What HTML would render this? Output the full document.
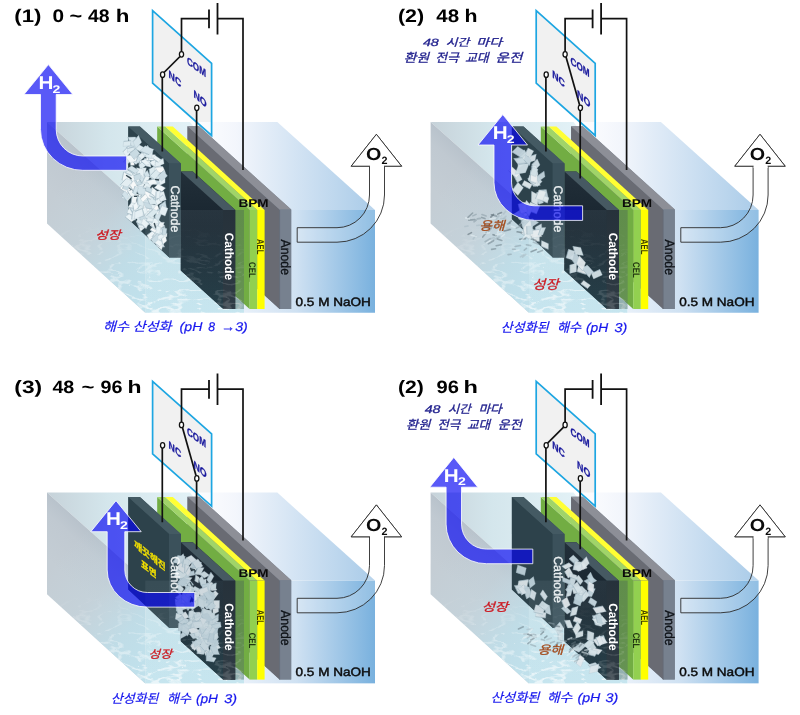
<!DOCTYPE html><html><head><meta charset="utf-8"><title>BPM electrolysis schematic</title><style>html,body{margin:0;padding:0;background:#fff}body{width:800px;height:715px;overflow:hidden;font-family:"Liberation Sans",sans-serif}svg{display:block;will-change:transform}text{font-kerning:none;white-space:pre}</style></head><body><svg width="800" height="715" viewBox="0 0 800 715" font-family="'Liberation Sans', sans-serif" text-rendering="geometricPrecision">
<defs>
<linearGradient id="gTop" gradientUnits="userSpaceOnUse" x1="190" y1="0" x2="375" y2="0">
 <stop offset="0" stop-color="#ffffff"/><stop offset="0.25" stop-color="#f3f6fc"/><stop offset="1" stop-color="#a9cbe8"/>
</linearGradient>
<linearGradient id="gTopSea" gradientUnits="userSpaceOnUse" x1="47" y1="0" x2="250" y2="0">
 <stop offset="0" stop-color="#c6d2d9"/><stop offset="0.3" stop-color="#d4e6ec"/><stop offset="0.7" stop-color="#e2f1f6"/><stop offset="1" stop-color="#ffffff" stop-opacity="0"/>
</linearGradient>
<linearGradient id="gLeft" gradientUnits="userSpaceOnUse" x1="100" y1="160" x2="62" y2="202">
 <stop offset="0" stop-color="#b0bac4"/><stop offset="0.15" stop-color="#b9c3cc"/><stop offset="0.4" stop-color="#c0c9d1"/><stop offset="1" stop-color="#c4cdd4"/>
</linearGradient>
<linearGradient id="gNaOH" gradientUnits="userSpaceOnUse" x1="244" y1="0" x2="375" y2="0">
 <stop offset="0" stop-color="#e8f0f9"/><stop offset="0.4" stop-color="#cfe1f2"/><stop offset="1" stop-color="#79b1de"/>
</linearGradient>
<linearGradient id="gFront" x1="0" y1="0" x2="0" y2="1">
 <stop offset="0" stop-color="#c9dde5" stop-opacity="0.07"/><stop offset="0.55" stop-color="#cfe6ee" stop-opacity="0.09"/><stop offset="1" stop-color="#d6edf5" stop-opacity="0.12"/>
</linearGradient>
<linearGradient id="gLeftH" gradientUnits="userSpaceOnUse" x1="47" y1="200" x2="145" y2="290">
 <stop offset="0" stop-color="#c6e0ea" stop-opacity="0"/><stop offset="0.4" stop-color="#c6e0ea" stop-opacity="0.25"/><stop offset="0.75" stop-color="#bfdfea" stop-opacity="0.85"/><stop offset="1" stop-color="#c0e1ec" stop-opacity="0.97"/>
</linearGradient>
<clipPath id="clipC1"><rect x="165" y="180" width="20" height="42.5"/></clipPath>
<linearGradient id="gInner" x1="0" y1="0" x2="0" y2="1">
 <stop offset="0" stop-color="#cfe3ea"/><stop offset="0.5" stop-color="#c6e3ec"/><stop offset="1" stop-color="#c4e4ee"/>
</linearGradient>
<linearGradient id="gLow" gradientUnits="userSpaceOnUse" x1="0" y1="225" x2="0" y2="312">
 <stop offset="0" stop-color="#000"/><stop offset="0.35" stop-color="#555"/><stop offset="1" stop-color="#fff"/>
</linearGradient>
<mask id="mLow" maskUnits="userSpaceOnUse" x="0" y="100" width="400" height="230"><rect x="0" y="100" width="400" height="230" fill="url(#gLow)"/></mask>
<linearGradient id="gCathL" x1="0" y1="0" x2="0" y2="1">
 <stop offset="0" stop-color="#222f39"/><stop offset="0.4" stop-color="#18252f"/><stop offset="1" stop-color="#0f2832"/>
</linearGradient>
<filter id="caust" x="0" y="0" width="100%" height="100%" color-interpolation-filters="sRGB">
 <feTurbulence type="turbulence" baseFrequency="0.05 0.11" numOctaves="2" seed="7" result="t"/>
 <feColorMatrix in="t" type="matrix" values="0 0 0 0 1  0 0 0 0 1  0 0 0 0 1  -9 0 0 0 1.5" result="m"/>
 <feComposite in="m" in2="SourceGraphic" operator="in"/>
</filter>
</defs>
<rect width="800" height="715" fill="#fff"/><g transform="translate(0 0)"><polygon points="152.6,10.7 211.6,63.3 211.6,135.5 152.6,83.2" fill="#f1f1f1" /><polygon points="47.0,122.0 277.3,122.0 375.0,210.0 145.3,210.0" fill="url(#gTop)" /><polygon points="47.0,122.0 190.0,122.0 258.0,210.0 145.3,210.0" fill="url(#gTopSea)" /><polygon points="47.0,122.0 145.3,210.0 145.3,312.8 47.0,223.6" fill="url(#gLeft)" /><polygon points="47.0,122.0 145.3,210.0 145.3,312.8 47.0,223.6" fill="url(#gLeftH)" /><polygon points="47.0,122.0 145.3,210.0 145.3,312.8 47.0,223.6" fill="#fff" filter="url(#caust)" mask="url(#mLow)" opacity="0.6"/><rect x="145.3" y="210" width="98.7" height="102.75" fill="url(#gInner)"/><rect x="145.3" y="210" width="98.7" height="102.75" fill="#fff" filter="url(#caust)" mask="url(#mLow)" opacity="0.6"/><rect x="244" y="210" width="131" height="102.75" fill="url(#gNaOH)"/><polygon points="187.5,126.2 199.1,126.2 291.2,209.6 291.2,308.9 279.6,308.9 187.5,225.5" fill="#77818f" /><polygon points="187.5,126.2 279.6,209.6 279.6,308.9 187.5,225.5" fill="#696b73" /><polygon points="187.5,126.2 199.1,126.2 291.2,209.6 279.6,209.6" fill="#8d8f97" /><polygon points="279.3,209.6 291.2,209.6 291.2,308.9 279.3,308.9" fill="#77818f" /><line x1="279.6" y1="210" x2="279.6" y2="309" stroke="#5c636e" stroke-width="0.6"/><polygon points="157.2,126.4 249.6,210.0 249.6,309.0 157.2,225.4" fill="#72ad43" /><polygon points="157.2,126.4 165.2,126.4 257.2,210.0 249.6,210.0" fill="#a0d468" /><polygon points="165.2,126.4 172.8,126.4 264.6,210.0 257.2,210.0" fill="#ffff33" /><rect x="249.6" y="210.0" width="7.6" height="99.0" fill="#92d050"/><rect x="257.2" y="210.0" width="7.4" height="99.0" fill="#ffff00"/><polygon points="180.8,171.6 192.8,171.6 235.3,210.1 235.3,309.1 223.3,309.1 180.8,270.6" fill="#1a252e" /><polygon points="180.8,171.6 223.3,210.1 223.3,309.1 180.8,270.6" fill="url(#gCathL)" /><polygon points="180.8,171.6 192.8,171.6 235.3,210.1 223.3,210.1" fill="#465962" /><polygon points="223.0,210.1 235.3,210.1 235.3,309.1 223.0,309.1" fill="#1a252e" /><polygon points="128.3,126.4 139.9,126.4 180.9,163.5 180.9,257.5 169.3,257.5 128.3,218.9" fill="#3b515b" /><polygon points="128.3,126.4 169.3,163.5 169.3,257.5 128.3,218.9" fill="#2d424b" /><polygon points="128.3,126.4 139.9,126.4 180.9,163.5 169.3,163.5" fill="#445a63" /><polygon points="169.0,163.5 180.9,163.5 180.9,257.5 169.0,257.5" fill="#3b515b" /><polygon points="145.7,194.2 145.5,203.4 139.5,201.0 139.7,191.8" fill="#dceaef" stroke="#a9c0ca" stroke-width="0.3" opacity="1.00"/><line x1="139.7" y1="191.8" x2="139.5" y2="201.0" stroke="#9db5c0" stroke-width="0.7" opacity="0.80"/><polygon points="141.8,200.4 147.4,203.1 145.3,206.6 139.6,203.9" fill="#f0f6f8" stroke="#a9c0ca" stroke-width="0.3" opacity="1.00"/><line x1="139.6" y1="203.9" x2="145.3" y2="206.6" stroke="#9db5c0" stroke-width="0.7" opacity="0.80"/><polygon points="145.4,181.6 142.2,189.4 135.3,190.1 138.5,182.3" fill="#e6f0f4" stroke="#a9c0ca" stroke-width="0.3" opacity="1.00"/><line x1="138.5" y1="182.3" x2="135.3" y2="190.1" stroke="#9db5c0" stroke-width="0.7" opacity="0.80"/><polygon points="133.5,159.8 134.5,165.3 130.7,165.4 129.7,159.9" fill="#f7f9f9" stroke="#a9c0ca" stroke-width="0.3" opacity="1.00"/><line x1="129.7" y1="159.9" x2="130.7" y2="165.4" stroke="#9db5c0" stroke-width="0.7" opacity="0.80"/><polygon points="147.6,211.0 140.3,211.1 141.4,206.7 148.7,206.6" fill="#e6f0f4" stroke="#a9c0ca" stroke-width="0.3" opacity="1.00"/><line x1="148.7" y1="206.6" x2="141.4" y2="206.7" stroke="#9db5c0" stroke-width="0.7" opacity="0.80"/><polygon points="140.9,160.2 136.0,164.6 133.3,162.4 138.2,157.9" fill="#d3e3ea" stroke="#a9c0ca" stroke-width="0.3" opacity="1.00"/><line x1="138.2" y1="157.9" x2="133.3" y2="162.4" stroke="#9db5c0" stroke-width="0.7" opacity="0.80"/><polygon points="166.0,229.9 160.8,231.4 159.6,228.5 164.9,227.0" fill="#c9dbe3" stroke="#a9c0ca" stroke-width="0.3" opacity="1.00"/><line x1="164.9" y1="227.0" x2="159.6" y2="228.5" stroke="#9db5c0" stroke-width="0.7" opacity="0.80"/><rect x="143.0" y="157.1" width="6.6" height="1.4" fill="#34464f" transform="rotate(56 147.1 157.8)"/><polygon points="131.6,210.8 131.8,216.3 128.2,216.7 127.9,211.2" fill="#f7f9f9" stroke="#a9c0ca" stroke-width="0.3" opacity="1.00"/><line x1="127.9" y1="211.2" x2="128.2" y2="216.7" stroke="#9db5c0" stroke-width="0.7" opacity="0.80"/><polygon points="128.9,212.9 134.5,215.1 135.4,220.1 129.8,217.9" fill="#f7f9f9" stroke="#a9c0ca" stroke-width="0.3" opacity="1.00"/><line x1="129.8" y1="217.9" x2="135.4" y2="220.1" stroke="#9db5c0" stroke-width="0.7" opacity="0.80"/><polygon points="153.5,239.5 161.4,240.0 164.6,246.9 156.8,246.4" fill="#e6f0f4" stroke="#a9c0ca" stroke-width="0.3" opacity="1.00"/><line x1="156.8" y1="246.4" x2="164.6" y2="246.9" stroke="#9db5c0" stroke-width="0.7" opacity="0.80"/><polygon points="134.6,184.4 129.8,187.2 126.1,184.8 130.9,182.0" fill="#e6f0f4" stroke="#a9c0ca" stroke-width="0.3" opacity="1.00"/><line x1="130.9" y1="182.0" x2="126.1" y2="184.8" stroke="#9db5c0" stroke-width="0.7" opacity="0.80"/><polygon points="149.8,159.4 151.0,167.3 145.8,166.0 144.6,158.2" fill="#e3eef2" stroke="#a9c0ca" stroke-width="0.3" opacity="1.00"/><line x1="144.6" y1="158.2" x2="145.8" y2="166.0" stroke="#9db5c0" stroke-width="0.7" opacity="0.80"/><polygon points="127.8,173.3 133.8,178.6 132.1,183.6 126.1,178.3" fill="#f7f9f9" stroke="#a9c0ca" stroke-width="0.3" opacity="1.00"/><line x1="126.1" y1="178.3" x2="132.1" y2="183.6" stroke="#9db5c0" stroke-width="0.7" opacity="0.80"/><polygon points="152.0,191.4 152.4,199.7 147.3,202.4 146.9,194.2" fill="#f0f6f8" stroke="#a9c0ca" stroke-width="0.3" opacity="1.00"/><line x1="146.9" y1="194.2" x2="147.3" y2="202.4" stroke="#9db5c0" stroke-width="0.7" opacity="0.80"/><polygon points="137.1,212.4 135.1,218.7 131.0,214.6 133.0,208.4" fill="#dceaef" stroke="#a9c0ca" stroke-width="0.3" opacity="1.00"/><line x1="133.0" y1="208.4" x2="131.0" y2="214.6" stroke="#9db5c0" stroke-width="0.7" opacity="0.80"/><polygon points="141.0,203.1 147.2,208.0 146.4,212.7 140.1,207.7" fill="#f0f6f8" stroke="#a9c0ca" stroke-width="0.3" opacity="1.00"/><line x1="140.1" y1="207.7" x2="146.4" y2="212.7" stroke="#9db5c0" stroke-width="0.7" opacity="0.80"/><polygon points="143.0,160.5 142.4,166.1 139.0,166.3 139.5,160.7" fill="#e6f0f4" stroke="#a9c0ca" stroke-width="0.3" opacity="1.00"/><line x1="139.5" y1="160.7" x2="139.0" y2="166.3" stroke="#9db5c0" stroke-width="0.7" opacity="0.80"/><polygon points="163.7,242.2 161.6,250.0 156.6,245.5 158.7,237.7" fill="#f0f6f8" stroke="#a9c0ca" stroke-width="0.3" opacity="1.00"/><line x1="158.7" y1="237.7" x2="156.6" y2="245.5" stroke="#9db5c0" stroke-width="0.7" opacity="0.80"/><polygon points="146.0,173.1 144.0,179.5 141.0,177.6 143.0,171.1" fill="#e6f0f4" stroke="#a9c0ca" stroke-width="0.3" opacity="1.00"/><line x1="143.0" y1="171.1" x2="141.0" y2="177.6" stroke="#9db5c0" stroke-width="0.7" opacity="0.80"/><polygon points="133.3,194.8 127.6,201.1 121.7,197.3 127.4,191.1" fill="#eaf3f6" stroke="#a9c0ca" stroke-width="0.3" opacity="1.00"/><line x1="127.4" y1="191.1" x2="121.7" y2="197.3" stroke="#9db5c0" stroke-width="0.7" opacity="0.80"/><polygon points="156.9,234.9 149.8,240.4 146.9,235.3 154.0,229.8" fill="#f0f6f8" stroke="#a9c0ca" stroke-width="0.3" opacity="1.00"/><line x1="154.0" y1="229.8" x2="146.9" y2="235.3" stroke="#9db5c0" stroke-width="0.7" opacity="0.80"/><polygon points="143.1,197.9 139.8,205.1 136.5,202.3 139.8,195.1" fill="#c9dbe3" stroke="#a9c0ca" stroke-width="0.3" opacity="1.00"/><line x1="139.8" y1="195.1" x2="136.5" y2="202.3" stroke="#9db5c0" stroke-width="0.7" opacity="0.80"/><polygon points="145.2,216.9 138.4,220.7 134.9,216.8 141.7,213.0" fill="#f0f6f8" stroke="#a9c0ca" stroke-width="0.3" opacity="1.00"/><line x1="141.7" y1="213.0" x2="134.9" y2="216.8" stroke="#9db5c0" stroke-width="0.7" opacity="0.80"/><polygon points="157.0,204.0 160.0,210.9 154.4,213.2 151.4,206.4" fill="#f7f9f9" stroke="#a9c0ca" stroke-width="0.3" opacity="1.00"/><line x1="151.4" y1="206.4" x2="154.4" y2="213.2" stroke="#9db5c0" stroke-width="0.7" opacity="0.80"/><polygon points="152.6,167.5 159.3,173.8 156.7,179.9 150.0,173.5" fill="#d3e3ea" stroke="#a9c0ca" stroke-width="0.3" opacity="1.00"/><line x1="150.0" y1="173.5" x2="156.7" y2="179.9" stroke="#9db5c0" stroke-width="0.7" opacity="0.80"/><polygon points="143.1,217.9 146.4,226.4 140.4,231.5 137.1,222.9" fill="#eaf3f6" stroke="#a9c0ca" stroke-width="0.3" opacity="1.00"/><line x1="137.1" y1="222.9" x2="140.4" y2="231.5" stroke="#9db5c0" stroke-width="0.7" opacity="0.80"/><polygon points="124.8,171.2 133.7,173.0 134.9,178.0 126.0,176.2" fill="#dceaef" stroke="#a9c0ca" stroke-width="0.3" opacity="1.00"/><line x1="126.0" y1="176.2" x2="134.9" y2="178.0" stroke="#9db5c0" stroke-width="0.7" opacity="0.80"/><polygon points="162.7,176.4 157.9,182.3 152.8,179.7 157.6,173.8" fill="#e3eef2" stroke="#a9c0ca" stroke-width="0.3" opacity="1.00"/><line x1="157.6" y1="173.8" x2="152.8" y2="179.7" stroke="#9db5c0" stroke-width="0.7" opacity="0.80"/><polygon points="157.7,162.1 162.7,168.2 157.6,171.1 152.6,165.0" fill="#f0f6f8" stroke="#a9c0ca" stroke-width="0.3" opacity="1.00"/><line x1="152.6" y1="165.0" x2="157.6" y2="171.1" stroke="#9db5c0" stroke-width="0.7" opacity="0.80"/><polygon points="145.8,156.0 139.2,161.5 135.7,157.8 142.3,152.3" fill="#e6f0f4" stroke="#a9c0ca" stroke-width="0.3" opacity="1.00"/><line x1="142.3" y1="152.3" x2="135.7" y2="157.8" stroke="#9db5c0" stroke-width="0.7" opacity="0.80"/><polygon points="155.7,205.5 150.9,212.8 143.7,210.6 148.5,203.3" fill="#e3eef2" stroke="#a9c0ca" stroke-width="0.3" opacity="1.00"/><line x1="148.5" y1="203.3" x2="143.7" y2="210.6" stroke="#9db5c0" stroke-width="0.7" opacity="0.80"/><polygon points="151.3,214.9 157.1,219.9 154.9,223.2 149.1,218.2" fill="#dceaef" stroke="#a9c0ca" stroke-width="0.3" opacity="1.00"/><line x1="149.1" y1="218.2" x2="154.9" y2="223.2" stroke="#9db5c0" stroke-width="0.7" opacity="0.80"/><polygon points="160.5,234.3 156.7,238.8 151.9,237.0 155.6,232.6" fill="#e3eef2" stroke="#a9c0ca" stroke-width="0.3" opacity="1.00"/><line x1="155.6" y1="232.6" x2="151.9" y2="237.0" stroke="#9db5c0" stroke-width="0.7" opacity="0.80"/><polygon points="146.7,201.8 150.2,208.5 146.3,213.8 142.8,207.1" fill="#f7f9f9" stroke="#a9c0ca" stroke-width="0.3" opacity="1.00"/><line x1="142.8" y1="207.1" x2="146.3" y2="213.8" stroke="#9db5c0" stroke-width="0.7" opacity="0.80"/><polygon points="158.6,219.8 165.2,226.2 159.7,227.8 153.1,221.5" fill="#e6f0f4" stroke="#a9c0ca" stroke-width="0.3" opacity="1.00"/><line x1="153.1" y1="221.5" x2="159.7" y2="227.8" stroke="#9db5c0" stroke-width="0.7" opacity="0.80"/><polygon points="151.6,223.3 145.5,226.3 140.3,222.7 146.4,219.7" fill="#e6f0f4" stroke="#a9c0ca" stroke-width="0.3" opacity="1.00"/><line x1="146.4" y1="219.7" x2="140.3" y2="222.7" stroke="#9db5c0" stroke-width="0.7" opacity="0.80"/><polygon points="138.1,178.8 143.2,183.0 138.3,185.9 133.2,181.7" fill="#c9dbe3" stroke="#a9c0ca" stroke-width="0.3" opacity="1.00"/><line x1="133.2" y1="181.7" x2="138.3" y2="185.9" stroke="#9db5c0" stroke-width="0.7" opacity="0.80"/><polygon points="129.8,169.4 137.5,173.2 133.1,176.3 125.3,172.5" fill="#e3eef2" stroke="#a9c0ca" stroke-width="0.3" opacity="1.00"/><line x1="125.3" y1="172.5" x2="133.1" y2="176.3" stroke="#9db5c0" stroke-width="0.7" opacity="0.80"/><polygon points="132.5,158.6 127.5,164.3 123.4,162.1 128.4,156.4" fill="#d3e3ea" stroke="#a9c0ca" stroke-width="0.3" opacity="1.00"/><line x1="128.4" y1="156.4" x2="123.4" y2="162.1" stroke="#9db5c0" stroke-width="0.7" opacity="0.80"/><polygon points="157.3,238.3 163.4,242.8 159.8,246.7 153.6,242.2" fill="#f0f6f8" stroke="#a9c0ca" stroke-width="0.3" opacity="1.00"/><line x1="153.6" y1="242.2" x2="159.8" y2="246.7" stroke="#9db5c0" stroke-width="0.7" opacity="0.80"/><polygon points="148.1,177.2 148.3,185.9 142.2,182.9 141.9,174.2" fill="#e6f0f4" stroke="#a9c0ca" stroke-width="0.3" opacity="1.00"/><line x1="141.9" y1="174.2" x2="142.2" y2="182.9" stroke="#9db5c0" stroke-width="0.7" opacity="0.80"/><polygon points="156.9,176.6 160.0,182.3 156.1,184.3 153.0,178.6" fill="#e3eef2" stroke="#a9c0ca" stroke-width="0.3" opacity="1.00"/><line x1="153.0" y1="178.6" x2="156.1" y2="184.3" stroke="#9db5c0" stroke-width="0.7" opacity="0.80"/><polygon points="132.2,180.4 128.9,184.9 125.5,183.9 128.8,179.4" fill="#f0f6f8" stroke="#a9c0ca" stroke-width="0.3" opacity="1.00"/><line x1="128.8" y1="179.4" x2="125.5" y2="183.9" stroke="#9db5c0" stroke-width="0.7" opacity="0.80"/><polygon points="136.5,210.0 134.0,216.3 130.7,213.1 133.2,206.8" fill="#e6f0f4" stroke="#a9c0ca" stroke-width="0.3" opacity="1.00"/><line x1="133.2" y1="206.8" x2="130.7" y2="213.1" stroke="#9db5c0" stroke-width="0.7" opacity="0.80"/><polygon points="145.7,211.3 154.0,211.9 153.2,218.6 144.9,218.0" fill="#dceaef" stroke="#a9c0ca" stroke-width="0.3" opacity="1.00"/><line x1="144.9" y1="218.0" x2="153.2" y2="218.6" stroke="#9db5c0" stroke-width="0.7" opacity="0.80"/><polygon points="161.4,191.2 160.5,197.6 156.7,198.2 157.6,191.9" fill="#dceaef" stroke="#a9c0ca" stroke-width="0.3" opacity="1.00"/><line x1="157.6" y1="191.9" x2="156.7" y2="198.2" stroke="#9db5c0" stroke-width="0.7" opacity="0.80"/><polygon points="154.5,220.6 159.5,228.2 153.8,229.7 148.8,222.1" fill="#f7f9f9" stroke="#a9c0ca" stroke-width="0.3" opacity="1.00"/><line x1="148.8" y1="222.1" x2="153.8" y2="229.7" stroke="#9db5c0" stroke-width="0.7" opacity="0.80"/><polygon points="129.6,143.3 138.3,145.8 135.0,150.0 126.3,147.5" fill="#c9dbe3" stroke="#a9c0ca" stroke-width="0.3" opacity="1.00"/><line x1="126.3" y1="147.5" x2="135.0" y2="150.0" stroke="#9db5c0" stroke-width="0.7" opacity="0.80"/><rect x="138.4" y="222.2" width="4.8" height="1.4" fill="#34464f" transform="rotate(123 141.4 222.9)"/><polygon points="129.6,205.9 138.2,209.1 135.4,216.3 126.9,213.0" fill="#eaf3f6" stroke="#a9c0ca" stroke-width="0.3" opacity="1.00"/><line x1="126.9" y1="213.0" x2="135.4" y2="216.3" stroke="#9db5c0" stroke-width="0.7" opacity="0.80"/><polygon points="148.6,154.8 154.3,155.5 155.3,158.7 149.5,158.1" fill="#e3eef2" stroke="#a9c0ca" stroke-width="0.3" opacity="1.00"/><line x1="149.5" y1="158.1" x2="155.3" y2="158.7" stroke="#9db5c0" stroke-width="0.7" opacity="0.80"/><polygon points="138.7,160.7 130.0,162.7 125.1,156.2 133.7,154.1" fill="#f0f6f8" stroke="#a9c0ca" stroke-width="0.3" opacity="1.00"/><line x1="133.7" y1="154.1" x2="125.1" y2="156.2" stroke="#9db5c0" stroke-width="0.7" opacity="0.80"/><polygon points="127.6,175.6 133.3,180.0 129.1,182.4 123.4,178.0" fill="#f0f6f8" stroke="#a9c0ca" stroke-width="0.3" opacity="1.00"/><line x1="123.4" y1="178.0" x2="129.1" y2="182.4" stroke="#9db5c0" stroke-width="0.7" opacity="0.80"/><polygon points="129.4,181.0 136.3,185.8 134.1,190.9 127.2,186.1" fill="#f0f6f8" stroke="#a9c0ca" stroke-width="0.3" opacity="1.00"/><line x1="127.2" y1="186.1" x2="134.1" y2="190.9" stroke="#9db5c0" stroke-width="0.7" opacity="0.80"/><polygon points="158.5,231.3 166.2,236.6 160.5,240.6 152.9,235.4" fill="#eaf3f6" stroke="#a9c0ca" stroke-width="0.3" opacity="1.00"/><line x1="152.9" y1="235.4" x2="160.5" y2="240.6" stroke="#9db5c0" stroke-width="0.7" opacity="0.80"/><polygon points="158.5,223.1 150.2,225.9 150.1,220.0 158.4,217.2" fill="#eaf3f6" stroke="#a9c0ca" stroke-width="0.3" opacity="1.00"/><line x1="158.4" y1="217.2" x2="150.1" y2="220.0" stroke="#9db5c0" stroke-width="0.7" opacity="0.80"/><polygon points="155.5,176.8 159.5,184.2 154.7,184.5 150.7,177.1" fill="#f0f6f8" stroke="#a9c0ca" stroke-width="0.3" opacity="1.00"/><line x1="150.7" y1="177.1" x2="154.7" y2="184.5" stroke="#9db5c0" stroke-width="0.7" opacity="0.80"/><polygon points="166.8,236.7 161.2,237.4 161.4,233.9 167.1,233.2" fill="#f7f9f9" stroke="#a9c0ca" stroke-width="0.3" opacity="1.00"/><line x1="167.1" y1="233.2" x2="161.4" y2="233.9" stroke="#9db5c0" stroke-width="0.7" opacity="0.80"/><polygon points="150.8,194.3 147.7,200.7 143.8,195.0 146.9,188.6" fill="#c9dbe3" stroke="#a9c0ca" stroke-width="0.3" opacity="1.00"/><line x1="146.9" y1="188.6" x2="143.8" y2="195.0" stroke="#9db5c0" stroke-width="0.7" opacity="0.80"/><polygon points="151.8,160.4 157.6,164.5 156.3,168.1 150.5,164.0" fill="#e6f0f4" stroke="#a9c0ca" stroke-width="0.3" opacity="1.00"/><line x1="150.5" y1="164.0" x2="156.3" y2="168.1" stroke="#9db5c0" stroke-width="0.7" opacity="0.80"/><polygon points="138.2,170.2 137.7,177.9 132.8,176.7 133.3,169.1" fill="#e6f0f4" stroke="#a9c0ca" stroke-width="0.3" opacity="1.00"/><line x1="133.3" y1="169.1" x2="132.8" y2="176.7" stroke="#9db5c0" stroke-width="0.7" opacity="0.80"/><polygon points="147.9,216.6 152.9,219.3 148.9,222.5 143.9,219.7" fill="#dceaef" stroke="#a9c0ca" stroke-width="0.3" opacity="1.00"/><line x1="143.9" y1="219.7" x2="148.9" y2="222.5" stroke="#9db5c0" stroke-width="0.7" opacity="0.80"/><polygon points="145.6,197.0 150.1,202.6 146.8,206.3 142.3,200.6" fill="#d3e3ea" stroke="#a9c0ca" stroke-width="0.3" opacity="1.00"/><line x1="142.3" y1="200.6" x2="146.8" y2="206.3" stroke="#9db5c0" stroke-width="0.7" opacity="0.80"/><polygon points="139.7,207.1 134.8,213.1 132.2,209.0 137.0,203.0" fill="#f0f6f8" stroke="#a9c0ca" stroke-width="0.3" opacity="1.00"/><line x1="137.0" y1="203.0" x2="132.2" y2="209.0" stroke="#9db5c0" stroke-width="0.7" opacity="0.80"/><polygon points="143.4,202.2 150.5,203.4 152.4,209.1 145.4,207.9" fill="#c9dbe3" stroke="#a9c0ca" stroke-width="0.3" opacity="1.00"/><line x1="145.4" y1="207.9" x2="152.4" y2="209.1" stroke="#9db5c0" stroke-width="0.7" opacity="0.80"/><polygon points="165.4,235.3 166.7,240.9 162.7,244.5 161.4,238.8" fill="#f7f9f9" stroke="#a9c0ca" stroke-width="0.3" opacity="1.00"/><line x1="161.4" y1="238.8" x2="162.7" y2="244.5" stroke="#9db5c0" stroke-width="0.7" opacity="0.80"/><polygon points="139.0,144.7 146.9,148.9 143.3,153.3 135.4,149.1" fill="#dceaef" stroke="#a9c0ca" stroke-width="0.3" opacity="1.00"/><line x1="135.4" y1="149.1" x2="143.3" y2="153.3" stroke="#9db5c0" stroke-width="0.7" opacity="0.80"/><polygon points="146.3,165.1 140.3,170.2 139.1,164.5 145.1,159.5" fill="#dceaef" stroke="#a9c0ca" stroke-width="0.3" opacity="1.00"/><line x1="145.1" y1="159.5" x2="139.1" y2="164.5" stroke="#9db5c0" stroke-width="0.7" opacity="0.80"/><polygon points="158.2,161.8 153.6,165.6 149.5,162.6 154.2,158.9" fill="#eaf3f6" stroke="#a9c0ca" stroke-width="0.3" opacity="1.00"/><line x1="154.2" y1="158.9" x2="149.5" y2="162.6" stroke="#9db5c0" stroke-width="0.7" opacity="0.80"/><polygon points="148.0,211.1 153.4,217.4 149.7,220.4 144.4,214.1" fill="#f7f9f9" stroke="#a9c0ca" stroke-width="0.3" opacity="1.00"/><line x1="144.4" y1="214.1" x2="149.7" y2="220.4" stroke="#9db5c0" stroke-width="0.7" opacity="0.80"/><polygon points="147.0,154.5 155.3,154.7 154.2,160.6 146.0,160.4" fill="#f0f6f8" stroke="#a9c0ca" stroke-width="0.3" opacity="1.00"/><line x1="146.0" y1="160.4" x2="154.2" y2="160.6" stroke="#9db5c0" stroke-width="0.7" opacity="0.80"/><polygon points="131.4,193.9 128.4,198.8 125.8,197.3 128.8,192.3" fill="#eaf3f6" stroke="#a9c0ca" stroke-width="0.3" opacity="1.00"/><line x1="128.8" y1="192.3" x2="125.8" y2="197.3" stroke="#9db5c0" stroke-width="0.7" opacity="0.80"/><polygon points="142.2,173.9 135.4,176.9 135.1,172.5 142.0,169.5" fill="#e3eef2" stroke="#a9c0ca" stroke-width="0.3" opacity="1.00"/><line x1="142.0" y1="169.5" x2="135.1" y2="172.5" stroke="#9db5c0" stroke-width="0.7" opacity="0.80"/><polygon points="148.2,216.2 152.5,220.8 150.7,224.9 146.4,220.3" fill="#eaf3f6" stroke="#a9c0ca" stroke-width="0.3" opacity="1.00"/><line x1="146.4" y1="220.3" x2="150.7" y2="224.9" stroke="#9db5c0" stroke-width="0.7" opacity="0.80"/><polygon points="161.9,202.2 156.2,205.7 154.0,201.1 159.7,197.6" fill="#eaf3f6" stroke="#a9c0ca" stroke-width="0.3" opacity="1.00"/><line x1="159.7" y1="197.6" x2="154.0" y2="201.1" stroke="#9db5c0" stroke-width="0.7" opacity="0.80"/><polygon points="146.4,167.8 144.7,175.3 139.6,175.5 141.2,168.0" fill="#e3eef2" stroke="#a9c0ca" stroke-width="0.3" opacity="1.00"/><line x1="141.2" y1="168.0" x2="139.6" y2="175.5" stroke="#9db5c0" stroke-width="0.7" opacity="0.80"/><polygon points="135.7,208.4 132.0,212.8 130.3,209.3 134.1,204.9" fill="#d3e3ea" stroke="#a9c0ca" stroke-width="0.3" opacity="1.00"/><line x1="134.1" y1="204.9" x2="130.3" y2="209.3" stroke="#9db5c0" stroke-width="0.7" opacity="0.80"/><polygon points="133.7,203.8 137.3,209.5 132.8,212.8 129.2,207.1" fill="#d3e3ea" stroke="#a9c0ca" stroke-width="0.3" opacity="1.00"/><line x1="129.2" y1="207.1" x2="132.8" y2="212.8" stroke="#9db5c0" stroke-width="0.7" opacity="0.80"/><polygon points="161.4,170.7 154.8,172.1 151.8,168.3 158.4,166.9" fill="#f7f9f9" stroke="#a9c0ca" stroke-width="0.3" opacity="1.00"/><line x1="158.4" y1="166.9" x2="151.8" y2="168.3" stroke="#9db5c0" stroke-width="0.7" opacity="0.80"/><polygon points="153.4,196.2 156.9,204.2 149.8,204.4 146.3,196.5" fill="#dceaef" stroke="#a9c0ca" stroke-width="0.3" opacity="1.00"/><line x1="146.3" y1="196.5" x2="149.8" y2="204.4" stroke="#9db5c0" stroke-width="0.7" opacity="0.80"/><rect x="142.7" y="154.7" width="6.8" height="1.4" fill="#34464f" transform="rotate(51 147.0 155.4)"/><polygon points="149.7,194.2 146.1,201.1 140.6,197.5 144.2,190.6" fill="#e6f0f4" stroke="#a9c0ca" stroke-width="0.3" opacity="1.00"/><line x1="144.2" y1="190.6" x2="140.6" y2="197.5" stroke="#9db5c0" stroke-width="0.7" opacity="0.80"/><polygon points="134.5,193.1 140.9,195.3 139.0,198.9 132.5,196.7" fill="#f0f6f8" stroke="#a9c0ca" stroke-width="0.3" opacity="1.00"/><line x1="132.5" y1="196.7" x2="139.0" y2="198.9" stroke="#9db5c0" stroke-width="0.7" opacity="0.80"/><polygon points="129.2,214.1 135.5,219.3 131.3,222.0 125.0,216.8" fill="#eaf3f6" stroke="#a9c0ca" stroke-width="0.3" opacity="1.00"/><line x1="125.0" y1="216.8" x2="131.3" y2="222.0" stroke="#9db5c0" stroke-width="0.7" opacity="0.80"/><polygon points="143.6,169.3 143.8,178.6 136.9,177.1 136.7,167.7" fill="#e6f0f4" stroke="#a9c0ca" stroke-width="0.3" opacity="1.00"/><line x1="136.7" y1="167.7" x2="136.9" y2="177.1" stroke="#9db5c0" stroke-width="0.7" opacity="0.80"/><polygon points="165.1,182.8 157.2,186.7 157.1,179.6 165.0,175.6" fill="#e6f0f4" stroke="#a9c0ca" stroke-width="0.3" opacity="1.00"/><line x1="165.0" y1="175.6" x2="157.1" y2="179.6" stroke="#9db5c0" stroke-width="0.7" opacity="0.80"/><polygon points="166.4,207.4 160.2,211.8 159.2,205.5 165.4,201.1" fill="#c9dbe3" stroke="#a9c0ca" stroke-width="0.3" opacity="1.00"/><line x1="165.4" y1="201.1" x2="159.2" y2="205.5" stroke="#9db5c0" stroke-width="0.7" opacity="0.80"/><polygon points="134.3,148.2 138.6,155.0 134.4,159.5 130.1,152.7" fill="#d3e3ea" stroke="#a9c0ca" stroke-width="0.3" opacity="1.00"/><line x1="130.1" y1="152.7" x2="134.4" y2="159.5" stroke="#9db5c0" stroke-width="0.7" opacity="0.80"/><polygon points="158.1,184.0 165.5,187.9 161.8,191.7 154.3,187.8" fill="#f0f6f8" stroke="#a9c0ca" stroke-width="0.3" opacity="1.00"/><line x1="154.3" y1="187.8" x2="161.8" y2="191.7" stroke="#9db5c0" stroke-width="0.7" opacity="0.80"/><polygon points="123.4,184.4 130.5,189.5 126.9,193.4 119.8,188.4" fill="#f7f9f9" stroke="#a9c0ca" stroke-width="0.3" opacity="1.00"/><line x1="119.8" y1="188.4" x2="126.9" y2="193.4" stroke="#9db5c0" stroke-width="0.7" opacity="0.80"/><polygon points="145.2,188.0 147.4,194.9 141.5,195.9 139.3,188.9" fill="#d3e3ea" stroke="#a9c0ca" stroke-width="0.3" opacity="1.00"/><line x1="139.3" y1="188.9" x2="141.5" y2="195.9" stroke="#9db5c0" stroke-width="0.7" opacity="0.80"/><polygon points="163.7,191.3 166.3,199.8 160.7,201.8 158.0,193.3" fill="#e6f0f4" stroke="#a9c0ca" stroke-width="0.3" opacity="1.00"/><line x1="158.0" y1="193.3" x2="160.7" y2="201.8" stroke="#9db5c0" stroke-width="0.7" opacity="0.80"/><polygon points="135.5,137.0 138.8,145.7 131.1,145.9 127.9,137.2" fill="#d3e3ea" stroke="#a9c0ca" stroke-width="0.3" opacity="1.00"/><line x1="127.9" y1="137.2" x2="131.1" y2="145.9" stroke="#9db5c0" stroke-width="0.7" opacity="0.80"/><polygon points="158.8,226.6 165.3,233.0 161.6,237.7 155.0,231.3" fill="#dceaef" stroke="#a9c0ca" stroke-width="0.3" opacity="1.00"/><line x1="155.0" y1="231.3" x2="161.6" y2="237.7" stroke="#9db5c0" stroke-width="0.7" opacity="0.80"/><polygon points="164.4,222.2 162.2,227.8 157.2,228.0 159.4,222.4" fill="#f0f6f8" stroke="#a9c0ca" stroke-width="0.3" opacity="1.00"/><line x1="159.4" y1="222.4" x2="157.2" y2="228.0" stroke="#9db5c0" stroke-width="0.7" opacity="0.80"/><polygon points="156.9,225.1 162.7,231.7 157.8,233.1 152.0,226.5" fill="#e6f0f4" stroke="#a9c0ca" stroke-width="0.3" opacity="1.00"/><line x1="152.0" y1="226.5" x2="157.8" y2="233.1" stroke="#9db5c0" stroke-width="0.7" opacity="0.80"/><polygon points="152.9,192.5 159.2,196.6 156.0,199.1 149.7,194.9" fill="#e6f0f4" stroke="#a9c0ca" stroke-width="0.3" opacity="1.00"/><line x1="149.7" y1="194.9" x2="156.0" y2="199.1" stroke="#9db5c0" stroke-width="0.7" opacity="0.80"/><polygon points="143.0,186.3 148.1,194.1 139.0,194.4 134.0,186.7" fill="#d3e3ea" stroke="#a9c0ca" stroke-width="0.3" opacity="1.00"/><line x1="134.0" y1="186.7" x2="139.0" y2="194.4" stroke="#9db5c0" stroke-width="0.7" opacity="0.80"/><polygon points="132.1,151.0 126.4,156.9 122.9,151.9 128.6,146.0" fill="#e6f0f4" stroke="#a9c0ca" stroke-width="0.3" opacity="1.00"/><line x1="128.6" y1="146.0" x2="122.9" y2="151.9" stroke="#9db5c0" stroke-width="0.7" opacity="0.80"/><polygon points="128.0,174.9 126.3,183.1 122.0,180.1 123.7,171.9" fill="#f0f6f8" stroke="#a9c0ca" stroke-width="0.3" opacity="1.00"/><line x1="123.7" y1="171.9" x2="122.0" y2="180.1" stroke="#9db5c0" stroke-width="0.7" opacity="0.80"/><polygon points="161.8,213.2 158.3,221.6 154.7,217.1 158.3,208.7" fill="#d3e3ea" stroke="#a9c0ca" stroke-width="0.3" opacity="1.00"/><line x1="158.3" y1="208.7" x2="154.7" y2="217.1" stroke="#9db5c0" stroke-width="0.7" opacity="0.80"/><polygon points="155.5,194.6 157.7,200.0 153.9,199.6 151.7,194.2" fill="#d3e3ea" stroke="#a9c0ca" stroke-width="0.3" opacity="1.00"/><line x1="151.7" y1="194.2" x2="153.9" y2="199.6" stroke="#9db5c0" stroke-width="0.7" opacity="0.80"/><polygon points="143.4,211.7 149.9,213.7 150.7,219.5 144.1,217.6" fill="#e6f0f4" stroke="#a9c0ca" stroke-width="0.3" opacity="1.00"/><line x1="144.1" y1="217.6" x2="150.7" y2="219.5" stroke="#9db5c0" stroke-width="0.7" opacity="0.80"/><polygon points="150.9,151.9 151.6,158.1 148.5,159.5 147.8,153.3" fill="#e6f0f4" stroke="#a9c0ca" stroke-width="0.3" opacity="1.00"/><line x1="147.8" y1="153.3" x2="148.5" y2="159.5" stroke="#9db5c0" stroke-width="0.7" opacity="0.80"/><polygon points="134.4,150.7 127.5,152.4 127.2,148.6 134.1,146.9" fill="#dceaef" stroke="#a9c0ca" stroke-width="0.3" opacity="1.00"/><line x1="134.1" y1="146.9" x2="127.2" y2="148.6" stroke="#9db5c0" stroke-width="0.7" opacity="0.80"/><rect x="151.7" y="225.6" width="5.6" height="1.4" fill="#34464f" transform="rotate(74 155.2 226.3)"/><polygon points="146.5,209.7 142.0,218.0 134.5,216.3 139.1,208.0" fill="#f0f6f8" stroke="#a9c0ca" stroke-width="0.3" opacity="1.00"/><line x1="139.1" y1="208.0" x2="134.5" y2="216.3" stroke="#9db5c0" stroke-width="0.7" opacity="0.80"/><polygon points="131.4,166.1 137.3,170.5 132.7,173.4 126.8,169.0" fill="#d3e3ea" stroke="#a9c0ca" stroke-width="0.3" opacity="1.00"/><line x1="126.8" y1="169.0" x2="132.7" y2="173.4" stroke="#9db5c0" stroke-width="0.7" opacity="0.80"/><polygon points="153.0,150.0 151.7,158.5 144.9,156.8 146.2,148.3" fill="#dceaef" stroke="#a9c0ca" stroke-width="0.3" opacity="1.00"/><line x1="146.2" y1="148.3" x2="144.9" y2="156.8" stroke="#9db5c0" stroke-width="0.7" opacity="0.80"/><polygon points="165.3,198.3 161.0,201.9 158.6,198.5 162.9,194.9" fill="#e3eef2" stroke="#a9c0ca" stroke-width="0.3" opacity="1.00"/><line x1="162.9" y1="194.9" x2="158.6" y2="198.5" stroke="#9db5c0" stroke-width="0.7" opacity="0.80"/><polygon points="154.6,166.4 155.7,175.6 150.2,178.0 149.1,168.9" fill="#dceaef" stroke="#a9c0ca" stroke-width="0.3" opacity="1.00"/><line x1="149.1" y1="168.9" x2="150.2" y2="178.0" stroke="#9db5c0" stroke-width="0.7" opacity="0.80"/><polygon points="146.2,192.7 151.2,195.6 148.3,199.4 143.3,196.5" fill="#eaf3f6" stroke="#a9c0ca" stroke-width="0.3" opacity="1.00"/><line x1="143.3" y1="196.5" x2="148.3" y2="199.4" stroke="#9db5c0" stroke-width="0.7" opacity="0.80"/><polygon points="137.3,194.8 136.0,203.5 131.0,203.4 132.3,194.6" fill="#f0f6f8" stroke="#a9c0ca" stroke-width="0.3" opacity="1.00"/><line x1="132.3" y1="194.6" x2="131.0" y2="203.4" stroke="#9db5c0" stroke-width="0.7" opacity="0.80"/><polygon points="160.8,237.1 153.9,243.7 150.8,239.5 157.7,232.9" fill="#c9dbe3" stroke="#a9c0ca" stroke-width="0.3" opacity="1.00"/><line x1="157.7" y1="232.9" x2="150.8" y2="239.5" stroke="#9db5c0" stroke-width="0.7" opacity="0.80"/><polygon points="147.4,217.7 153.5,218.3 152.8,222.2 146.7,221.6" fill="#e6f0f4" stroke="#a9c0ca" stroke-width="0.3" opacity="1.00"/><line x1="146.7" y1="221.6" x2="152.8" y2="222.2" stroke="#9db5c0" stroke-width="0.7" opacity="0.80"/><polygon points="132.1,189.7 135.4,195.4 130.8,196.6 127.5,191.0" fill="#f0f6f8" stroke="#a9c0ca" stroke-width="0.3" opacity="1.00"/><line x1="127.5" y1="191.0" x2="130.8" y2="196.6" stroke="#9db5c0" stroke-width="0.7" opacity="0.80"/><polygon points="156.3,176.6 159.8,183.3 155.7,184.1 152.2,177.4" fill="#c9dbe3" stroke="#a9c0ca" stroke-width="0.3" opacity="1.00"/><line x1="152.2" y1="177.4" x2="155.7" y2="184.1" stroke="#9db5c0" stroke-width="0.7" opacity="0.80"/><polygon points="161.0,227.1 159.6,234.1 155.0,233.0 156.5,226.0" fill="#eaf3f6" stroke="#a9c0ca" stroke-width="0.3" opacity="1.00"/><line x1="156.5" y1="226.0" x2="155.0" y2="233.0" stroke="#9db5c0" stroke-width="0.7" opacity="0.80"/><polygon points="141.6,142.3 136.0,148.6 133.0,141.7 138.6,135.4" fill="#d3e3ea" stroke="#a9c0ca" stroke-width="0.3" opacity="1.00"/><line x1="138.6" y1="135.4" x2="133.0" y2="141.7" stroke="#9db5c0" stroke-width="0.7" opacity="0.80"/><polygon points="164.1,163.8 155.9,167.2 155.0,162.0 163.2,158.5" fill="#e3eef2" stroke="#a9c0ca" stroke-width="0.3" opacity="1.00"/><line x1="163.2" y1="158.5" x2="155.0" y2="162.0" stroke="#9db5c0" stroke-width="0.7" opacity="0.80"/><polygon points="145.2,159.1 150.2,163.6 145.9,165.5 140.9,161.0" fill="#eaf3f6" stroke="#a9c0ca" stroke-width="0.3" opacity="1.00"/><line x1="140.9" y1="161.0" x2="145.9" y2="165.5" stroke="#9db5c0" stroke-width="0.7" opacity="0.80"/><polygon points="144.4,222.0 143.1,228.3 138.3,227.1 139.7,220.9" fill="#e6f0f4" stroke="#a9c0ca" stroke-width="0.3" opacity="1.00"/><line x1="139.7" y1="220.9" x2="138.3" y2="227.1" stroke="#9db5c0" stroke-width="0.7" opacity="0.80"/><polygon points="145.6,183.2 152.3,183.7 149.5,188.5 142.8,188.0" fill="#e3eef2" stroke="#a9c0ca" stroke-width="0.3" opacity="1.00"/><line x1="142.8" y1="188.0" x2="149.5" y2="188.5" stroke="#9db5c0" stroke-width="0.7" opacity="0.80"/><rect x="153.7" y="179.0" width="5.5" height="1.4" fill="#34464f" transform="rotate(8 157.1 179.7)"/><polygon points="165.5,172.6 158.0,173.1 155.4,167.1 162.9,166.6" fill="#f7f9f9" stroke="#a9c0ca" stroke-width="0.3" opacity="1.00"/><line x1="162.9" y1="166.6" x2="155.4" y2="167.1" stroke="#9db5c0" stroke-width="0.7" opacity="0.80"/><polygon points="162.8,212.2 157.6,214.7 154.9,212.1 160.1,209.7" fill="#f0f6f8" stroke="#a9c0ca" stroke-width="0.3" opacity="1.00"/><line x1="160.1" y1="209.7" x2="154.9" y2="212.1" stroke="#9db5c0" stroke-width="0.7" opacity="0.80"/><polygon points="131.3,202.8 137.5,203.8 133.9,208.3 127.7,207.4" fill="#eaf3f6" stroke="#a9c0ca" stroke-width="0.3" opacity="1.00"/><line x1="127.7" y1="207.4" x2="133.9" y2="208.3" stroke="#9db5c0" stroke-width="0.7" opacity="0.80"/><polygon points="141.7,184.2 132.8,185.4 129.2,180.3 138.2,179.1" fill="#c9dbe3" stroke="#a9c0ca" stroke-width="0.3" opacity="1.00"/><line x1="138.2" y1="179.1" x2="129.2" y2="180.3" stroke="#9db5c0" stroke-width="0.7" opacity="0.80"/><polygon points="131.9,166.0 138.9,170.5 135.0,173.6 127.9,169.1" fill="#d3e3ea" stroke="#a9c0ca" stroke-width="0.3" opacity="1.00"/><line x1="127.9" y1="169.1" x2="135.0" y2="173.6" stroke="#9db5c0" stroke-width="0.7" opacity="0.80"/><polygon points="138.6,203.9 145.4,209.8 140.2,213.8 133.4,207.8" fill="#dceaef" stroke="#a9c0ca" stroke-width="0.3" opacity="1.00"/><line x1="133.4" y1="207.8" x2="140.2" y2="213.8" stroke="#9db5c0" stroke-width="0.7" opacity="0.80"/><polygon points="137.2,201.6 138.3,207.4 134.0,211.2 132.9,205.4" fill="#f0f6f8" stroke="#a9c0ca" stroke-width="0.3" opacity="1.00"/><line x1="132.9" y1="205.4" x2="134.0" y2="211.2" stroke="#9db5c0" stroke-width="0.7" opacity="0.80"/><polygon points="145.4,190.8 151.7,194.3 150.5,199.4 144.3,195.9" fill="#f7f9f9" stroke="#a9c0ca" stroke-width="0.3" opacity="1.00"/><line x1="144.3" y1="195.9" x2="150.5" y2="199.4" stroke="#9db5c0" stroke-width="0.7" opacity="0.80"/><rect x="132.5" y="195.6" width="5.0" height="1.4" fill="#34464f" transform="rotate(178 135.7 196.3)"/><polygon points="145.9,214.4 145.9,221.5 140.1,222.7 140.1,215.7" fill="#eaf3f6" stroke="#a9c0ca" stroke-width="0.3" opacity="1.00"/><line x1="140.1" y1="215.7" x2="140.1" y2="222.7" stroke="#9db5c0" stroke-width="0.7" opacity="0.80"/><polygon points="151.8,190.3 159.2,193.1 156.8,198.6 149.4,195.9" fill="#e3eef2" stroke="#a9c0ca" stroke-width="0.3" opacity="1.00"/><line x1="149.4" y1="195.9" x2="156.8" y2="198.6" stroke="#9db5c0" stroke-width="0.7" opacity="0.80"/><polygon points="137.9,210.3 136.7,218.6 131.6,219.3 132.8,211.0" fill="#e3eef2" stroke="#a9c0ca" stroke-width="0.3" opacity="1.00"/><line x1="132.8" y1="211.0" x2="131.6" y2="219.3" stroke="#9db5c0" stroke-width="0.7" opacity="0.80"/><polygon points="130.7,182.0 127.7,190.5 122.5,188.6 125.5,180.1" fill="#c9dbe3" stroke="#a9c0ca" stroke-width="0.3" opacity="1.00"/><line x1="125.5" y1="180.1" x2="122.5" y2="188.6" stroke="#9db5c0" stroke-width="0.7" opacity="0.80"/><polygon points="152.0,227.6 156.8,230.6 154.8,232.9 150.0,229.9" fill="#f7f9f9" stroke="#a9c0ca" stroke-width="0.3" opacity="1.00"/><line x1="150.0" y1="229.9" x2="154.8" y2="232.9" stroke="#9db5c0" stroke-width="0.7" opacity="0.80"/><polygon points="133.0,180.8 127.3,186.9 120.4,184.8 126.0,178.7" fill="#e3eef2" stroke="#a9c0ca" stroke-width="0.3" opacity="1.00"/><line x1="126.0" y1="178.7" x2="120.4" y2="184.8" stroke="#9db5c0" stroke-width="0.7" opacity="0.80"/><polygon points="140.1,153.5 133.6,158.6 129.3,153.7 135.8,148.5" fill="#c9dbe3" stroke="#a9c0ca" stroke-width="0.3" opacity="1.00"/><line x1="135.8" y1="148.5" x2="129.3" y2="153.7" stroke="#9db5c0" stroke-width="0.7" opacity="0.80"/><polygon points="158.3,211.2 151.6,217.7 146.5,215.6 153.3,209.1" fill="#dceaef" stroke="#a9c0ca" stroke-width="0.3" opacity="1.00"/><line x1="153.3" y1="209.1" x2="146.5" y2="215.6" stroke="#9db5c0" stroke-width="0.7" opacity="0.80"/><polygon points="145.8,218.6 140.5,220.5 139.6,217.3 144.9,215.4" fill="#c9dbe3" stroke="#a9c0ca" stroke-width="0.3" opacity="1.00"/><line x1="144.9" y1="215.4" x2="139.6" y2="217.3" stroke="#9db5c0" stroke-width="0.7" opacity="0.80"/><polygon points="168.0,208.3 165.1,216.1 158.7,213.3 161.6,205.4" fill="#e6f0f4" stroke="#a9c0ca" stroke-width="0.3" opacity="1.00"/><line x1="161.6" y1="205.4" x2="158.7" y2="213.3" stroke="#9db5c0" stroke-width="0.7" opacity="0.80"/><polygon points="133.6,179.9 138.2,188.0 134.7,193.6 130.2,185.6" fill="#f7f9f9" stroke="#a9c0ca" stroke-width="0.3" opacity="1.00"/><line x1="130.2" y1="185.6" x2="134.7" y2="193.6" stroke="#9db5c0" stroke-width="0.7" opacity="0.80"/><polygon points="143.8,206.1 140.5,210.8 137.5,208.9 140.8,204.2" fill="#dceaef" stroke="#a9c0ca" stroke-width="0.3" opacity="1.00"/><line x1="140.8" y1="204.2" x2="137.5" y2="208.9" stroke="#9db5c0" stroke-width="0.7" opacity="0.80"/><polygon points="138.1,218.5 143.5,222.0 141.4,225.4 136.0,221.9" fill="#dceaef" stroke="#a9c0ca" stroke-width="0.3" opacity="1.00"/><line x1="136.0" y1="221.9" x2="141.4" y2="225.4" stroke="#9db5c0" stroke-width="0.7" opacity="0.80"/><polygon points="143.3,198.2 143.5,206.7 137.8,204.4 137.5,195.9" fill="#dceaef" stroke="#a9c0ca" stroke-width="0.3" opacity="1.00"/><line x1="137.5" y1="195.9" x2="137.8" y2="204.4" stroke="#9db5c0" stroke-width="0.7" opacity="0.80"/><polygon points="133.4,174.6 135.9,179.9 131.9,181.6 129.5,176.3" fill="#f0f6f8" stroke="#a9c0ca" stroke-width="0.3" opacity="1.00"/><line x1="129.5" y1="176.3" x2="131.9" y2="181.6" stroke="#9db5c0" stroke-width="0.7" opacity="0.80"/><polygon points="152.0,186.9 158.1,191.9 156.3,197.7 150.3,192.8" fill="#f0f6f8" stroke="#a9c0ca" stroke-width="0.3" opacity="1.00"/><line x1="150.3" y1="192.8" x2="156.3" y2="197.7" stroke="#9db5c0" stroke-width="0.7" opacity="0.80"/><rect x="157.7" y="174.9" width="6.9" height="1.4" fill="#34464f" transform="rotate(163 162.0 175.6)"/><polygon points="137.6,174.1 140.6,179.1 137.2,182.5 134.1,177.5" fill="#f0f6f8" stroke="#a9c0ca" stroke-width="0.3" opacity="1.00"/><line x1="134.1" y1="177.5" x2="137.2" y2="182.5" stroke="#9db5c0" stroke-width="0.7" opacity="0.80"/><polygon points="146.6,186.5 152.3,188.9 151.0,193.0 145.3,190.5" fill="#c9dbe3" stroke="#a9c0ca" stroke-width="0.3" opacity="1.00"/><line x1="145.3" y1="190.5" x2="151.0" y2="193.0" stroke="#9db5c0" stroke-width="0.7" opacity="0.80"/><polygon points="150.1,150.3 144.7,156.6 142.4,151.7 147.8,145.3" fill="#dceaef" stroke="#a9c0ca" stroke-width="0.3" opacity="1.00"/><line x1="147.8" y1="145.3" x2="142.4" y2="151.7" stroke="#9db5c0" stroke-width="0.7" opacity="0.80"/><polygon points="160.1,190.8 159.7,198.1 155.7,198.9 156.1,191.6" fill="#e6f0f4" stroke="#a9c0ca" stroke-width="0.3" opacity="1.00"/><line x1="156.1" y1="191.6" x2="155.7" y2="198.9" stroke="#9db5c0" stroke-width="0.7" opacity="0.80"/><polygon points="140.6,158.0 138.4,163.2 136.0,161.5 138.2,156.3" fill="#d3e3ea" stroke="#a9c0ca" stroke-width="0.3" opacity="1.00"/><line x1="138.2" y1="156.3" x2="136.0" y2="161.5" stroke="#9db5c0" stroke-width="0.7" opacity="0.80"/><polygon points="147.4,170.2 149.7,175.7 146.3,179.6 144.0,174.0" fill="#d3e3ea" stroke="#a9c0ca" stroke-width="0.3" opacity="1.00"/><line x1="144.0" y1="174.0" x2="146.3" y2="179.6" stroke="#9db5c0" stroke-width="0.7" opacity="0.80"/><polygon points="141.4,175.2 144.3,180.2 141.8,183.1 138.9,178.2" fill="#d3e3ea" stroke="#a9c0ca" stroke-width="0.3" opacity="1.00"/><line x1="138.9" y1="178.2" x2="141.8" y2="183.1" stroke="#9db5c0" stroke-width="0.7" opacity="0.80"/><polygon points="160.2,173.5 154.5,179.5 150.2,175.7 156.0,169.6" fill="#dceaef" stroke="#a9c0ca" stroke-width="0.3" opacity="1.00"/><line x1="156.0" y1="169.6" x2="150.2" y2="175.7" stroke="#9db5c0" stroke-width="0.7" opacity="0.80"/><polygon points="163.9,237.1 158.1,240.2 157.9,235.6 163.7,232.5" fill="#eaf3f6" stroke="#a9c0ca" stroke-width="0.3" opacity="1.00"/><line x1="163.7" y1="232.5" x2="157.9" y2="235.6" stroke="#9db5c0" stroke-width="0.7" opacity="0.80"/><polygon points="141.1,178.5 134.9,180.8 133.7,175.6 140.0,173.3" fill="#c9dbe3" stroke="#a9c0ca" stroke-width="0.3" opacity="1.00"/><line x1="140.0" y1="173.3" x2="133.7" y2="175.6" stroke="#9db5c0" stroke-width="0.7" opacity="0.80"/><polygon points="167.4,176.0 161.5,181.2 157.9,175.7 163.8,170.6" fill="#c9dbe3" stroke="#a9c0ca" stroke-width="0.3" opacity="1.00"/><line x1="163.8" y1="170.6" x2="157.9" y2="175.7" stroke="#9db5c0" stroke-width="0.7" opacity="0.80"/><polygon points="130.4,145.6 123.1,146.4 123.7,141.4 131.0,140.7" fill="#dceaef" stroke="#a9c0ca" stroke-width="0.3" opacity="1.00"/><line x1="131.0" y1="140.7" x2="123.7" y2="141.4" stroke="#9db5c0" stroke-width="0.7" opacity="0.80"/><polygon points="138.3,188.0 135.9,194.9 132.6,193.0 135.0,186.0" fill="#d3e3ea" stroke="#a9c0ca" stroke-width="0.3" opacity="1.00"/><line x1="135.0" y1="186.0" x2="132.6" y2="193.0" stroke="#9db5c0" stroke-width="0.7" opacity="0.80"/><polygon points="149.9,176.9 147.0,182.6 142.6,181.8 145.5,176.0" fill="#eaf3f6" stroke="#a9c0ca" stroke-width="0.3" opacity="1.00"/><line x1="145.5" y1="176.0" x2="142.6" y2="181.8" stroke="#9db5c0" stroke-width="0.7" opacity="0.80"/><polygon points="155.2,155.4 161.0,159.4 158.3,162.3 152.5,158.3" fill="#eaf3f6" stroke="#a9c0ca" stroke-width="0.3" opacity="1.00"/><line x1="152.5" y1="158.3" x2="158.3" y2="162.3" stroke="#9db5c0" stroke-width="0.7" opacity="0.80"/><polygon points="147.8,197.3 142.9,202.2 140.4,198.8 145.4,193.8" fill="#f7f9f9" stroke="#a9c0ca" stroke-width="0.3" opacity="1.00"/><line x1="145.4" y1="193.8" x2="140.4" y2="198.8" stroke="#9db5c0" stroke-width="0.7" opacity="0.80"/><polygon points="143.1,215.8 134.6,219.2 134.9,211.6 143.4,208.1" fill="#e6f0f4" stroke="#a9c0ca" stroke-width="0.3" opacity="1.00"/><line x1="143.4" y1="208.1" x2="134.9" y2="211.6" stroke="#9db5c0" stroke-width="0.7" opacity="0.80"/><polygon points="146.0,206.9 147.6,212.3 144.0,214.6 142.4,209.1" fill="#eaf3f6" stroke="#a9c0ca" stroke-width="0.3" opacity="1.00"/><line x1="142.4" y1="209.1" x2="144.0" y2="214.6" stroke="#9db5c0" stroke-width="0.7" opacity="0.80"/><polygon points="143.5,218.5 148.5,223.5 146.1,228.7 141.1,223.7" fill="#eaf3f6" stroke="#a9c0ca" stroke-width="0.3" opacity="1.00"/><line x1="141.1" y1="223.7" x2="146.1" y2="228.7" stroke="#9db5c0" stroke-width="0.7" opacity="0.80"/><polygon points="145.1,145.7 153.9,149.4 149.0,154.7 140.2,151.1" fill="#d3e3ea" stroke="#a9c0ca" stroke-width="0.3" opacity="1.00"/><line x1="140.2" y1="151.1" x2="149.0" y2="154.7" stroke="#9db5c0" stroke-width="0.7" opacity="0.80"/><rect x="125.4" y="176.8" width="6.5" height="1.4" fill="#34464f" transform="rotate(33 129.5 177.5)"/><polygon points="157.5,183.6 149.6,185.2 146.5,180.7 154.4,179.0" fill="#f0f6f8" stroke="#a9c0ca" stroke-width="0.3" opacity="1.00"/><line x1="154.4" y1="179.0" x2="146.5" y2="180.7" stroke="#9db5c0" stroke-width="0.7" opacity="0.80"/><polygon points="166.8,228.5 166.0,234.7 162.0,235.1 162.8,228.8" fill="#c9dbe3" stroke="#a9c0ca" stroke-width="0.3" opacity="1.00"/><line x1="162.8" y1="228.8" x2="162.0" y2="235.1" stroke="#9db5c0" stroke-width="0.7" opacity="0.80"/><polygon points="125.0,190.6 129.2,196.8 126.2,200.7 122.0,194.6" fill="#d3e3ea" stroke="#a9c0ca" stroke-width="0.3" opacity="1.00"/><line x1="122.0" y1="194.6" x2="126.2" y2="200.7" stroke="#9db5c0" stroke-width="0.7" opacity="0.80"/><rect x="235.3" y="210" width="8.7" height="99" fill="#2f4a3a" opacity="0.38"/><rect x="145.3" y="210" width="98.7" height="102.75" fill="url(#gFront)"/><rect x="145.3" y="210" width="98.7" height="102.75" fill="#fff" filter="url(#caust)" mask="url(#mLow)" opacity="0.16"/><text transform="matrix(0 0.9978 -0.9993 0 170.82 185.57)" font-size="12.4" font-weight="normal" fill="#f2f6f7" fill-opacity="0.93" stroke="#f2f6f7" stroke-width="0.4" stroke-opacity="0.8">Cathode</text><text transform="matrix(0 0.9612 -0.9964 0 225.02 232.72)" font-size="12.3" font-weight="bold" fill="#ffffff" >Cathode</text><text transform="matrix(0 0.9060 -0.9986 0 281.13 239.58)" font-size="13.5" font-weight="normal" fill="#0f1318" stroke="#0f1318" stroke-width="0.3">Anode</text><text transform="matrix(1.1992 0 0 1.0033 238.39 206.70)" font-size="11.3" font-weight="bold" fill="#0a0a0a" >BPM</text><text transform="matrix(0 0.7689 -0.9984 0 257.20 239.11)" font-size="9.9" font-weight="bold" fill="#3d3d00" >AEL</text><text transform="matrix(0 0.8211 -1.0005 0 249.29 262.08)" font-size="9.6" font-weight="bold" fill="#223811" >CEL</text><text transform="matrix(1.1204 0 0 1.0039 295.57 305.78)" font-size="12.1" font-weight="normal" fill="#0b0b0b" stroke="#0b0b0b" stroke-width="0.45">0.5 M NaOH</text><path d="M376.4 134.3 L401.6 166.2 L384.5 166.2 L384.5 195 A47.5 47.2 0 0 1 337 242.2 L297.2 242.2 L297.2 227.7 L337 227.7 A32.5 32.7 0 0 0 369.5 195 L369.5 166.2 L351.2 166.2 Z" fill="#ffffff" fill-opacity="0.18" stroke="#2a2a2a" stroke-width="0.9" stroke-linejoin="miter"/><path d="M376.4 134.3 L401.6 166.2 L351.2 166.2 Z" fill="#fff" stroke="#2a2a2a" stroke-width="0.9"/><rect x="370" y="165" width="14" height="3" fill="#fff"/><text transform="matrix(1.1267 0 0 1.0008 366.09 159.93)" font-size="17.5" font-weight="bold" fill="#0c0c0c" >O</text><text transform="matrix(1.0189 0 0 0.9998 381.53 164.10)" font-size="10.6" font-weight="bold" fill="#0c0c0c" >2</text><path d="M48.4 64.6 L72.8 94.5 L56.2 94.5 L56.2 129.5 A26.5 26.5 0 0 0 82.8 156.0 L126.7 156.0 L126.7 170.3 L82.8 170.3 A42.2 40.9 0 0 1 40.5 129.5 L40.5 94.5 L24.0 94.5 Z" fill="#0808f3" fill-opacity="0.67" stroke="#ffffff" stroke-opacity="0.8" stroke-width="1"/><text transform="matrix(1.1111 0 0 1.0003 38.47 89.00)" font-size="18.6" font-weight="bold" fill="#fff" >H</text><text transform="matrix(1.2611 0 0 0.9974 52.51 92.60)" font-size="11.2" font-weight="bold" fill="#fff" >2</text><polygon points="152.6,10.7 211.6,63.3 211.6,135.5 152.6,83.2" fill="none" stroke="#1da6e2" stroke-width="1.7" stroke-linejoin="miter"/><path d="M181.5 52 L181.5 18.6 L209 18.6 M217.5 18.6 L243 18.6 L243 170" stroke="#111" stroke-width="1.7" fill="none"/><path d="M209 9.4 L209 28.2 M217.5 3 L217.5 34.4" stroke="#111" stroke-width="1.8"/><path d="M162.3 77 L162.3 151.6 M196.6 110 L196.6 178.6" stroke="#111" stroke-width="1.7" fill="none"/><path d="M180 56.5 L164 72.5" stroke="#111" stroke-width="1.7" fill="none"/><ellipse cx="181.5" cy="54.3" rx="2.1" ry="2.75" fill="#fff" stroke="#111" stroke-width="1.3"/><ellipse cx="162.6" cy="74.7" rx="2.1" ry="2.75" fill="#fff" stroke="#111" stroke-width="1.3"/><ellipse cx="196.8" cy="107.8" rx="2.1" ry="2.75" fill="#fff" stroke="#111" stroke-width="1.3"/><text transform="matrix(0.7674 0.5512 0 1.0014 186.97 63.76)" font-size="10.6" font-weight="bold" fill="#1b1b9e" stroke="#1b1b9e" stroke-width="0.3">COM</text><text transform="matrix(0.8245 0.6988 0 1.0014 168.62 77.10)" font-size="10.6" font-weight="bold" fill="#1b1b9e" stroke="#1b1b9e" stroke-width="0.3">NC</text><text transform="matrix(0.8341 0.7121 0 1.0014 193.41 96.80)" font-size="10.6" font-weight="bold" fill="#1b1b9e" stroke="#1b1b9e" stroke-width="0.3">NO</text></g><g transform="translate(383.6 0)"><polygon points="152.6,10.7 211.6,63.3 211.6,135.5 152.6,83.2" fill="#f1f1f1" /><polygon points="47.0,122.0 277.3,122.0 375.0,210.0 145.3,210.0" fill="url(#gTop)" /><polygon points="47.0,122.0 190.0,122.0 258.0,210.0 145.3,210.0" fill="url(#gTopSea)" /><polygon points="47.0,122.0 145.3,210.0 145.3,312.8 47.0,223.6" fill="url(#gLeft)" /><polygon points="47.0,122.0 145.3,210.0 145.3,312.8 47.0,223.6" fill="url(#gLeftH)" /><polygon points="47.0,122.0 145.3,210.0 145.3,312.8 47.0,223.6" fill="#fff" filter="url(#caust)" mask="url(#mLow)" opacity="0.6"/><rect x="145.3" y="210" width="98.7" height="102.75" fill="url(#gInner)"/><rect x="145.3" y="210" width="98.7" height="102.75" fill="#fff" filter="url(#caust)" mask="url(#mLow)" opacity="0.6"/><rect x="244" y="210" width="131" height="102.75" fill="url(#gNaOH)"/><polygon points="187.5,126.2 199.1,126.2 291.2,209.6 291.2,308.9 279.6,308.9 187.5,225.5" fill="#77818f" /><polygon points="187.5,126.2 279.6,209.6 279.6,308.9 187.5,225.5" fill="#696b73" /><polygon points="187.5,126.2 199.1,126.2 291.2,209.6 279.6,209.6" fill="#8d8f97" /><polygon points="279.3,209.6 291.2,209.6 291.2,308.9 279.3,308.9" fill="#77818f" /><line x1="279.6" y1="210" x2="279.6" y2="309" stroke="#5c636e" stroke-width="0.6"/><polygon points="157.2,126.4 249.6,210.0 249.6,309.0 157.2,225.4" fill="#72ad43" /><polygon points="157.2,126.4 165.2,126.4 257.2,210.0 249.6,210.0" fill="#a0d468" /><polygon points="165.2,126.4 172.8,126.4 264.6,210.0 257.2,210.0" fill="#ffff33" /><rect x="249.6" y="210.0" width="7.6" height="99.0" fill="#92d050"/><rect x="257.2" y="210.0" width="7.4" height="99.0" fill="#ffff00"/><polygon points="180.8,171.6 192.8,171.6 235.3,210.1 235.3,309.1 223.3,309.1 180.8,270.6" fill="#1a252e" /><polygon points="180.8,171.6 223.3,210.1 223.3,309.1 180.8,270.6" fill="url(#gCathL)" /><polygon points="180.8,171.6 192.8,171.6 235.3,210.1 223.3,210.1" fill="#465962" /><polygon points="223.0,210.1 235.3,210.1 235.3,309.1 223.0,309.1" fill="#1a252e" /><polygon points="128.3,126.4 139.9,126.4 180.9,163.5 180.9,257.5 169.3,257.5 128.3,218.9" fill="#3b515b" /><polygon points="128.3,126.4 169.3,163.5 169.3,257.5 128.3,218.9" fill="#2d424b" /><polygon points="128.3,126.4 139.9,126.4 180.9,163.5 169.3,163.5" fill="#445a63" /><polygon points="169.0,163.5 180.9,163.5 180.9,257.5 169.0,257.5" fill="#3b515b" /><polygon points="137.3,209.5 145.6,214.9 138.3,219.6 130.1,214.1" fill="#d2e1e7" stroke="#a9c0ca" stroke-width="0.3" opacity="0.95"/><line x1="130.1" y1="214.1" x2="138.3" y2="219.6" stroke="#9db5c0" stroke-width="0.7" opacity="0.76"/><polygon points="156.4,165.0 151.0,170.6 148.3,164.5 153.7,158.9" fill="#d2e1e7" stroke="#a9c0ca" stroke-width="0.3" opacity="0.95"/><line x1="153.7" y1="158.9" x2="148.3" y2="164.5" stroke="#9db5c0" stroke-width="0.7" opacity="0.76"/><polygon points="143.3,162.3 134.7,168.4 133.6,159.0 142.3,153.0" fill="#c2d4dd" stroke="#a9c0ca" stroke-width="0.3" opacity="0.95"/><line x1="142.3" y1="153.0" x2="133.6" y2="159.0" stroke="#9db5c0" stroke-width="0.7" opacity="0.76"/><polygon points="162.8,189.5 165.0,199.4 157.8,199.8 155.6,189.9" fill="#c2d4dd" stroke="#a9c0ca" stroke-width="0.3" opacity="0.95"/><line x1="155.6" y1="189.9" x2="157.8" y2="199.8" stroke="#9db5c0" stroke-width="0.7" opacity="0.76"/><polygon points="152.0,174.5 158.5,181.6 153.8,186.6 147.3,179.6" fill="#d2e1e7" stroke="#a9c0ca" stroke-width="0.3" opacity="0.95"/><line x1="147.3" y1="179.6" x2="153.8" y2="186.6" stroke="#9db5c0" stroke-width="0.7" opacity="0.76"/><polygon points="156.1,195.0 159.9,202.7 155.3,204.2 151.5,196.5" fill="#cadbe2" stroke="#a9c0ca" stroke-width="0.3" opacity="0.95"/><line x1="151.5" y1="196.5" x2="155.3" y2="204.2" stroke="#9db5c0" stroke-width="0.7" opacity="0.76"/><polygon points="140.6,153.2 147.4,159.4 145.5,165.0 138.7,158.8" fill="#dee9ed" stroke="#a9c0ca" stroke-width="0.3" opacity="0.95"/><line x1="138.7" y1="158.8" x2="145.5" y2="165.0" stroke="#9db5c0" stroke-width="0.7" opacity="0.76"/><polygon points="145.3,203.0 147.4,211.8 143.4,214.8 141.3,206.0" fill="#eaeef0" stroke="#a9c0ca" stroke-width="0.3" opacity="0.95"/><line x1="141.3" y1="206.0" x2="143.4" y2="214.8" stroke="#9db5c0" stroke-width="0.7" opacity="0.76"/><polygon points="142.0,226.4 150.5,232.7 145.4,239.2 136.9,232.9" fill="#dee9ed" stroke="#a9c0ca" stroke-width="0.3" opacity="0.95"/><line x1="136.9" y1="232.9" x2="145.4" y2="239.2" stroke="#9db5c0" stroke-width="0.7" opacity="0.76"/><polygon points="155.8,231.4 155.9,241.4 150.1,240.9 150.0,230.9" fill="#e3ebee" stroke="#a9c0ca" stroke-width="0.3" opacity="0.95"/><line x1="150.0" y1="230.9" x2="150.1" y2="240.9" stroke="#9db5c0" stroke-width="0.7" opacity="0.76"/><polygon points="150.8,177.2 156.9,185.3 150.1,186.6 144.1,178.6" fill="#dbe6eb" stroke="#a9c0ca" stroke-width="0.3" opacity="0.95"/><line x1="144.1" y1="178.6" x2="150.1" y2="186.6" stroke="#9db5c0" stroke-width="0.7" opacity="0.76"/><polygon points="139.8,187.7 134.3,195.5 128.9,190.1 134.4,182.3" fill="#dee9ed" stroke="#a9c0ca" stroke-width="0.3" opacity="0.95"/><line x1="134.4" y1="182.3" x2="128.9" y2="190.1" stroke="#9db5c0" stroke-width="0.7" opacity="0.76"/><polygon points="151.5,160.5 143.3,163.0 144.5,156.8 152.7,154.3" fill="#dbe6eb" stroke="#a9c0ca" stroke-width="0.3" opacity="0.95"/><line x1="152.7" y1="154.3" x2="144.5" y2="156.8" stroke="#9db5c0" stroke-width="0.7" opacity="0.76"/><polygon points="144.9,227.0 151.6,230.5 150.8,235.4 144.1,231.8" fill="#d8e5ea" stroke="#a9c0ca" stroke-width="0.3" opacity="0.95"/><line x1="144.1" y1="231.8" x2="150.8" y2="235.4" stroke="#9db5c0" stroke-width="0.7" opacity="0.76"/><polygon points="143.4,212.4 145.2,220.2 141.2,222.5 139.4,214.6" fill="#eaeef0" stroke="#a9c0ca" stroke-width="0.3" opacity="0.95"/><line x1="139.4" y1="214.6" x2="141.2" y2="222.5" stroke="#9db5c0" stroke-width="0.7" opacity="0.76"/><polygon points="148.1,176.7 154.8,181.7 152.6,186.4 145.9,181.4" fill="#e3ebee" stroke="#a9c0ca" stroke-width="0.3" opacity="0.95"/><line x1="145.9" y1="181.4" x2="152.6" y2="186.4" stroke="#9db5c0" stroke-width="0.7" opacity="0.76"/><polygon points="150.1,150.9 146.6,157.6 140.9,154.9 144.5,148.1" fill="#d8e5ea" stroke="#a9c0ca" stroke-width="0.3" opacity="0.95"/><line x1="144.5" y1="148.1" x2="140.9" y2="154.9" stroke="#9db5c0" stroke-width="0.7" opacity="0.76"/><polygon points="146.0,174.8 153.7,178.4 152.2,183.8 144.4,180.2" fill="#dbe6eb" stroke="#a9c0ca" stroke-width="0.3" opacity="0.95"/><line x1="144.4" y1="180.2" x2="152.2" y2="183.8" stroke="#9db5c0" stroke-width="0.7" opacity="0.76"/><polygon points="134.2,171.0 138.6,179.5 133.7,182.6 129.2,174.0" fill="#d8e5ea" stroke="#a9c0ca" stroke-width="0.3" opacity="0.95"/><line x1="129.2" y1="174.0" x2="133.7" y2="182.6" stroke="#9db5c0" stroke-width="0.7" opacity="0.76"/><polygon points="157.9,240.6 164.9,243.7 164.7,249.3 157.7,246.3" fill="#dee9ed" stroke="#a9c0ca" stroke-width="0.3" opacity="0.95"/><line x1="157.7" y1="246.3" x2="164.7" y2="249.3" stroke="#9db5c0" stroke-width="0.7" opacity="0.76"/><polygon points="128.7,167.0 136.3,174.0 132.6,177.9 125.0,170.8" fill="#eaeef0" stroke="#a9c0ca" stroke-width="0.3" opacity="0.95"/><line x1="125.0" y1="170.8" x2="132.6" y2="177.9" stroke="#9db5c0" stroke-width="0.7" opacity="0.76"/><polygon points="146.6,202.3 156.3,206.0 153.0,213.8 143.2,210.1" fill="#dee9ed" stroke="#a9c0ca" stroke-width="0.3" opacity="0.95"/><line x1="143.2" y1="210.1" x2="153.0" y2="213.8" stroke="#9db5c0" stroke-width="0.7" opacity="0.76"/><polygon points="142.8,153.7 137.7,159.5 135.9,155.7 140.9,149.8" fill="#cadbe2" stroke="#a9c0ca" stroke-width="0.3" opacity="0.95"/><line x1="140.9" y1="149.8" x2="135.9" y2="155.7" stroke="#9db5c0" stroke-width="0.7" opacity="0.76"/><polygon points="142.9,200.2 149.2,208.4 145.4,216.2 139.0,208.0" fill="#dbe6eb" stroke="#a9c0ca" stroke-width="0.3" opacity="0.95"/><line x1="139.0" y1="208.0" x2="145.4" y2="216.2" stroke="#9db5c0" stroke-width="0.7" opacity="0.76"/><polygon points="140.7,180.6 148.6,184.6 146.2,188.9 138.3,184.9" fill="#e3ebee" stroke="#a9c0ca" stroke-width="0.3" opacity="0.95"/><line x1="138.3" y1="184.9" x2="146.2" y2="188.9" stroke="#9db5c0" stroke-width="0.7" opacity="0.76"/><polygon points="141.9,172.7 131.1,174.4 135.1,164.5 145.9,162.9" fill="#d2e1e7" stroke="#a9c0ca" stroke-width="0.3" opacity="0.95"/><line x1="145.9" y1="162.9" x2="135.1" y2="164.5" stroke="#9db5c0" stroke-width="0.7" opacity="0.76"/><polygon points="161.0,196.1 152.9,198.6 152.9,192.8 161.0,190.2" fill="#eaeef0" stroke="#a9c0ca" stroke-width="0.3" opacity="0.95"/><line x1="161.0" y1="190.2" x2="152.9" y2="192.8" stroke="#9db5c0" stroke-width="0.7" opacity="0.76"/><polygon points="157.9,223.7 158.4,231.3 152.3,234.6 151.9,227.0" fill="#d2e1e7" stroke="#a9c0ca" stroke-width="0.3" opacity="0.95"/><line x1="151.9" y1="227.0" x2="152.3" y2="234.6" stroke="#9db5c0" stroke-width="0.7" opacity="0.76"/><polygon points="154.2,172.6 153.5,183.1 146.5,180.9 147.2,170.3" fill="#eaeef0" stroke="#a9c0ca" stroke-width="0.3" opacity="0.95"/><line x1="147.2" y1="170.3" x2="146.5" y2="180.9" stroke="#9db5c0" stroke-width="0.7" opacity="0.76"/><polygon points="141.8,202.3 144.0,211.8 136.8,213.6 134.6,204.1" fill="#eaeef0" stroke="#a9c0ca" stroke-width="0.3" opacity="0.95"/><line x1="134.6" y1="204.1" x2="136.8" y2="213.6" stroke="#9db5c0" stroke-width="0.7" opacity="0.76"/><polygon points="152.8,165.8 154.2,175.0 149.5,174.9 148.0,165.7" fill="#dee9ed" stroke="#a9c0ca" stroke-width="0.3" opacity="0.95"/><line x1="148.0" y1="165.7" x2="149.5" y2="174.9" stroke="#9db5c0" stroke-width="0.7" opacity="0.76"/><polygon points="154.4,194.7 154.1,205.6 147.8,202.3 148.1,191.3" fill="#dee9ed" stroke="#a9c0ca" stroke-width="0.3" opacity="0.95"/><line x1="148.1" y1="191.3" x2="147.8" y2="202.3" stroke="#9db5c0" stroke-width="0.7" opacity="0.76"/><polygon points="154.4,169.2 152.0,176.8 146.5,174.2 148.9,166.6" fill="#d2e1e7" stroke="#a9c0ca" stroke-width="0.3" opacity="0.95"/><line x1="148.9" y1="166.6" x2="146.5" y2="174.2" stroke="#9db5c0" stroke-width="0.7" opacity="0.76"/><polygon points="155.1,222.4 146.3,228.2 139.7,224.6 148.6,218.8" fill="#c2d4dd" stroke="#a9c0ca" stroke-width="0.3" opacity="0.95"/><line x1="148.6" y1="218.8" x2="139.7" y2="224.6" stroke="#9db5c0" stroke-width="0.7" opacity="0.76"/><polygon points="157.4,194.5 165.2,197.7 163.9,203.0 156.1,199.7" fill="#dee9ed" stroke="#a9c0ca" stroke-width="0.3" opacity="0.95"/><line x1="156.1" y1="199.7" x2="163.9" y2="203.0" stroke="#9db5c0" stroke-width="0.7" opacity="0.76"/><polygon points="146.8,219.5 148.5,229.6 140.7,235.3 139.0,225.2" fill="#e3ebee" stroke="#a9c0ca" stroke-width="0.3" opacity="0.95"/><line x1="139.0" y1="225.2" x2="140.7" y2="235.3" stroke="#9db5c0" stroke-width="0.7" opacity="0.76"/><polygon points="142.3,162.6 133.7,163.5 130.1,158.6 138.7,157.7" fill="#cadbe2" stroke="#a9c0ca" stroke-width="0.3" opacity="0.95"/><line x1="138.7" y1="157.7" x2="130.1" y2="158.6" stroke="#9db5c0" stroke-width="0.7" opacity="0.76"/><polygon points="158.2,236.5 148.2,237.9 145.6,230.8 155.6,229.4" fill="#eaeef0" stroke="#a9c0ca" stroke-width="0.3" opacity="0.95"/><line x1="155.6" y1="229.4" x2="145.6" y2="230.8" stroke="#9db5c0" stroke-width="0.7" opacity="0.76"/><polygon points="134.0,146.4 141.7,151.2 136.1,156.7 128.4,151.9" fill="#c2d4dd" stroke="#a9c0ca" stroke-width="0.3" opacity="0.95"/><line x1="128.4" y1="151.9" x2="136.1" y2="156.7" stroke="#9db5c0" stroke-width="0.7" opacity="0.76"/><polygon points="162.1,227.4 159.1,234.9 154.5,235.2 157.5,227.7" fill="#d2e1e7" stroke="#a9c0ca" stroke-width="0.3" opacity="0.95"/><line x1="157.5" y1="227.7" x2="154.5" y2="235.2" stroke="#9db5c0" stroke-width="0.7" opacity="0.76"/><polygon points="161.4,176.8 154.4,181.7 153.5,176.2 160.5,171.3" fill="#c2d4dd" stroke="#a9c0ca" stroke-width="0.3" opacity="0.95"/><line x1="160.5" y1="171.3" x2="153.5" y2="176.2" stroke="#9db5c0" stroke-width="0.7" opacity="0.76"/><polygon points="135.5,212.6 142.4,216.4 141.7,222.5 134.9,218.7" fill="#cadbe2" stroke="#a9c0ca" stroke-width="0.3" opacity="0.95"/><line x1="134.9" y1="218.7" x2="141.7" y2="222.5" stroke="#9db5c0" stroke-width="0.7" opacity="0.76"/><polygon points="149.0,225.9 149.3,233.8 143.3,234.4 143.1,226.4" fill="#cadbe2" stroke="#a9c0ca" stroke-width="0.3" opacity="0.95"/><line x1="143.1" y1="226.4" x2="143.3" y2="234.4" stroke="#9db5c0" stroke-width="0.7" opacity="0.76"/><polygon points="142.0,154.5 147.4,159.7 146.0,165.4 140.6,160.2" fill="#c2d4dd" stroke="#a9c0ca" stroke-width="0.3" opacity="0.95"/><line x1="140.6" y1="160.2" x2="146.0" y2="165.4" stroke="#9db5c0" stroke-width="0.7" opacity="0.76"/><polygon points="146.2,220.4 139.3,227.7 137.3,221.9 144.3,214.6" fill="#c2d4dd" stroke="#a9c0ca" stroke-width="0.3" opacity="0.95"/><line x1="144.3" y1="214.6" x2="137.3" y2="221.9" stroke="#9db5c0" stroke-width="0.7" opacity="0.76"/><polygon points="162.6,191.7 159.1,200.5 151.9,198.6 155.4,189.9" fill="#e3ebee" stroke="#a9c0ca" stroke-width="0.3" opacity="0.95"/><line x1="155.4" y1="189.9" x2="151.9" y2="198.6" stroke="#9db5c0" stroke-width="0.7" opacity="0.76"/><polygon points="192.0,252.6 197.7,260.6 192.4,265.5 186.7,257.5" fill="#bfd1da" stroke="#a9c0ca" stroke-width="0.3" opacity="0.95"/><line x1="186.7" y1="257.5" x2="192.4" y2="265.5" stroke="#9db5c0" stroke-width="0.7" opacity="0.76"/><polygon points="203.2,265.0 208.7,271.4 205.8,277.5 200.3,271.1" fill="#d7e3e8" stroke="#a9c0ca" stroke-width="0.3" opacity="0.95"/><line x1="200.3" y1="271.1" x2="205.8" y2="277.5" stroke="#9db5c0" stroke-width="0.7" opacity="0.76"/><polygon points="197.1,247.4 199.7,255.5 191.8,254.4 189.3,246.3" fill="#d4e1e6" stroke="#a9c0ca" stroke-width="0.3" opacity="0.95"/><line x1="189.3" y1="246.3" x2="191.8" y2="254.4" stroke="#9db5c0" stroke-width="0.7" opacity="0.76"/><polygon points="218.7,275.0 210.0,278.9 207.6,273.4 216.3,269.5" fill="#d4e1e6" stroke="#a9c0ca" stroke-width="0.3" opacity="0.95"/><line x1="216.3" y1="269.5" x2="207.6" y2="273.4" stroke="#9db5c0" stroke-width="0.7" opacity="0.76"/><polygon points="192.9,263.1 192.9,271.7 186.3,273.4 186.3,264.9" fill="#d7e3e8" stroke="#a9c0ca" stroke-width="0.3" opacity="0.95"/><line x1="186.3" y1="264.9" x2="186.3" y2="273.4" stroke="#9db5c0" stroke-width="0.7" opacity="0.76"/><polygon points="191.4,251.3 189.0,260.0 182.6,257.9 185.0,249.2" fill="#cfdde4" stroke="#a9c0ca" stroke-width="0.3" opacity="0.95"/><line x1="185.0" y1="249.2" x2="182.6" y2="257.9" stroke="#9db5c0" stroke-width="0.7" opacity="0.76"/><polygon points="194.9,265.3 203.6,268.0 202.1,274.3 193.4,271.6" fill="#e4e9ec" stroke="#a9c0ca" stroke-width="0.3" opacity="0.95"/><line x1="193.4" y1="271.6" x2="202.1" y2="274.3" stroke="#9db5c0" stroke-width="0.7" opacity="0.76"/><polygon points="204.2,265.6 210.6,272.6 203.6,274.4 197.3,267.3" fill="#bfd1da" stroke="#a9c0ca" stroke-width="0.3" opacity="0.95"/><line x1="197.3" y1="267.3" x2="203.6" y2="274.4" stroke="#9db5c0" stroke-width="0.7" opacity="0.76"/><polygon points="195.6,255.6 202.0,262.6 199.1,271.0 192.8,264.1" fill="#e4e9ec" stroke="#a9c0ca" stroke-width="0.3" opacity="0.95"/><line x1="192.8" y1="264.1" x2="199.1" y2="271.0" stroke="#9db5c0" stroke-width="0.7" opacity="0.76"/><polygon points="200.1,280.5 206.9,285.2 204.0,288.5 197.2,283.8" fill="#dee7eb" stroke="#a9c0ca" stroke-width="0.3" opacity="0.95"/><line x1="197.2" y1="283.8" x2="204.0" y2="288.5" stroke="#9db5c0" stroke-width="0.7" opacity="0.76"/><rect x="148.8" y="242.5" width="7.4" height="1.6" rx="0.8" fill="#8b9da6" opacity="0.55" transform="rotate(20 152.5 243.3)"/><rect x="83.5" y="232.7" width="5.4" height="1.6" rx="0.8" fill="#55666f" opacity="0.55" transform="rotate(-29 86.2 233.5)"/><rect x="149.6" y="247.9" width="4.9" height="1.6" rx="0.8" fill="#e8f3f6" opacity="0.55" transform="rotate(14 152.1 248.7)"/><rect x="108.9" y="237.7" width="7.4" height="1.6" rx="0.8" fill="#a8bac2" opacity="0.55" transform="rotate(-21 112.6 238.5)"/><rect x="122.0" y="227.8" width="6.3" height="1.6" rx="0.8" fill="#a8bac2" opacity="0.55" transform="rotate(14 125.1 228.6)"/><rect x="84.3" y="219.1" width="7.8" height="1.6" rx="0.8" fill="#6d7f88" opacity="0.55" transform="rotate(-5 88.2 219.9)"/><rect x="97.2" y="234.0" width="7.5" height="1.6" rx="0.8" fill="#6d7f88" opacity="0.55" transform="rotate(-52 100.9 234.8)"/><rect x="106.9" y="214.6" width="6.9" height="1.6" rx="0.8" fill="#55666f" opacity="0.55" transform="rotate(14 110.4 215.4)"/><rect x="108.6" y="234.3" width="4.7" height="1.6" rx="0.8" fill="#55666f" opacity="0.55" transform="rotate(16 110.9 235.1)"/><rect x="80.5" y="225.5" width="4.7" height="1.6" rx="0.8" fill="#a8bac2" opacity="0.55" transform="rotate(-10 82.8 226.3)"/><rect x="110.6" y="214.6" width="7.6" height="1.6" rx="0.8" fill="#a8bac2" opacity="0.55" transform="rotate(4 114.4 215.4)"/><rect x="112.7" y="213.9" width="5.0" height="1.6" rx="0.8" fill="#e8f3f6" opacity="0.55" transform="rotate(6 115.2 214.7)"/><rect x="146.5" y="237.4" width="5.8" height="1.6" rx="0.8" fill="#e8f3f6" opacity="0.55" transform="rotate(2 149.4 238.2)"/><rect x="111.7" y="244.4" width="6.7" height="1.6" rx="0.8" fill="#6d7f88" opacity="0.55" transform="rotate(-11 115.1 245.2)"/><rect x="102.2" y="241.0" width="5.5" height="1.6" rx="0.8" fill="#e8f3f6" opacity="0.55" transform="rotate(-32 105.0 241.8)"/><rect x="112.7" y="236.4" width="4.1" height="1.6" rx="0.8" fill="#a8bac2" opacity="0.55" transform="rotate(-26 114.8 237.2)"/><rect x="103.2" y="229.1" width="6.1" height="1.6" rx="0.8" fill="#8b9da6" opacity="0.55" transform="rotate(-48 106.3 229.9)"/><rect x="116.8" y="234.8" width="5.3" height="1.6" rx="0.8" fill="#e8f3f6" opacity="0.55" transform="rotate(-40 119.4 235.6)"/><rect x="100.2" y="225.9" width="6.4" height="1.6" rx="0.8" fill="#55666f" opacity="0.55" transform="rotate(-4 103.4 226.7)"/><rect x="153.2" y="250.5" width="6.6" height="1.6" rx="0.8" fill="#6d7f88" opacity="0.55" transform="rotate(-20 156.5 251.3)"/><rect x="100.2" y="232.3" width="6.5" height="1.6" rx="0.8" fill="#e8f3f6" opacity="0.55" transform="rotate(-11 103.4 233.1)"/><rect x="129.7" y="249.8" width="6.6" height="1.6" rx="0.8" fill="#e8f3f6" opacity="0.55" transform="rotate(-14 133.0 250.6)"/><rect x="126.9" y="226.0" width="5.6" height="1.6" rx="0.8" fill="#e8f3f6" opacity="0.55" transform="rotate(18 129.7 226.8)"/><rect x="135.3" y="238.2" width="7.3" height="1.6" rx="0.8" fill="#55666f" opacity="0.55" transform="rotate(-5 138.9 239.0)"/><rect x="112.8" y="239.0" width="6.3" height="1.6" rx="0.8" fill="#6d7f88" opacity="0.55" transform="rotate(17 116.0 239.8)"/><rect x="97.2" y="217.2" width="5.1" height="1.6" rx="0.8" fill="#6d7f88" opacity="0.55" transform="rotate(20 99.7 218.0)"/><rect x="124.6" y="221.0" width="4.3" height="1.6" rx="0.8" fill="#6d7f88" opacity="0.55" transform="rotate(-40 126.8 221.8)"/><rect x="142.0" y="244.4" width="6.1" height="1.6" rx="0.8" fill="#8b9da6" opacity="0.55" transform="rotate(11 145.1 245.2)"/><rect x="100.3" y="239.4" width="7.5" height="1.6" rx="0.8" fill="#8b9da6" opacity="0.55" transform="rotate(-31 104.0 240.2)"/><rect x="105.4" y="237.4" width="6.0" height="1.6" rx="0.8" fill="#a8bac2" opacity="0.55" transform="rotate(-22 108.4 238.2)"/><rect x="88.3" y="214.3" width="5.1" height="1.6" rx="0.8" fill="#8b9da6" opacity="0.55" transform="rotate(-25 90.9 215.1)"/><rect x="112.0" y="229.8" width="6.6" height="1.6" rx="0.8" fill="#e8f3f6" opacity="0.55" transform="rotate(-57 115.3 230.6)"/><rect x="113.1" y="212.6" width="5.8" height="1.6" rx="0.8" fill="#55666f" opacity="0.55" transform="rotate(-23 116.0 213.4)"/><rect x="107.2" y="248.3" width="5.6" height="1.6" rx="0.8" fill="#6d7f88" opacity="0.55" transform="rotate(-9 110.0 249.1)"/><rect x="111.2" y="233.3" width="7.9" height="1.6" rx="0.8" fill="#e8f3f6" opacity="0.55" transform="rotate(-14 115.2 234.1)"/><rect x="88.0" y="236.6" width="5.6" height="1.6" rx="0.8" fill="#a8bac2" opacity="0.55" transform="rotate(-51 90.8 237.4)"/><rect x="131.6" y="226.1" width="7.5" height="1.6" rx="0.8" fill="#8b9da6" opacity="0.55" transform="rotate(-24 135.4 226.9)"/><rect x="108.6" y="225.2" width="6.8" height="1.6" rx="0.8" fill="#8b9da6" opacity="0.55" transform="rotate(-42 112.0 226.0)"/><rect x="123.7" y="253.6" width="4.6" height="1.6" rx="0.8" fill="#8b9da6" opacity="0.55" transform="rotate(-7 126.0 254.4)"/><rect x="118.6" y="216.7" width="5.0" height="1.6" rx="0.8" fill="#a8bac2" opacity="0.55" transform="rotate(-43 121.1 217.5)"/><rect x="92.4" y="224.4" width="5.6" height="1.6" rx="0.8" fill="#a8bac2" opacity="0.55" transform="rotate(-8 95.2 225.2)"/><rect x="137.7" y="254.9" width="5.9" height="1.6" rx="0.8" fill="#a8bac2" opacity="0.55" transform="rotate(-42 140.6 255.7)"/><rect x="104.0" y="227.0" width="5.3" height="1.6" rx="0.8" fill="#8b9da6" opacity="0.55" transform="rotate(-33 106.7 227.8)"/><rect x="136.3" y="237.4" width="7.3" height="1.6" rx="0.8" fill="#e8f3f6" opacity="0.55" transform="rotate(-46 140.0 238.2)"/><rect x="134.6" y="223.0" width="5.0" height="1.6" rx="0.8" fill="#a8bac2" opacity="0.55" transform="rotate(-40 137.1 223.8)"/><rect x="146.5" y="249.8" width="7.4" height="1.6" rx="0.8" fill="#55666f" opacity="0.55" transform="rotate(-21 150.2 250.6)"/><rect x="86.7" y="235.1" width="6.6" height="1.6" rx="0.8" fill="#e8f3f6" opacity="0.55" transform="rotate(16 90.0 235.9)"/><rect x="146.8" y="239.0" width="6.5" height="1.6" rx="0.8" fill="#55666f" opacity="0.55" transform="rotate(18 150.0 239.8)"/><rect x="128.1" y="248.5" width="4.2" height="1.6" rx="0.8" fill="#8b9da6" opacity="0.55" transform="rotate(1 130.2 249.3)"/><rect x="101.4" y="224.8" width="6.6" height="1.6" rx="0.8" fill="#55666f" opacity="0.55" transform="rotate(13 104.7 225.6)"/><rect x="103.5" y="241.4" width="7.7" height="1.6" rx="0.8" fill="#6d7f88" opacity="0.55" transform="rotate(-30 107.4 242.2)"/><rect x="138.2" y="237.4" width="4.9" height="1.6" rx="0.8" fill="#8b9da6" opacity="0.55" transform="rotate(-4 140.7 238.2)"/><rect x="110.7" y="216.8" width="6.5" height="1.6" rx="0.8" fill="#a8bac2" opacity="0.55" transform="rotate(-56 114.0 217.6)"/><rect x="138.0" y="235.8" width="5.7" height="1.6" rx="0.8" fill="#e8f3f6" opacity="0.55" transform="rotate(-48 140.9 236.6)"/><rect x="81.2" y="217.6" width="5.4" height="1.6" rx="0.8" fill="#e8f3f6" opacity="0.55" transform="rotate(16 83.9 218.4)"/><rect x="116.4" y="217.9" width="6.3" height="1.6" rx="0.8" fill="#a8bac2" opacity="0.55" transform="rotate(3 119.6 218.7)"/><rect x="92.9" y="217.8" width="4.7" height="1.6" rx="0.8" fill="#8b9da6" opacity="0.55" transform="rotate(-10 95.3 218.6)"/><rect x="135.7" y="255.0" width="5.7" height="1.6" rx="0.8" fill="#a8bac2" opacity="0.55" transform="rotate(-33 138.5 255.8)"/><rect x="119.7" y="229.5" width="7.7" height="1.6" rx="0.8" fill="#55666f" opacity="0.55" transform="rotate(-14 123.5 230.3)"/><rect x="139.6" y="248.5" width="4.4" height="1.6" rx="0.8" fill="#8b9da6" opacity="0.55" transform="rotate(-38 141.8 249.3)"/><rect x="118.5" y="211.8" width="5.0" height="1.6" rx="0.8" fill="#a8bac2" opacity="0.55" transform="rotate(-49 121.0 212.6)"/><rect x="97.4" y="214.5" width="6.1" height="1.6" rx="0.8" fill="#8b9da6" opacity="0.55" transform="rotate(19 100.5 215.3)"/><rect x="130.7" y="245.2" width="6.9" height="1.6" rx="0.8" fill="#8b9da6" opacity="0.55" transform="rotate(-10 134.2 246.0)"/><rect x="89.3" y="220.2" width="4.5" height="1.6" rx="0.8" fill="#8b9da6" opacity="0.55" transform="rotate(-36 91.5 221.0)"/><rect x="123.2" y="222.7" width="4.1" height="1.6" rx="0.8" fill="#6d7f88" opacity="0.55" transform="rotate(-19 125.3 223.5)"/><rect x="105.9" y="215.0" width="5.3" height="1.6" rx="0.8" fill="#55666f" opacity="0.55" transform="rotate(-46 108.5 215.8)"/><rect x="115.0" y="226.6" width="6.4" height="1.6" rx="0.8" fill="#a8bac2" opacity="0.55" transform="rotate(2 118.2 227.4)"/><rect x="132.7" y="231.4" width="6.3" height="1.6" rx="0.8" fill="#55666f" opacity="0.55" transform="rotate(10 135.9 232.2)"/><rect x="105.6" y="217.8" width="6.7" height="1.6" rx="0.8" fill="#e8f3f6" opacity="0.55" transform="rotate(-10 108.9 218.6)"/><rect x="82.7" y="214.4" width="8.0" height="1.6" rx="0.8" fill="#6d7f88" opacity="0.55" transform="rotate(-43 86.7 215.2)"/><rect x="235.3" y="210" width="8.7" height="99" fill="#2f4a3a" opacity="0.38"/><rect x="145.3" y="210" width="98.7" height="102.75" fill="url(#gFront)"/><rect x="145.3" y="210" width="98.7" height="102.75" fill="#fff" filter="url(#caust)" mask="url(#mLow)" opacity="0.16"/><text transform="matrix(0 0.9978 -0.9993 0 170.82 185.57)" font-size="12.4" font-weight="normal" fill="#f2f6f7" fill-opacity="0.93" stroke="#f2f6f7" stroke-width="0.4" stroke-opacity="0.8">Cathode</text><text transform="matrix(0 0.9612 -0.9964 0 225.02 232.72)" font-size="12.3" font-weight="bold" fill="#ffffff" >Cathode</text><text transform="matrix(0 0.9060 -0.9986 0 281.13 239.58)" font-size="13.5" font-weight="normal" fill="#0f1318" stroke="#0f1318" stroke-width="0.3">Anode</text><text transform="matrix(1.1992 0 0 1.0033 238.39 206.70)" font-size="11.3" font-weight="bold" fill="#0a0a0a" >BPM</text><text transform="matrix(0 0.7689 -0.9984 0 257.20 239.11)" font-size="9.9" font-weight="bold" fill="#3d3d00" >AEL</text><text transform="matrix(0 0.8211 -1.0005 0 249.29 262.08)" font-size="9.6" font-weight="bold" fill="#223811" >CEL</text><text transform="matrix(1.1204 0 0 1.0039 295.57 305.78)" font-size="12.1" font-weight="normal" fill="#0b0b0b" stroke="#0b0b0b" stroke-width="0.45">0.5 M NaOH</text><path d="M376.4 134.3 L401.6 166.2 L384.5 166.2 L384.5 195 A47.5 47.2 0 0 1 337 242.2 L297.2 242.2 L297.2 227.7 L337 227.7 A32.5 32.7 0 0 0 369.5 195 L369.5 166.2 L351.2 166.2 Z" fill="#ffffff" fill-opacity="0.18" stroke="#2a2a2a" stroke-width="0.9" stroke-linejoin="miter"/><path d="M376.4 134.3 L401.6 166.2 L351.2 166.2 Z" fill="#fff" stroke="#2a2a2a" stroke-width="0.9"/><rect x="370" y="165" width="14" height="3" fill="#fff"/><text transform="matrix(1.1267 0 0 1.0008 366.09 159.93)" font-size="17.5" font-weight="bold" fill="#0c0c0c" >O</text><text transform="matrix(1.0189 0 0 0.9998 381.53 164.10)" font-size="10.6" font-weight="bold" fill="#0c0c0c" >2</text><path d="M119.2 114.6 L143.9 145.0 L128.0 145.0 L128.0 182.8 A23.0 23.0 0 0 0 150.9 205.8 L199.0 205.8 L199.0 220.4 L150.9 220.4 A40.6 37.6 0 0 1 110.4 182.8 L110.4 145.0 L94.4 145.0 Z" fill="#0808f3" fill-opacity="0.67" stroke="#ffffff" stroke-opacity="0.8" stroke-width="1"/><text transform="matrix(1.1111 0 0 1.0003 109.22 139.00)" font-size="18.6" font-weight="bold" fill="#fff" >H</text><text transform="matrix(1.2611 0 0 0.9974 123.26 142.60)" font-size="11.2" font-weight="bold" fill="#fff" >2</text><polygon points="152.6,10.7 211.6,63.3 211.6,135.5 152.6,83.2" fill="none" stroke="#1da6e2" stroke-width="1.7" stroke-linejoin="miter"/><path d="M181.5 52 L181.5 18.6 L209 18.6 M217.5 18.6 L243 18.6 L243 170" stroke="#111" stroke-width="1.7" fill="none"/><path d="M209 9.4 L209 28.2 M217.5 3 L217.5 34.4" stroke="#111" stroke-width="1.8"/><path d="M162.3 77 L162.3 151.6 M196.6 110 L196.6 178.6" stroke="#111" stroke-width="1.7" fill="none"/><path d="M182.3 56.5 L196 105" stroke="#111" stroke-width="1.7" fill="none"/><ellipse cx="181.5" cy="54.3" rx="2.1" ry="2.75" fill="#fff" stroke="#111" stroke-width="1.3"/><ellipse cx="162.6" cy="74.7" rx="2.1" ry="2.75" fill="#fff" stroke="#111" stroke-width="1.3"/><ellipse cx="196.8" cy="107.8" rx="2.1" ry="2.75" fill="#fff" stroke="#111" stroke-width="1.3"/><text transform="matrix(0.7674 0.5512 0 1.0014 186.97 63.76)" font-size="10.6" font-weight="bold" fill="#1b1b9e" stroke="#1b1b9e" stroke-width="0.3">COM</text><text transform="matrix(0.8245 0.6988 0 1.0014 168.62 77.10)" font-size="10.6" font-weight="bold" fill="#1b1b9e" stroke="#1b1b9e" stroke-width="0.3">NC</text><text transform="matrix(0.8341 0.7121 0 1.0014 193.41 96.80)" font-size="10.6" font-weight="bold" fill="#1b1b9e" stroke="#1b1b9e" stroke-width="0.3">NO</text></g><g transform="translate(0 370.6)"><polygon points="152.6,10.7 211.6,63.3 211.6,135.5 152.6,83.2" fill="#f1f1f1" /><polygon points="47.0,122.0 277.3,122.0 375.0,210.0 145.3,210.0" fill="url(#gTop)" /><polygon points="47.0,122.0 190.0,122.0 258.0,210.0 145.3,210.0" fill="url(#gTopSea)" /><polygon points="47.0,122.0 145.3,210.0 145.3,312.8 47.0,223.6" fill="url(#gLeft)" /><polygon points="47.0,122.0 145.3,210.0 145.3,312.8 47.0,223.6" fill="url(#gLeftH)" /><polygon points="47.0,122.0 145.3,210.0 145.3,312.8 47.0,223.6" fill="#fff" filter="url(#caust)" mask="url(#mLow)" opacity="0.6"/><rect x="145.3" y="210" width="98.7" height="102.75" fill="url(#gInner)"/><rect x="145.3" y="210" width="98.7" height="102.75" fill="#fff" filter="url(#caust)" mask="url(#mLow)" opacity="0.6"/><rect x="244" y="210" width="131" height="102.75" fill="url(#gNaOH)"/><polygon points="187.5,126.2 199.1,126.2 291.2,209.6 291.2,308.9 279.6,308.9 187.5,225.5" fill="#77818f" /><polygon points="187.5,126.2 279.6,209.6 279.6,308.9 187.5,225.5" fill="#696b73" /><polygon points="187.5,126.2 199.1,126.2 291.2,209.6 279.6,209.6" fill="#8d8f97" /><polygon points="279.3,209.6 291.2,209.6 291.2,308.9 279.3,308.9" fill="#77818f" /><line x1="279.6" y1="210" x2="279.6" y2="309" stroke="#5c636e" stroke-width="0.6"/><polygon points="157.2,126.4 249.6,210.0 249.6,309.0 157.2,225.4" fill="#72ad43" /><polygon points="157.2,126.4 165.2,126.4 257.2,210.0 249.6,210.0" fill="#a0d468" /><polygon points="165.2,126.4 172.8,126.4 264.6,210.0 257.2,210.0" fill="#ffff33" /><rect x="249.6" y="210.0" width="7.6" height="99.0" fill="#92d050"/><rect x="257.2" y="210.0" width="7.4" height="99.0" fill="#ffff00"/><polygon points="180.8,171.6 192.8,171.6 235.3,210.1 235.3,309.1 223.3,309.1 180.8,270.6" fill="#1a252e" /><polygon points="180.8,171.6 223.3,210.1 223.3,309.1 180.8,270.6" fill="url(#gCathL)" /><polygon points="180.8,171.6 192.8,171.6 235.3,210.1 223.3,210.1" fill="#465962" /><polygon points="223.0,210.1 235.3,210.1 235.3,309.1 223.0,309.1" fill="#1a252e" /><polygon points="128.3,126.4 139.9,126.4 180.9,163.5 180.9,257.5 169.3,257.5 128.3,218.9" fill="#3b515b" /><polygon points="128.3,126.4 169.3,163.5 169.3,257.5 128.3,218.9" fill="#2d424b" /><polygon points="128.3,126.4 139.9,126.4 180.9,163.5 169.3,163.5" fill="#445a63" /><polygon points="169.0,163.5 180.9,163.5 180.9,257.5 169.0,257.5" fill="#3b515b" /><polygon points="192.4,251.2 200.5,251.4 199.6,255.9 191.4,255.6" fill="#baccd5" stroke="#a9c0ca" stroke-width="0.3" opacity="1.00"/><line x1="191.4" y1="255.6" x2="199.6" y2="255.9" stroke="#9db5c0" stroke-width="0.7" opacity="0.80"/><polygon points="190.8,215.2 196.0,218.9 192.6,221.9 187.4,218.2" fill="#c8d6dc" stroke="#a9c0ca" stroke-width="0.3" opacity="1.00"/><line x1="187.4" y1="218.2" x2="192.6" y2="221.9" stroke="#9db5c0" stroke-width="0.7" opacity="0.80"/><polygon points="219.0,273.5 210.9,273.8 208.5,269.2 216.7,268.9" fill="#c4d3da" stroke="#a9c0ca" stroke-width="0.3" opacity="1.00"/><line x1="216.7" y1="268.9" x2="208.5" y2="269.2" stroke="#9db5c0" stroke-width="0.7" opacity="0.80"/><polygon points="192.3,192.4 198.2,195.7 195.5,199.7 189.7,196.4" fill="#ccd7dd" stroke="#a9c0ca" stroke-width="0.3" opacity="1.00"/><line x1="189.7" y1="196.4" x2="195.5" y2="199.7" stroke="#9db5c0" stroke-width="0.7" opacity="0.80"/><polygon points="204.2,252.8 203.2,260.2 198.4,256.6 199.4,249.2" fill="#c6d4db" stroke="#a9c0ca" stroke-width="0.3" opacity="1.00"/><line x1="199.4" y1="249.2" x2="198.4" y2="256.6" stroke="#9db5c0" stroke-width="0.7" opacity="0.80"/><polygon points="220.2,252.0 216.3,257.7 211.9,256.4 215.8,250.6" fill="#c6d4db" stroke="#a9c0ca" stroke-width="0.3" opacity="1.00"/><line x1="215.8" y1="250.6" x2="211.9" y2="256.4" stroke="#9db5c0" stroke-width="0.7" opacity="0.80"/><polygon points="187.3,216.5 193.9,220.7 193.5,227.5 186.9,223.4" fill="#b4c7d1" stroke="#a9c0ca" stroke-width="0.3" opacity="1.00"/><line x1="186.9" y1="223.4" x2="193.5" y2="227.5" stroke="#9db5c0" stroke-width="0.7" opacity="0.80"/><polygon points="176.3,197.7 182.4,202.8 181.1,209.6 175.0,204.6" fill="#baccd5" stroke="#a9c0ca" stroke-width="0.3" opacity="1.00"/><line x1="175.0" y1="204.6" x2="181.1" y2="209.6" stroke="#9db5c0" stroke-width="0.7" opacity="0.80"/><polygon points="189.6,214.7 190.6,222.7 186.5,223.4 185.5,215.4" fill="#baccd5" stroke="#a9c0ca" stroke-width="0.3" opacity="1.00"/><line x1="185.5" y1="215.4" x2="186.5" y2="223.4" stroke="#9db5c0" stroke-width="0.7" opacity="0.80"/><polygon points="207.1,270.8 207.8,277.2 202.6,279.8 201.9,273.4" fill="#c0d0d8" stroke="#a9c0ca" stroke-width="0.3" opacity="1.00"/><line x1="201.9" y1="273.4" x2="202.6" y2="279.8" stroke="#9db5c0" stroke-width="0.7" opacity="0.80"/><polygon points="209.7,281.3 205.5,285.0 204.2,281.7 208.4,278.1" fill="#d0d9de" stroke="#a9c0ca" stroke-width="0.3" opacity="1.00"/><line x1="208.4" y1="278.1" x2="204.2" y2="281.7" stroke="#9db5c0" stroke-width="0.7" opacity="0.80"/><polygon points="199.2,206.6 198.3,212.5 194.9,210.3 195.8,204.4" fill="#c8d6dc" stroke="#a9c0ca" stroke-width="0.3" opacity="1.00"/><line x1="195.8" y1="204.4" x2="194.9" y2="210.3" stroke="#9db5c0" stroke-width="0.7" opacity="0.80"/><polygon points="206.1,208.3 206.0,214.3 201.4,215.6 201.4,209.6" fill="#c8d6dc" stroke="#a9c0ca" stroke-width="0.3" opacity="1.00"/><line x1="201.4" y1="209.6" x2="201.4" y2="215.6" stroke="#9db5c0" stroke-width="0.7" opacity="0.80"/><polygon points="218.0,280.3 212.3,282.6 211.7,278.9 217.4,276.5" fill="#c4d3da" stroke="#a9c0ca" stroke-width="0.3" opacity="1.00"/><line x1="217.4" y1="276.5" x2="211.7" y2="278.9" stroke="#9db5c0" stroke-width="0.7" opacity="0.80"/><polygon points="189.5,211.1 185.8,216.4 181.6,214.0 185.3,208.7" fill="#baccd5" stroke="#a9c0ca" stroke-width="0.3" opacity="1.00"/><line x1="185.3" y1="208.7" x2="181.6" y2="214.0" stroke="#9db5c0" stroke-width="0.7" opacity="0.80"/><polygon points="191.1,226.9 187.5,235.6 182.2,231.2 185.8,222.5" fill="#baccd5" stroke="#a9c0ca" stroke-width="0.3" opacity="1.00"/><line x1="185.8" y1="222.5" x2="182.2" y2="231.2" stroke="#9db5c0" stroke-width="0.7" opacity="0.80"/><polygon points="198.1,243.0 195.8,251.8 189.3,248.9 191.6,240.1" fill="#c8d6dc" stroke="#a9c0ca" stroke-width="0.3" opacity="1.00"/><line x1="191.6" y1="240.1" x2="189.3" y2="248.9" stroke="#9db5c0" stroke-width="0.7" opacity="0.80"/><rect x="188.3" y="198.2" width="6.6" height="1.4" fill="#34464f" transform="rotate(6 192.4 198.9)"/><polygon points="184.5,226.7 179.5,230.5 175.4,227.1 180.4,223.3" fill="#d0d9de" stroke="#a9c0ca" stroke-width="0.3" opacity="1.00"/><line x1="180.4" y1="223.3" x2="175.4" y2="227.1" stroke="#9db5c0" stroke-width="0.7" opacity="0.80"/><polygon points="212.1,253.1 219.2,256.0 216.6,260.9 209.5,258.0" fill="#b4c7d1" stroke="#a9c0ca" stroke-width="0.3" opacity="1.00"/><line x1="209.5" y1="258.0" x2="216.6" y2="260.9" stroke="#9db5c0" stroke-width="0.7" opacity="0.80"/><polygon points="182.7,219.3 179.5,224.1 177.0,221.4 180.2,216.6" fill="#baccd5" stroke="#a9c0ca" stroke-width="0.3" opacity="1.00"/><line x1="180.2" y1="216.6" x2="177.0" y2="221.4" stroke="#9db5c0" stroke-width="0.7" opacity="0.80"/><polygon points="203.0,250.4 212.2,251.3 211.8,257.1 202.6,256.2" fill="#c4d3da" stroke="#a9c0ca" stroke-width="0.3" opacity="1.00"/><line x1="202.6" y1="256.2" x2="211.8" y2="257.1" stroke="#9db5c0" stroke-width="0.7" opacity="0.80"/><polygon points="176.2,242.5 183.2,244.7 182.3,250.6 175.3,248.4" fill="#c8d6dc" stroke="#a9c0ca" stroke-width="0.3" opacity="1.00"/><line x1="175.3" y1="248.4" x2="182.3" y2="250.6" stroke="#9db5c0" stroke-width="0.7" opacity="0.80"/><polygon points="208.1,253.0 214.1,256.0 213.8,260.9 207.8,257.9" fill="#c8d6dc" stroke="#a9c0ca" stroke-width="0.3" opacity="1.00"/><line x1="207.8" y1="257.9" x2="213.8" y2="260.9" stroke="#9db5c0" stroke-width="0.7" opacity="0.80"/><polygon points="197.6,242.9 198.7,251.7 193.6,252.9 192.5,244.1" fill="#d0d9de" stroke="#a9c0ca" stroke-width="0.3" opacity="1.00"/><line x1="192.5" y1="244.1" x2="193.6" y2="252.9" stroke="#9db5c0" stroke-width="0.7" opacity="0.80"/><polygon points="201.2,265.2 208.7,266.4 208.7,271.4 201.2,270.2" fill="#baccd5" stroke="#a9c0ca" stroke-width="0.3" opacity="1.00"/><line x1="201.2" y1="270.2" x2="208.7" y2="271.4" stroke="#9db5c0" stroke-width="0.7" opacity="0.80"/><polygon points="206.6,212.9 210.8,219.1 206.0,220.4 201.7,214.2" fill="#d0d9de" stroke="#a9c0ca" stroke-width="0.3" opacity="1.00"/><line x1="201.7" y1="214.2" x2="206.0" y2="220.4" stroke="#9db5c0" stroke-width="0.7" opacity="0.80"/><polygon points="183.4,231.2 185.5,238.1 181.3,240.0 179.3,233.1" fill="#baccd5" stroke="#a9c0ca" stroke-width="0.3" opacity="1.00"/><line x1="179.3" y1="233.1" x2="181.3" y2="240.0" stroke="#9db5c0" stroke-width="0.7" opacity="0.80"/><polygon points="215.1,277.4 212.2,283.6 208.7,282.3 211.6,276.2" fill="#b4c7d1" stroke="#a9c0ca" stroke-width="0.3" opacity="1.00"/><line x1="211.6" y1="276.2" x2="208.7" y2="282.3" stroke="#9db5c0" stroke-width="0.7" opacity="0.80"/><polygon points="202.2,205.2 204.8,211.8 201.2,215.1 198.7,208.5" fill="#c0d0d8" stroke="#a9c0ca" stroke-width="0.3" opacity="1.00"/><line x1="198.7" y1="208.5" x2="201.2" y2="215.1" stroke="#9db5c0" stroke-width="0.7" opacity="0.80"/><polygon points="182.9,205.6 192.2,207.1 187.5,212.8 178.2,211.3" fill="#c8d6dc" stroke="#a9c0ca" stroke-width="0.3" opacity="1.00"/><line x1="178.2" y1="211.3" x2="187.5" y2="212.8" stroke="#9db5c0" stroke-width="0.7" opacity="0.80"/><polygon points="218.6,266.8 210.4,270.3 208.6,265.2 216.8,261.7" fill="#ccd7dd" stroke="#a9c0ca" stroke-width="0.3" opacity="1.00"/><line x1="216.8" y1="261.7" x2="208.6" y2="265.2" stroke="#9db5c0" stroke-width="0.7" opacity="0.80"/><polygon points="188.9,206.2 180.2,206.7 180.7,199.5 189.4,199.0" fill="#ccd7dd" stroke="#a9c0ca" stroke-width="0.3" opacity="1.00"/><line x1="189.4" y1="199.0" x2="180.7" y2="199.5" stroke="#9db5c0" stroke-width="0.7" opacity="0.80"/><polygon points="183.9,253.0 183.3,260.6 178.3,260.1 178.9,252.5" fill="#b4c7d1" stroke="#a9c0ca" stroke-width="0.3" opacity="1.00"/><line x1="178.9" y1="252.5" x2="178.3" y2="260.1" stroke="#9db5c0" stroke-width="0.7" opacity="0.80"/><polygon points="203.4,226.6 205.6,234.4 201.4,238.6 199.3,230.8" fill="#baccd5" stroke="#a9c0ca" stroke-width="0.3" opacity="1.00"/><line x1="199.3" y1="230.8" x2="201.4" y2="238.6" stroke="#9db5c0" stroke-width="0.7" opacity="0.80"/><polygon points="186.2,265.0 180.1,268.3 180.2,264.0 186.3,260.7" fill="#b4c7d1" stroke="#a9c0ca" stroke-width="0.3" opacity="1.00"/><line x1="186.3" y1="260.7" x2="180.2" y2="264.0" stroke="#9db5c0" stroke-width="0.7" opacity="0.80"/><polygon points="191.3,184.7 198.2,190.8 192.7,193.5 185.8,187.4" fill="#ccd7dd" stroke="#a9c0ca" stroke-width="0.3" opacity="1.00"/><line x1="185.8" y1="187.4" x2="192.7" y2="193.5" stroke="#9db5c0" stroke-width="0.7" opacity="0.80"/><polygon points="209.5,241.2 205.3,249.3 199.5,245.5 203.6,237.3" fill="#ccd7dd" stroke="#a9c0ca" stroke-width="0.3" opacity="1.00"/><line x1="203.6" y1="237.3" x2="199.5" y2="245.5" stroke="#9db5c0" stroke-width="0.7" opacity="0.80"/><polygon points="201.3,265.6 205.2,272.6 199.7,273.5 195.7,266.5" fill="#c8d6dc" stroke="#a9c0ca" stroke-width="0.3" opacity="1.00"/><line x1="195.7" y1="266.5" x2="199.7" y2="273.5" stroke="#9db5c0" stroke-width="0.7" opacity="0.80"/><polygon points="197.1,252.3 191.6,256.4 188.2,254.4 193.7,250.3" fill="#c8d6dc" stroke="#a9c0ca" stroke-width="0.3" opacity="1.00"/><line x1="193.7" y1="250.3" x2="188.2" y2="254.4" stroke="#9db5c0" stroke-width="0.7" opacity="0.80"/><polygon points="180.9,231.7 185.8,235.2 182.9,237.5 178.0,234.0" fill="#b4c7d1" stroke="#a9c0ca" stroke-width="0.3" opacity="1.00"/><line x1="178.0" y1="234.0" x2="182.9" y2="237.5" stroke="#9db5c0" stroke-width="0.7" opacity="0.80"/><polygon points="214.4,264.9 208.2,267.7 205.6,264.1 211.9,261.3" fill="#c4d3da" stroke="#a9c0ca" stroke-width="0.3" opacity="1.00"/><line x1="211.9" y1="261.3" x2="205.6" y2="264.1" stroke="#9db5c0" stroke-width="0.7" opacity="0.80"/><polygon points="212.9,247.4 216.7,254.4 212.2,254.9 208.4,247.9" fill="#c0d0d8" stroke="#a9c0ca" stroke-width="0.3" opacity="1.00"/><line x1="208.4" y1="247.9" x2="212.2" y2="254.9" stroke="#9db5c0" stroke-width="0.7" opacity="0.80"/><polygon points="207.8,231.6 201.2,231.8 199.5,227.7 206.1,227.5" fill="#c4d3da" stroke="#a9c0ca" stroke-width="0.3" opacity="1.00"/><line x1="206.1" y1="227.5" x2="199.5" y2="227.7" stroke="#9db5c0" stroke-width="0.7" opacity="0.80"/><polygon points="199.5,243.2 203.9,249.7 198.3,250.3 193.9,243.8" fill="#c8d6dc" stroke="#a9c0ca" stroke-width="0.3" opacity="1.00"/><line x1="193.9" y1="243.8" x2="198.3" y2="250.3" stroke="#9db5c0" stroke-width="0.7" opacity="0.80"/><polygon points="207.0,275.1 203.7,283.8 196.9,282.9 200.2,274.3" fill="#c0d0d8" stroke="#a9c0ca" stroke-width="0.3" opacity="1.00"/><line x1="200.2" y1="274.3" x2="196.9" y2="282.9" stroke="#9db5c0" stroke-width="0.7" opacity="0.80"/><polygon points="193.6,252.4 190.4,258.7 187.0,254.7 190.2,248.3" fill="#c6d4db" stroke="#a9c0ca" stroke-width="0.3" opacity="1.00"/><line x1="190.2" y1="248.3" x2="187.0" y2="254.7" stroke="#9db5c0" stroke-width="0.7" opacity="0.80"/><polygon points="186.4,234.7 181.7,238.2 180.7,234.5 185.4,231.0" fill="#c6d4db" stroke="#a9c0ca" stroke-width="0.3" opacity="1.00"/><line x1="185.4" y1="231.0" x2="180.7" y2="234.5" stroke="#9db5c0" stroke-width="0.7" opacity="0.80"/><polygon points="190.3,199.6 188.0,207.3 182.4,206.0 184.6,198.2" fill="#baccd5" stroke="#a9c0ca" stroke-width="0.3" opacity="1.00"/><line x1="184.6" y1="198.2" x2="182.4" y2="206.0" stroke="#9db5c0" stroke-width="0.7" opacity="0.80"/><polygon points="218.4,223.1 213.8,228.8 210.5,225.5 215.1,219.8" fill="#d0d9de" stroke="#a9c0ca" stroke-width="0.3" opacity="1.00"/><line x1="215.1" y1="219.8" x2="210.5" y2="225.5" stroke="#9db5c0" stroke-width="0.7" opacity="0.80"/><polygon points="214.0,235.1 206.8,238.8 202.7,234.0 210.0,230.3" fill="#b4c7d1" stroke="#a9c0ca" stroke-width="0.3" opacity="1.00"/><line x1="210.0" y1="230.3" x2="202.7" y2="234.0" stroke="#9db5c0" stroke-width="0.7" opacity="0.80"/><polygon points="206.5,218.7 214.8,223.0 210.7,229.5 202.4,225.2" fill="#b4c7d1" stroke="#a9c0ca" stroke-width="0.3" opacity="1.00"/><line x1="202.4" y1="225.2" x2="210.7" y2="229.5" stroke="#9db5c0" stroke-width="0.7" opacity="0.80"/><polygon points="185.8,222.0 187.1,230.7 182.6,233.4 181.3,224.7" fill="#d0d9de" stroke="#a9c0ca" stroke-width="0.3" opacity="1.00"/><line x1="181.3" y1="224.7" x2="182.6" y2="233.4" stroke="#9db5c0" stroke-width="0.7" opacity="0.80"/><polygon points="191.6,231.2 198.7,234.7 192.8,239.1 185.7,235.6" fill="#baccd5" stroke="#a9c0ca" stroke-width="0.3" opacity="1.00"/><line x1="185.7" y1="235.6" x2="192.8" y2="239.1" stroke="#9db5c0" stroke-width="0.7" opacity="0.80"/><polygon points="202.7,220.9 198.1,225.1 193.6,222.3 198.2,218.1" fill="#d0d9de" stroke="#a9c0ca" stroke-width="0.3" opacity="1.00"/><line x1="198.2" y1="218.1" x2="193.6" y2="222.3" stroke="#9db5c0" stroke-width="0.7" opacity="0.80"/><polygon points="185.8,249.5 180.3,252.5 176.9,248.7 182.4,245.7" fill="#b4c7d1" stroke="#a9c0ca" stroke-width="0.3" opacity="1.00"/><line x1="182.4" y1="245.7" x2="176.9" y2="248.7" stroke="#9db5c0" stroke-width="0.7" opacity="0.80"/><rect x="190.5" y="267.2" width="7.5" height="1.4" fill="#34464f" transform="rotate(72 195.2 267.9)"/><polygon points="195.7,224.6 201.6,226.0 198.6,229.1 192.7,227.7" fill="#baccd5" stroke="#a9c0ca" stroke-width="0.3" opacity="1.00"/><line x1="192.7" y1="227.7" x2="198.6" y2="229.1" stroke="#9db5c0" stroke-width="0.7" opacity="0.80"/><polygon points="189.3,223.4 188.7,232.1 182.3,228.6 182.9,220.0" fill="#ccd7dd" stroke="#a9c0ca" stroke-width="0.3" opacity="1.00"/><line x1="182.9" y1="220.0" x2="182.3" y2="228.6" stroke="#9db5c0" stroke-width="0.7" opacity="0.80"/><rect x="199.7" y="220.5" width="5.3" height="1.4" fill="#34464f" transform="rotate(22 203.0 221.2)"/><polygon points="218.6,241.1 213.0,243.8 212.7,238.5 218.3,235.8" fill="#d0d9de" stroke="#a9c0ca" stroke-width="0.3" opacity="1.00"/><line x1="218.3" y1="235.8" x2="212.7" y2="238.5" stroke="#9db5c0" stroke-width="0.7" opacity="0.80"/><rect x="191.9" y="230.6" width="5.4" height="1.4" fill="#34464f" transform="rotate(45 195.3 231.3)"/><polygon points="199.2,266.8 193.0,268.2 189.4,263.6 195.6,262.2" fill="#baccd5" stroke="#a9c0ca" stroke-width="0.3" opacity="1.00"/><line x1="195.6" y1="262.2" x2="189.4" y2="263.6" stroke="#9db5c0" stroke-width="0.7" opacity="0.80"/><polygon points="199.4,223.2 198.6,229.9 193.8,230.5 194.6,223.7" fill="#ccd7dd" stroke="#a9c0ca" stroke-width="0.3" opacity="1.00"/><line x1="194.6" y1="223.7" x2="193.8" y2="230.5" stroke="#9db5c0" stroke-width="0.7" opacity="0.80"/><polygon points="212.0,211.6 217.0,219.4 211.8,220.1 206.8,212.3" fill="#d0d9de" stroke="#a9c0ca" stroke-width="0.3" opacity="1.00"/><line x1="206.8" y1="212.3" x2="211.8" y2="220.1" stroke="#9db5c0" stroke-width="0.7" opacity="0.80"/><polygon points="202.5,256.6 207.0,264.9 200.3,269.3 195.7,261.0" fill="#ccd7dd" stroke="#a9c0ca" stroke-width="0.3" opacity="1.00"/><line x1="195.7" y1="261.0" x2="200.3" y2="269.3" stroke="#9db5c0" stroke-width="0.7" opacity="0.80"/><polygon points="215.9,217.6 210.6,219.7 211.0,214.4 216.3,212.4" fill="#c4d3da" stroke="#a9c0ca" stroke-width="0.3" opacity="1.00"/><line x1="216.3" y1="212.4" x2="211.0" y2="214.4" stroke="#9db5c0" stroke-width="0.7" opacity="0.80"/><polygon points="214.6,245.1 214.7,253.9 208.3,253.9 208.1,245.1" fill="#c0d0d8" stroke="#a9c0ca" stroke-width="0.3" opacity="1.00"/><line x1="208.1" y1="245.1" x2="208.3" y2="253.9" stroke="#9db5c0" stroke-width="0.7" opacity="0.80"/><polygon points="208.0,235.7 199.4,236.1 199.8,229.6 208.4,229.2" fill="#c0d0d8" stroke="#a9c0ca" stroke-width="0.3" opacity="1.00"/><line x1="208.4" y1="229.2" x2="199.8" y2="229.6" stroke="#9db5c0" stroke-width="0.7" opacity="0.80"/><polygon points="181.5,228.9 187.4,233.3 186.0,237.2 180.1,232.9" fill="#c0d0d8" stroke="#a9c0ca" stroke-width="0.3" opacity="1.00"/><line x1="180.1" y1="232.9" x2="186.0" y2="237.2" stroke="#9db5c0" stroke-width="0.7" opacity="0.80"/><polygon points="175.1,228.3 183.9,230.9 184.5,237.4 175.7,234.8" fill="#d0d9de" stroke="#a9c0ca" stroke-width="0.3" opacity="1.00"/><line x1="175.7" y1="234.8" x2="184.5" y2="237.4" stroke="#9db5c0" stroke-width="0.7" opacity="0.80"/><polygon points="208.7,241.2 214.7,242.8 212.9,246.8 206.9,245.2" fill="#c8d6dc" stroke="#a9c0ca" stroke-width="0.3" opacity="1.00"/><line x1="206.9" y1="245.2" x2="212.9" y2="246.8" stroke="#9db5c0" stroke-width="0.7" opacity="0.80"/><polygon points="200.3,276.1 192.1,278.4 191.5,273.7 199.6,271.4" fill="#c4d3da" stroke="#a9c0ca" stroke-width="0.3" opacity="1.00"/><line x1="199.6" y1="271.4" x2="191.5" y2="273.7" stroke="#9db5c0" stroke-width="0.7" opacity="0.80"/><polygon points="207.3,240.5 207.4,246.6 202.2,244.3 202.1,238.2" fill="#c0d0d8" stroke="#a9c0ca" stroke-width="0.3" opacity="1.00"/><line x1="202.1" y1="238.2" x2="202.2" y2="244.3" stroke="#9db5c0" stroke-width="0.7" opacity="0.80"/><polygon points="197.9,242.9 203.3,248.3 197.4,250.3 192.1,244.9" fill="#baccd5" stroke="#a9c0ca" stroke-width="0.3" opacity="1.00"/><line x1="192.1" y1="244.9" x2="197.4" y2="250.3" stroke="#9db5c0" stroke-width="0.7" opacity="0.80"/><polygon points="200.4,241.6 201.3,247.1 197.2,247.1 196.3,241.6" fill="#d0d9de" stroke="#a9c0ca" stroke-width="0.3" opacity="1.00"/><line x1="196.3" y1="241.6" x2="197.2" y2="247.1" stroke="#9db5c0" stroke-width="0.7" opacity="0.80"/><polygon points="203.5,239.2 211.6,239.7 212.0,245.7 203.8,245.2" fill="#c0d0d8" stroke="#a9c0ca" stroke-width="0.3" opacity="1.00"/><line x1="203.8" y1="245.2" x2="212.0" y2="245.7" stroke="#9db5c0" stroke-width="0.7" opacity="0.80"/><polygon points="206.6,256.1 206.3,265.0 199.5,262.3 199.8,253.4" fill="#c6d4db" stroke="#a9c0ca" stroke-width="0.3" opacity="1.00"/><line x1="199.8" y1="253.4" x2="199.5" y2="262.3" stroke="#9db5c0" stroke-width="0.7" opacity="0.80"/><polygon points="183.7,186.7 188.1,191.6 182.4,193.2 178.0,188.4" fill="#c6d4db" stroke="#a9c0ca" stroke-width="0.3" opacity="1.00"/><line x1="178.0" y1="188.4" x2="182.4" y2="193.2" stroke="#9db5c0" stroke-width="0.7" opacity="0.80"/><polygon points="205.0,227.0 199.9,234.0 195.7,231.9 200.9,224.9" fill="#b4c7d1" stroke="#a9c0ca" stroke-width="0.3" opacity="1.00"/><line x1="200.9" y1="224.9" x2="195.7" y2="231.9" stroke="#9db5c0" stroke-width="0.7" opacity="0.80"/><polygon points="187.6,218.1 192.1,222.0 188.8,223.9 184.3,220.0" fill="#baccd5" stroke="#a9c0ca" stroke-width="0.3" opacity="1.00"/><line x1="184.3" y1="220.0" x2="188.8" y2="223.9" stroke="#9db5c0" stroke-width="0.7" opacity="0.80"/><polygon points="194.8,215.7 200.1,218.6 197.5,221.6 192.3,218.7" fill="#c4d3da" stroke="#a9c0ca" stroke-width="0.3" opacity="1.00"/><line x1="192.3" y1="218.7" x2="197.5" y2="221.6" stroke="#9db5c0" stroke-width="0.7" opacity="0.80"/><polygon points="214.9,281.2 211.6,287.4 208.1,282.8 211.4,276.5" fill="#c6d4db" stroke="#a9c0ca" stroke-width="0.3" opacity="1.00"/><line x1="211.4" y1="276.5" x2="208.1" y2="282.8" stroke="#9db5c0" stroke-width="0.7" opacity="0.80"/><polygon points="218.3,249.6 212.9,252.5 213.0,246.5 218.5,243.6" fill="#baccd5" stroke="#a9c0ca" stroke-width="0.3" opacity="1.00"/><line x1="218.5" y1="243.6" x2="213.0" y2="246.5" stroke="#9db5c0" stroke-width="0.7" opacity="0.80"/><polygon points="189.2,238.2 181.5,238.7 180.5,232.8 188.2,232.3" fill="#c6d4db" stroke="#a9c0ca" stroke-width="0.3" opacity="1.00"/><line x1="188.2" y1="232.3" x2="180.5" y2="232.8" stroke="#9db5c0" stroke-width="0.7" opacity="0.80"/><polygon points="179.3,213.0 183.8,218.4 181.1,221.8 176.5,216.4" fill="#c8d6dc" stroke="#a9c0ca" stroke-width="0.3" opacity="1.00"/><line x1="176.5" y1="216.4" x2="181.1" y2="221.8" stroke="#9db5c0" stroke-width="0.7" opacity="0.80"/><polygon points="179.5,225.1 185.5,227.8 183.2,230.5 177.2,227.8" fill="#ccd7dd" stroke="#a9c0ca" stroke-width="0.3" opacity="1.00"/><line x1="177.2" y1="227.8" x2="183.2" y2="230.5" stroke="#9db5c0" stroke-width="0.7" opacity="0.80"/><polygon points="191.7,191.9 185.6,199.1 180.5,194.4 186.5,187.2" fill="#c8d6dc" stroke="#a9c0ca" stroke-width="0.3" opacity="1.00"/><line x1="186.5" y1="187.2" x2="180.5" y2="194.4" stroke="#9db5c0" stroke-width="0.7" opacity="0.80"/><polygon points="178.3,200.2 187.3,202.8 182.7,208.5 173.8,205.9" fill="#c8d6dc" stroke="#a9c0ca" stroke-width="0.3" opacity="1.00"/><line x1="173.8" y1="205.9" x2="182.7" y2="208.5" stroke="#9db5c0" stroke-width="0.7" opacity="0.80"/><polygon points="181.1,246.4 189.0,249.0 187.7,254.0 179.8,251.4" fill="#baccd5" stroke="#a9c0ca" stroke-width="0.3" opacity="1.00"/><line x1="179.8" y1="251.4" x2="187.7" y2="254.0" stroke="#9db5c0" stroke-width="0.7" opacity="0.80"/><polygon points="184.7,187.3 179.8,192.8 178.3,188.7 183.3,183.2" fill="#ccd7dd" stroke="#a9c0ca" stroke-width="0.3" opacity="1.00"/><line x1="183.3" y1="183.2" x2="178.3" y2="188.7" stroke="#9db5c0" stroke-width="0.7" opacity="0.80"/><rect x="180.0" y="226.9" width="5.7" height="1.4" fill="#34464f" transform="rotate(155 183.6 227.6)"/><polygon points="221.2,256.4 212.3,259.5 211.5,254.6 220.4,251.5" fill="#baccd5" stroke="#a9c0ca" stroke-width="0.3" opacity="1.00"/><line x1="220.4" y1="251.5" x2="211.5" y2="254.6" stroke="#9db5c0" stroke-width="0.7" opacity="0.80"/><polygon points="198.1,271.9 200.4,279.4 194.4,278.2 192.1,270.7" fill="#ccd7dd" stroke="#a9c0ca" stroke-width="0.3" opacity="1.00"/><line x1="192.1" y1="270.7" x2="194.4" y2="278.2" stroke="#9db5c0" stroke-width="0.7" opacity="0.80"/><polygon points="210.1,212.3 210.5,220.7 205.8,222.7 205.3,214.3" fill="#c6d4db" stroke="#a9c0ca" stroke-width="0.3" opacity="1.00"/><line x1="205.3" y1="214.3" x2="205.8" y2="222.7" stroke="#9db5c0" stroke-width="0.7" opacity="0.80"/><polygon points="212.5,272.9 207.8,276.0 207.5,271.7 212.2,268.6" fill="#d0d9de" stroke="#a9c0ca" stroke-width="0.3" opacity="1.00"/><line x1="212.2" y1="268.6" x2="207.5" y2="271.7" stroke="#9db5c0" stroke-width="0.7" opacity="0.80"/><polygon points="209.1,255.3 203.3,257.3 200.6,253.0 206.4,250.9" fill="#c4d3da" stroke="#a9c0ca" stroke-width="0.3" opacity="1.00"/><line x1="206.4" y1="250.9" x2="200.6" y2="253.0" stroke="#9db5c0" stroke-width="0.7" opacity="0.80"/><polygon points="186.7,227.5 185.9,233.6 181.0,231.2 181.8,225.1" fill="#d0d9de" stroke="#a9c0ca" stroke-width="0.3" opacity="1.00"/><line x1="181.8" y1="225.1" x2="181.0" y2="231.2" stroke="#9db5c0" stroke-width="0.7" opacity="0.80"/><polygon points="190.9,257.9 187.9,265.0 183.6,261.9 186.6,254.8" fill="#c6d4db" stroke="#a9c0ca" stroke-width="0.3" opacity="1.00"/><line x1="186.6" y1="254.8" x2="183.6" y2="261.9" stroke="#9db5c0" stroke-width="0.7" opacity="0.80"/><polygon points="201.6,271.8 208.4,275.2 208.8,281.2 202.0,277.9" fill="#ccd7dd" stroke="#a9c0ca" stroke-width="0.3" opacity="1.00"/><line x1="202.0" y1="277.9" x2="208.8" y2="281.2" stroke="#9db5c0" stroke-width="0.7" opacity="0.80"/><polygon points="215.4,224.9 212.9,231.7 206.1,232.7 208.6,225.9" fill="#b4c7d1" stroke="#a9c0ca" stroke-width="0.3" opacity="1.00"/><line x1="208.6" y1="225.9" x2="206.1" y2="232.7" stroke="#9db5c0" stroke-width="0.7" opacity="0.80"/><polygon points="194.8,204.4 187.9,206.0 187.2,201.9 194.1,200.2" fill="#b4c7d1" stroke="#a9c0ca" stroke-width="0.3" opacity="1.00"/><line x1="194.1" y1="200.2" x2="187.2" y2="201.9" stroke="#9db5c0" stroke-width="0.7" opacity="0.80"/><polygon points="204.4,200.7 209.6,204.7 204.4,207.4 199.3,203.5" fill="#c4d3da" stroke="#a9c0ca" stroke-width="0.3" opacity="1.00"/><line x1="199.3" y1="203.5" x2="204.4" y2="207.4" stroke="#9db5c0" stroke-width="0.7" opacity="0.80"/><polygon points="181.5,190.4 186.6,192.9 185.3,197.2 180.1,194.6" fill="#b4c7d1" stroke="#a9c0ca" stroke-width="0.3" opacity="1.00"/><line x1="180.1" y1="194.6" x2="185.3" y2="197.2" stroke="#9db5c0" stroke-width="0.7" opacity="0.80"/><polygon points="198.9,242.0 200.5,249.6 195.5,252.2 193.9,244.7" fill="#c0d0d8" stroke="#a9c0ca" stroke-width="0.3" opacity="1.00"/><line x1="193.9" y1="244.7" x2="195.5" y2="252.2" stroke="#9db5c0" stroke-width="0.7" opacity="0.80"/><polygon points="192.1,191.4 201.4,191.4 200.6,197.2 191.3,197.1" fill="#b4c7d1" stroke="#a9c0ca" stroke-width="0.3" opacity="1.00"/><line x1="191.3" y1="197.1" x2="200.6" y2="197.2" stroke="#9db5c0" stroke-width="0.7" opacity="0.80"/><polygon points="216.1,271.0 220.5,277.2 215.5,279.7 211.2,273.5" fill="#ccd7dd" stroke="#a9c0ca" stroke-width="0.3" opacity="1.00"/><line x1="211.2" y1="273.5" x2="215.5" y2="279.7" stroke="#9db5c0" stroke-width="0.7" opacity="0.80"/><polygon points="205.4,255.8 213.8,256.9 215.3,263.3 206.9,262.1" fill="#ccd7dd" stroke="#a9c0ca" stroke-width="0.3" opacity="1.00"/><line x1="206.9" y1="262.1" x2="215.3" y2="263.3" stroke="#9db5c0" stroke-width="0.7" opacity="0.80"/><polygon points="200.2,245.6 207.7,250.4 201.1,253.7 193.6,249.0" fill="#c8d6dc" stroke="#a9c0ca" stroke-width="0.3" opacity="1.00"/><line x1="193.6" y1="249.0" x2="201.1" y2="253.7" stroke="#9db5c0" stroke-width="0.7" opacity="0.80"/><polygon points="217.6,275.0 210.9,276.8 211.7,271.1 218.4,269.3" fill="#b4c7d1" stroke="#a9c0ca" stroke-width="0.3" opacity="1.00"/><line x1="218.4" y1="269.3" x2="211.7" y2="271.1" stroke="#9db5c0" stroke-width="0.7" opacity="0.80"/><polygon points="208.6,217.2 202.4,218.6 202.0,214.3 208.3,212.9" fill="#baccd5" stroke="#a9c0ca" stroke-width="0.3" opacity="1.00"/><line x1="208.3" y1="212.9" x2="202.0" y2="214.3" stroke="#9db5c0" stroke-width="0.7" opacity="0.80"/><polygon points="210.6,286.1 216.2,287.3 213.9,291.3 208.3,290.1" fill="#c0d0d8" stroke="#a9c0ca" stroke-width="0.3" opacity="1.00"/><line x1="208.3" y1="290.1" x2="213.9" y2="291.3" stroke="#9db5c0" stroke-width="0.7" opacity="0.80"/><polygon points="187.5,228.0 191.8,235.0 188.0,240.1 183.7,233.1" fill="#b4c7d1" stroke="#a9c0ca" stroke-width="0.3" opacity="1.00"/><line x1="183.7" y1="233.1" x2="188.0" y2="240.1" stroke="#9db5c0" stroke-width="0.7" opacity="0.80"/><polygon points="203.3,269.1 208.6,275.0 205.1,280.7 199.8,274.9" fill="#c4d3da" stroke="#a9c0ca" stroke-width="0.3" opacity="1.00"/><line x1="199.8" y1="274.9" x2="205.1" y2="280.7" stroke="#9db5c0" stroke-width="0.7" opacity="0.80"/><polygon points="180.8,192.2 188.2,197.5 183.3,202.8 176.0,197.5" fill="#d0d9de" stroke="#a9c0ca" stroke-width="0.3" opacity="1.00"/><line x1="176.0" y1="197.5" x2="183.3" y2="202.8" stroke="#9db5c0" stroke-width="0.7" opacity="0.80"/><polygon points="214.5,242.4 215.6,251.0 209.3,252.8 208.2,244.2" fill="#c0d0d8" stroke="#a9c0ca" stroke-width="0.3" opacity="1.00"/><line x1="208.2" y1="244.2" x2="209.3" y2="252.8" stroke="#9db5c0" stroke-width="0.7" opacity="0.80"/><polygon points="207.5,242.3 212.5,249.5 206.0,251.8 201.0,244.7" fill="#b4c7d1" stroke="#a9c0ca" stroke-width="0.3" opacity="1.00"/><line x1="201.0" y1="244.7" x2="206.0" y2="251.8" stroke="#9db5c0" stroke-width="0.7" opacity="0.80"/><polygon points="196.9,233.6 192.6,239.2 189.5,236.0 193.8,230.5" fill="#c8d6dc" stroke="#a9c0ca" stroke-width="0.3" opacity="1.00"/><line x1="193.8" y1="230.5" x2="189.5" y2="236.0" stroke="#9db5c0" stroke-width="0.7" opacity="0.80"/><polygon points="199.6,228.6 200.6,234.7 196.3,235.9 195.2,229.8" fill="#c0d0d8" stroke="#a9c0ca" stroke-width="0.3" opacity="1.00"/><line x1="195.2" y1="229.8" x2="196.3" y2="235.9" stroke="#9db5c0" stroke-width="0.7" opacity="0.80"/><polygon points="206.1,258.3 208.0,266.7 201.9,266.5 200.1,258.0" fill="#baccd5" stroke="#a9c0ca" stroke-width="0.3" opacity="1.00"/><line x1="200.1" y1="258.0" x2="201.9" y2="266.5" stroke="#9db5c0" stroke-width="0.7" opacity="0.80"/><polygon points="190.2,223.8 189.1,229.5 185.9,228.2 187.0,222.4" fill="#b4c7d1" stroke="#a9c0ca" stroke-width="0.3" opacity="1.00"/><line x1="187.0" y1="222.4" x2="185.9" y2="228.2" stroke="#9db5c0" stroke-width="0.7" opacity="0.80"/><polygon points="199.1,259.4 199.5,265.8 194.8,265.4 194.3,259.1" fill="#c8d6dc" stroke="#a9c0ca" stroke-width="0.3" opacity="1.00"/><line x1="194.3" y1="259.1" x2="194.8" y2="265.4" stroke="#9db5c0" stroke-width="0.7" opacity="0.80"/><polygon points="189.4,189.3 187.9,197.1 182.2,196.5 183.7,188.7" fill="#c6d4db" stroke="#a9c0ca" stroke-width="0.3" opacity="1.00"/><line x1="183.7" y1="188.7" x2="182.2" y2="196.5" stroke="#9db5c0" stroke-width="0.7" opacity="0.80"/><polygon points="200.1,276.0 201.6,281.9 197.2,281.2 195.8,275.3" fill="#d0d9de" stroke="#a9c0ca" stroke-width="0.3" opacity="1.00"/><line x1="195.8" y1="275.3" x2="197.2" y2="281.2" stroke="#9db5c0" stroke-width="0.7" opacity="0.80"/><polygon points="217.5,263.5 210.3,265.0 210.6,259.3 217.8,257.7" fill="#b4c7d1" stroke="#a9c0ca" stroke-width="0.3" opacity="1.00"/><line x1="217.8" y1="257.7" x2="210.6" y2="259.3" stroke="#9db5c0" stroke-width="0.7" opacity="0.80"/><polygon points="192.2,257.4 184.4,258.5 183.0,253.3 190.7,252.2" fill="#b4c7d1" stroke="#a9c0ca" stroke-width="0.3" opacity="1.00"/><line x1="190.7" y1="252.2" x2="183.0" y2="253.3" stroke="#9db5c0" stroke-width="0.7" opacity="0.80"/><polygon points="190.1,196.3 189.8,205.4 184.6,202.4 184.9,193.3" fill="#ccd7dd" stroke="#a9c0ca" stroke-width="0.3" opacity="1.00"/><line x1="184.9" y1="193.3" x2="184.6" y2="202.4" stroke="#9db5c0" stroke-width="0.7" opacity="0.80"/><polygon points="217.9,267.3 212.9,274.9 205.8,272.7 210.8,265.0" fill="#ccd7dd" stroke="#a9c0ca" stroke-width="0.3" opacity="1.00"/><line x1="210.8" y1="265.0" x2="205.8" y2="272.7" stroke="#9db5c0" stroke-width="0.7" opacity="0.80"/><polygon points="204.0,269.3 211.0,269.6 213.0,273.6 206.0,273.3" fill="#c8d6dc" stroke="#a9c0ca" stroke-width="0.3" opacity="1.00"/><line x1="206.0" y1="273.3" x2="213.0" y2="273.6" stroke="#9db5c0" stroke-width="0.7" opacity="0.80"/><polygon points="211.8,281.9 212.0,290.5 206.4,290.5 206.2,281.8" fill="#b4c7d1" stroke="#a9c0ca" stroke-width="0.3" opacity="1.00"/><line x1="206.2" y1="281.8" x2="206.4" y2="290.5" stroke="#9db5c0" stroke-width="0.7" opacity="0.80"/><polygon points="211.9,223.4 204.1,228.6 200.5,223.3 208.3,218.0" fill="#b4c7d1" stroke="#a9c0ca" stroke-width="0.3" opacity="1.00"/><line x1="208.3" y1="218.0" x2="200.5" y2="223.3" stroke="#9db5c0" stroke-width="0.7" opacity="0.80"/><polygon points="196.1,253.7 195.2,259.7 190.6,258.7 191.5,252.7" fill="#c0d0d8" stroke="#a9c0ca" stroke-width="0.3" opacity="1.00"/><line x1="191.5" y1="252.7" x2="190.6" y2="258.7" stroke="#9db5c0" stroke-width="0.7" opacity="0.80"/><polygon points="176.7,235.1 182.3,238.1 181.9,243.1 176.3,240.1" fill="#c6d4db" stroke="#a9c0ca" stroke-width="0.3" opacity="1.00"/><line x1="176.3" y1="240.1" x2="181.9" y2="243.1" stroke="#9db5c0" stroke-width="0.7" opacity="0.80"/><polygon points="198.9,261.0 191.4,263.4 188.1,258.4 195.6,256.1" fill="#d0d9de" stroke="#a9c0ca" stroke-width="0.3" opacity="1.00"/><line x1="195.6" y1="256.1" x2="188.1" y2="258.4" stroke="#9db5c0" stroke-width="0.7" opacity="0.80"/><polygon points="204.1,230.0 204.1,238.0 197.8,234.6 197.9,226.6" fill="#c0d0d8" stroke="#a9c0ca" stroke-width="0.3" opacity="1.00"/><line x1="197.9" y1="226.6" x2="197.8" y2="234.6" stroke="#9db5c0" stroke-width="0.7" opacity="0.80"/><polygon points="204.4,261.3 213.4,262.4 211.7,268.9 202.7,267.8" fill="#baccd5" stroke="#a9c0ca" stroke-width="0.3" opacity="1.00"/><line x1="202.7" y1="267.8" x2="211.7" y2="268.9" stroke="#9db5c0" stroke-width="0.7" opacity="0.80"/><polygon points="208.8,222.3 200.6,225.4 198.7,219.0 206.9,215.9" fill="#d0d9de" stroke="#a9c0ca" stroke-width="0.3" opacity="1.00"/><line x1="206.9" y1="215.9" x2="198.7" y2="219.0" stroke="#9db5c0" stroke-width="0.7" opacity="0.80"/><polygon points="189.7,209.3 193.5,213.8 191.5,218.6 187.7,214.1" fill="#baccd5" stroke="#a9c0ca" stroke-width="0.3" opacity="1.00"/><line x1="187.7" y1="214.1" x2="191.5" y2="218.6" stroke="#9db5c0" stroke-width="0.7" opacity="0.80"/><rect x="192.9" y="254.1" width="4.5" height="1.4" fill="#34464f" transform="rotate(137 195.7 254.8)"/><polygon points="201.6,253.2 195.9,255.8 196.5,250.8 202.2,248.1" fill="#c4d3da" stroke="#a9c0ca" stroke-width="0.3" opacity="1.00"/><line x1="202.2" y1="248.1" x2="196.5" y2="250.8" stroke="#9db5c0" stroke-width="0.7" opacity="0.80"/><polygon points="199.6,274.6 194.5,279.9 190.5,275.4 195.7,270.1" fill="#ccd7dd" stroke="#a9c0ca" stroke-width="0.3" opacity="1.00"/><line x1="195.7" y1="270.1" x2="190.5" y2="275.4" stroke="#9db5c0" stroke-width="0.7" opacity="0.80"/><polygon points="215.5,258.9 211.8,264.2 208.9,261.4 212.5,256.1" fill="#c4d3da" stroke="#a9c0ca" stroke-width="0.3" opacity="1.00"/><line x1="212.5" y1="256.1" x2="208.9" y2="261.4" stroke="#9db5c0" stroke-width="0.7" opacity="0.80"/><polygon points="185.1,218.1 192.1,219.2 189.8,224.5 182.8,223.5" fill="#c6d4db" stroke="#a9c0ca" stroke-width="0.3" opacity="1.00"/><line x1="182.8" y1="223.5" x2="189.8" y2="224.5" stroke="#9db5c0" stroke-width="0.7" opacity="0.80"/><polygon points="185.5,241.2 189.1,246.6 184.5,248.5 180.9,243.1" fill="#d0d9de" stroke="#a9c0ca" stroke-width="0.3" opacity="1.00"/><line x1="180.9" y1="243.1" x2="184.5" y2="248.5" stroke="#9db5c0" stroke-width="0.7" opacity="0.80"/><polygon points="193.7,239.3 193.1,246.2 188.5,247.6 189.1,240.7" fill="#c6d4db" stroke="#a9c0ca" stroke-width="0.3" opacity="1.00"/><line x1="189.1" y1="240.7" x2="188.5" y2="247.6" stroke="#9db5c0" stroke-width="0.7" opacity="0.80"/><polygon points="219.5,229.9 219.4,237.7 213.1,237.5 213.1,229.8" fill="#d0d9de" stroke="#a9c0ca" stroke-width="0.3" opacity="1.00"/><line x1="213.1" y1="229.8" x2="213.1" y2="237.5" stroke="#9db5c0" stroke-width="0.7" opacity="0.80"/><polygon points="213.9,205.6 209.7,213.2 206.7,209.2 210.9,201.7" fill="#c0d0d8" stroke="#a9c0ca" stroke-width="0.3" opacity="1.00"/><line x1="210.9" y1="201.7" x2="206.7" y2="209.2" stroke="#9db5c0" stroke-width="0.7" opacity="0.80"/><polygon points="192.2,216.5 190.4,221.7 187.5,220.9 189.3,215.7" fill="#d0d9de" stroke="#a9c0ca" stroke-width="0.3" opacity="1.00"/><line x1="189.3" y1="215.7" x2="187.5" y2="220.9" stroke="#9db5c0" stroke-width="0.7" opacity="0.80"/><polygon points="191.0,223.5 187.5,228.5 184.7,225.4 188.2,220.4" fill="#c0d0d8" stroke="#a9c0ca" stroke-width="0.3" opacity="1.00"/><line x1="188.2" y1="220.4" x2="184.7" y2="225.4" stroke="#9db5c0" stroke-width="0.7" opacity="0.80"/><polygon points="193.0,251.9 188.1,255.2 186.5,252.4 191.4,249.1" fill="#c4d3da" stroke="#a9c0ca" stroke-width="0.3" opacity="1.00"/><line x1="191.4" y1="249.1" x2="186.5" y2="252.4" stroke="#9db5c0" stroke-width="0.7" opacity="0.80"/><polygon points="201.7,272.4 194.6,277.0 193.5,271.5 200.6,266.9" fill="#baccd5" stroke="#a9c0ca" stroke-width="0.3" opacity="1.00"/><line x1="200.6" y1="266.9" x2="193.5" y2="271.5" stroke="#9db5c0" stroke-width="0.7" opacity="0.80"/><polygon points="218.3,249.8 212.8,253.0 212.0,249.4 217.4,246.2" fill="#c0d0d8" stroke="#a9c0ca" stroke-width="0.3" opacity="1.00"/><line x1="217.4" y1="246.2" x2="212.0" y2="249.4" stroke="#9db5c0" stroke-width="0.7" opacity="0.80"/><polygon points="217.4,264.1 215.2,273.1 207.6,271.6 209.8,262.6" fill="#b4c7d1" stroke="#a9c0ca" stroke-width="0.3" opacity="1.00"/><line x1="209.8" y1="262.6" x2="207.6" y2="271.6" stroke="#9db5c0" stroke-width="0.7" opacity="0.80"/><rect x="208.4" y="233.2" width="4.4" height="1.4" fill="#34464f" transform="rotate(167 211.2 233.9)"/><polygon points="207.8,220.9 212.8,227.9 208.3,229.9 203.3,222.9" fill="#baccd5" stroke="#a9c0ca" stroke-width="0.3" opacity="1.00"/><line x1="203.3" y1="222.9" x2="208.3" y2="229.9" stroke="#9db5c0" stroke-width="0.7" opacity="0.80"/><polygon points="198.0,188.3 202.8,195.5 197.1,199.3 192.3,192.1" fill="#c6d4db" stroke="#a9c0ca" stroke-width="0.3" opacity="1.00"/><line x1="192.3" y1="192.1" x2="197.1" y2="199.3" stroke="#9db5c0" stroke-width="0.7" opacity="0.80"/><polygon points="190.9,200.4 187.8,205.8 185.6,202.1 188.6,196.7" fill="#d0d9de" stroke="#a9c0ca" stroke-width="0.3" opacity="1.00"/><line x1="188.6" y1="196.7" x2="185.6" y2="202.1" stroke="#9db5c0" stroke-width="0.7" opacity="0.80"/><polygon points="215.7,235.3 210.7,240.2 207.3,235.6 212.3,230.8" fill="#baccd5" stroke="#a9c0ca" stroke-width="0.3" opacity="1.00"/><line x1="212.3" y1="230.8" x2="207.3" y2="235.6" stroke="#9db5c0" stroke-width="0.7" opacity="0.80"/><polygon points="217.7,262.3 217.0,268.4 213.5,269.5 214.2,263.4" fill="#c4d3da" stroke="#a9c0ca" stroke-width="0.3" opacity="1.00"/><line x1="214.2" y1="263.4" x2="213.5" y2="269.5" stroke="#9db5c0" stroke-width="0.7" opacity="0.80"/><polygon points="182.1,231.3 177.5,237.1 175.8,232.6 180.4,226.8" fill="#c0d0d8" stroke="#a9c0ca" stroke-width="0.3" opacity="1.00"/><line x1="180.4" y1="226.8" x2="175.8" y2="232.6" stroke="#9db5c0" stroke-width="0.7" opacity="0.80"/><polygon points="181.6,236.8 183.6,243.4 178.0,243.3 176.0,236.7" fill="#c0d0d8" stroke="#a9c0ca" stroke-width="0.3" opacity="1.00"/><line x1="176.0" y1="236.7" x2="178.0" y2="243.3" stroke="#9db5c0" stroke-width="0.7" opacity="0.80"/><polygon points="187.0,250.4 182.3,253.5 179.2,251.6 183.9,248.6" fill="#baccd5" stroke="#a9c0ca" stroke-width="0.3" opacity="1.00"/><line x1="183.9" y1="248.6" x2="179.2" y2="251.6" stroke="#9db5c0" stroke-width="0.7" opacity="0.80"/><polygon points="207.0,249.2 202.7,255.6 196.7,253.2 201.0,246.8" fill="#ccd7dd" stroke="#a9c0ca" stroke-width="0.3" opacity="1.00"/><line x1="201.0" y1="246.8" x2="196.7" y2="253.2" stroke="#9db5c0" stroke-width="0.7" opacity="0.80"/><polygon points="211.9,257.6 207.1,264.6 202.2,263.8 207.1,256.9" fill="#c0d0d8" stroke="#a9c0ca" stroke-width="0.3" opacity="1.00"/><line x1="207.1" y1="256.9" x2="202.2" y2="263.8" stroke="#9db5c0" stroke-width="0.7" opacity="0.80"/><polygon points="190.3,218.0 186.7,222.8 184.6,220.0 188.2,215.3" fill="#baccd5" stroke="#a9c0ca" stroke-width="0.3" opacity="1.00"/><line x1="188.2" y1="215.3" x2="184.6" y2="220.0" stroke="#9db5c0" stroke-width="0.7" opacity="0.80"/><polygon points="189.1,209.3 183.1,215.8 177.1,213.3 183.1,206.9" fill="#b4c7d1" stroke="#a9c0ca" stroke-width="0.3" opacity="1.00"/><line x1="183.1" y1="206.9" x2="177.1" y2="213.3" stroke="#9db5c0" stroke-width="0.7" opacity="0.80"/><polygon points="188.3,263.1 182.0,265.0 182.5,260.5 188.7,258.6" fill="#baccd5" stroke="#a9c0ca" stroke-width="0.3" opacity="1.00"/><line x1="188.7" y1="258.6" x2="182.5" y2="260.5" stroke="#9db5c0" stroke-width="0.7" opacity="0.80"/><polygon points="204.1,197.1 200.5,204.1 194.5,204.0 198.0,197.0" fill="#c4d3da" stroke="#a9c0ca" stroke-width="0.3" opacity="1.00"/><line x1="198.0" y1="197.0" x2="194.5" y2="204.0" stroke="#9db5c0" stroke-width="0.7" opacity="0.80"/><polygon points="216.2,276.0 219.6,283.9 213.3,283.8 209.8,275.9" fill="#baccd5" stroke="#a9c0ca" stroke-width="0.3" opacity="1.00"/><line x1="209.8" y1="275.9" x2="213.3" y2="283.8" stroke="#9db5c0" stroke-width="0.7" opacity="0.80"/><polygon points="183.9,223.6 188.8,228.1 187.1,232.9 182.2,228.4" fill="#c4d3da" stroke="#a9c0ca" stroke-width="0.3" opacity="1.00"/><line x1="182.2" y1="228.4" x2="187.1" y2="232.9" stroke="#9db5c0" stroke-width="0.7" opacity="0.80"/><polygon points="185.4,186.0 180.3,193.1 172.7,191.9 177.9,184.8" fill="#c0d0d8" stroke="#a9c0ca" stroke-width="0.3" opacity="1.00"/><line x1="177.9" y1="184.8" x2="172.7" y2="191.9" stroke="#9db5c0" stroke-width="0.7" opacity="0.80"/><polygon points="203.2,256.6 194.7,257.9 192.5,251.4 201.0,250.2" fill="#c6d4db" stroke="#a9c0ca" stroke-width="0.3" opacity="1.00"/><line x1="201.0" y1="250.2" x2="192.5" y2="251.4" stroke="#9db5c0" stroke-width="0.7" opacity="0.80"/><polygon points="189.8,257.5 183.8,259.0 180.7,254.5 186.6,253.0" fill="#baccd5" stroke="#a9c0ca" stroke-width="0.3" opacity="1.00"/><line x1="186.6" y1="253.0" x2="180.7" y2="254.5" stroke="#9db5c0" stroke-width="0.7" opacity="0.80"/><polygon points="182.6,254.5 188.3,258.9 187.5,265.2 181.8,260.7" fill="#baccd5" stroke="#a9c0ca" stroke-width="0.3" opacity="1.00"/><line x1="181.8" y1="260.7" x2="187.5" y2="265.2" stroke="#9db5c0" stroke-width="0.7" opacity="0.80"/><rect x="188.5" y="213.5" width="4.9" height="1.4" fill="#34464f" transform="rotate(59 191.6 214.2)"/><rect x="235.3" y="210" width="8.7" height="99" fill="#2f4a3a" opacity="0.38"/><rect x="145.3" y="210" width="98.7" height="102.75" fill="url(#gFront)"/><rect x="145.3" y="210" width="98.7" height="102.75" fill="#fff" filter="url(#caust)" mask="url(#mLow)" opacity="0.16"/><g clip-path="url(#clipC1)"><text transform="matrix(0 0.9978 -0.9993 0 170.82 185.57)" font-size="12.4" font-weight="normal" fill="#f2f6f7" fill-opacity="0.93" stroke="#f2f6f7" stroke-width="0.4" stroke-opacity="0.8">Cathode</text></g><text transform="matrix(0 0.9612 -0.9964 0 225.02 232.72)" font-size="12.3" font-weight="bold" fill="#ffffff" >Cathode</text><text transform="matrix(0 0.9060 -0.9986 0 281.13 239.58)" font-size="13.5" font-weight="normal" fill="#0f1318" stroke="#0f1318" stroke-width="0.3">Anode</text><text transform="matrix(1.1992 0 0 1.0033 238.39 206.70)" font-size="11.3" font-weight="bold" fill="#0a0a0a" >BPM</text><text transform="matrix(0 0.7689 -0.9984 0 257.20 239.11)" font-size="9.9" font-weight="bold" fill="#3d3d00" >AEL</text><text transform="matrix(0 0.8211 -1.0005 0 249.29 262.08)" font-size="9.6" font-weight="bold" fill="#223811" >CEL</text><text transform="matrix(1.1204 0 0 1.0039 295.57 305.78)" font-size="12.1" font-weight="normal" fill="#0b0b0b" stroke="#0b0b0b" stroke-width="0.45">0.5 M NaOH</text><path d="M376.4 134.3 L401.6 166.2 L384.5 166.2 L384.5 195 A47.5 47.2 0 0 1 337 242.2 L297.2 242.2 L297.2 227.7 L337 227.7 A32.5 32.7 0 0 0 369.5 195 L369.5 166.2 L351.2 166.2 Z" fill="#ffffff" fill-opacity="0.18" stroke="#2a2a2a" stroke-width="0.9" stroke-linejoin="miter"/><path d="M376.4 134.3 L401.6 166.2 L351.2 166.2 Z" fill="#fff" stroke="#2a2a2a" stroke-width="0.9"/><rect x="370" y="165" width="14" height="3" fill="#fff"/><text transform="matrix(1.1267 0 0 1.0008 366.09 159.93)" font-size="17.5" font-weight="bold" fill="#0c0c0c" >O</text><text transform="matrix(1.0189 0 0 0.9998 381.53 164.10)" font-size="10.6" font-weight="bold" fill="#0c0c0c" >2</text><path d="M116.0 130.1 L141.2 161.1 L124.8 161.1 L124.8 199.4 A22.5 22.5 0 0 0 147.3 221.9 L194.8 221.9 L194.8 236.5 L147.3 236.5 A40.1 37.1 0 0 1 107.2 199.4 L107.2 161.1 L90.8 161.1 Z" fill="#0808f3" fill-opacity="0.67" stroke="#ffffff" stroke-opacity="0.8" stroke-width="1"/><text transform="matrix(1.1111 0 0 1.0003 106.07 154.50)" font-size="18.6" font-weight="bold" fill="#fff" >H</text><text transform="matrix(1.2611 0 0 0.9974 120.11 158.10)" font-size="11.2" font-weight="bold" fill="#fff" >2</text><polygon points="152.6,10.7 211.6,63.3 211.6,135.5 152.6,83.2" fill="none" stroke="#1da6e2" stroke-width="1.7" stroke-linejoin="miter"/><path d="M181.5 52 L181.5 18.6 L209 18.6 M217.5 18.6 L243 18.6 L243 170" stroke="#111" stroke-width="1.7" fill="none"/><path d="M209 9.4 L209 28.2 M217.5 3 L217.5 34.4" stroke="#111" stroke-width="1.8"/><path d="M162.3 77 L162.3 151.6 M196.6 110 L196.6 178.6" stroke="#111" stroke-width="1.7" fill="none"/><path d="M182.3 56.5 L196 105" stroke="#111" stroke-width="1.7" fill="none"/><ellipse cx="181.5" cy="54.3" rx="2.1" ry="2.75" fill="#fff" stroke="#111" stroke-width="1.3"/><ellipse cx="162.6" cy="74.7" rx="2.1" ry="2.75" fill="#fff" stroke="#111" stroke-width="1.3"/><ellipse cx="196.8" cy="107.8" rx="2.1" ry="2.75" fill="#fff" stroke="#111" stroke-width="1.3"/><text transform="matrix(0.7674 0.5512 0 1.0014 186.97 63.76)" font-size="10.6" font-weight="bold" fill="#1b1b9e" stroke="#1b1b9e" stroke-width="0.3">COM</text><text transform="matrix(0.8245 0.6988 0 1.0014 168.62 77.10)" font-size="10.6" font-weight="bold" fill="#1b1b9e" stroke="#1b1b9e" stroke-width="0.3">NC</text><text transform="matrix(0.8341 0.7121 0 1.0014 193.41 96.80)" font-size="10.6" font-weight="bold" fill="#1b1b9e" stroke="#1b1b9e" stroke-width="0.3">NO</text></g><g transform="translate(383.6 370.6)"><polygon points="152.6,10.7 211.6,63.3 211.6,135.5 152.6,83.2" fill="#f1f1f1" /><polygon points="47.0,122.0 277.3,122.0 375.0,210.0 145.3,210.0" fill="url(#gTop)" /><polygon points="47.0,122.0 190.0,122.0 258.0,210.0 145.3,210.0" fill="url(#gTopSea)" /><polygon points="47.0,122.0 145.3,210.0 145.3,312.8 47.0,223.6" fill="url(#gLeft)" /><polygon points="47.0,122.0 145.3,210.0 145.3,312.8 47.0,223.6" fill="url(#gLeftH)" /><polygon points="47.0,122.0 145.3,210.0 145.3,312.8 47.0,223.6" fill="#fff" filter="url(#caust)" mask="url(#mLow)" opacity="0.6"/><rect x="145.3" y="210" width="98.7" height="102.75" fill="url(#gInner)"/><rect x="145.3" y="210" width="98.7" height="102.75" fill="#fff" filter="url(#caust)" mask="url(#mLow)" opacity="0.6"/><rect x="244" y="210" width="131" height="102.75" fill="url(#gNaOH)"/><polygon points="187.5,126.2 199.1,126.2 291.2,209.6 291.2,308.9 279.6,308.9 187.5,225.5" fill="#77818f" /><polygon points="187.5,126.2 279.6,209.6 279.6,308.9 187.5,225.5" fill="#696b73" /><polygon points="187.5,126.2 199.1,126.2 291.2,209.6 279.6,209.6" fill="#8d8f97" /><polygon points="279.3,209.6 291.2,209.6 291.2,308.9 279.3,308.9" fill="#77818f" /><line x1="279.6" y1="210" x2="279.6" y2="309" stroke="#5c636e" stroke-width="0.6"/><polygon points="157.2,126.4 249.6,210.0 249.6,309.0 157.2,225.4" fill="#72ad43" /><polygon points="157.2,126.4 165.2,126.4 257.2,210.0 249.6,210.0" fill="#a0d468" /><polygon points="165.2,126.4 172.8,126.4 264.6,210.0 257.2,210.0" fill="#ffff33" /><rect x="249.6" y="210.0" width="7.6" height="99.0" fill="#92d050"/><rect x="257.2" y="210.0" width="7.4" height="99.0" fill="#ffff00"/><polygon points="180.8,171.6 192.8,171.6 235.3,210.1 235.3,309.1 223.3,309.1 180.8,270.6" fill="#1a252e" /><polygon points="180.8,171.6 223.3,210.1 223.3,309.1 180.8,270.6" fill="url(#gCathL)" /><polygon points="180.8,171.6 192.8,171.6 235.3,210.1 223.3,210.1" fill="#465962" /><polygon points="223.0,210.1 235.3,210.1 235.3,309.1 223.0,309.1" fill="#1a252e" /><polygon points="128.3,126.4 139.9,126.4 180.9,163.5 180.9,257.5 169.3,257.5 128.3,218.9" fill="#3b515b" /><polygon points="128.3,126.4 169.3,163.5 169.3,257.5 128.3,218.9" fill="#2d424b" /><polygon points="128.3,126.4 139.9,126.4 180.9,163.5 169.3,163.5" fill="#445a63" /><polygon points="169.0,163.5 180.9,163.5 180.9,257.5 169.0,257.5" fill="#3b515b" /><polygon points="145.7,216.7 148.1,225.1 143.1,228.4 140.6,220.0" fill="#c5d6de" stroke="#a9c0ca" stroke-width="0.3" opacity="0.95"/><line x1="140.6" y1="220.0" x2="143.1" y2="228.4" stroke="#9db5c0" stroke-width="0.7" opacity="0.76"/><polygon points="143.4,216.6 133.6,218.1 135.0,210.5 144.8,209.0" fill="#dbe5e9" stroke="#a9c0ca" stroke-width="0.3" opacity="0.95"/><line x1="144.8" y1="209.0" x2="135.0" y2="210.5" stroke="#9db5c0" stroke-width="0.7" opacity="0.76"/><polygon points="166.0,234.9 167.3,244.4 162.1,242.2 160.8,232.8" fill="#c5d6de" stroke="#a9c0ca" stroke-width="0.3" opacity="0.95"/><line x1="160.8" y1="232.8" x2="162.1" y2="242.2" stroke="#9db5c0" stroke-width="0.7" opacity="0.76"/><polygon points="152.7,222.2 150.7,230.0 145.9,226.4 147.8,218.7" fill="#d4e0e6" stroke="#a9c0ca" stroke-width="0.3" opacity="0.95"/><line x1="147.8" y1="218.7" x2="145.9" y2="226.4" stroke="#9db5c0" stroke-width="0.7" opacity="0.76"/><polygon points="159.2,219.2 163.9,225.9 161.3,230.1 156.5,223.4" fill="#d4e0e6" stroke="#a9c0ca" stroke-width="0.3" opacity="0.95"/><line x1="156.5" y1="223.4" x2="161.3" y2="230.1" stroke="#9db5c0" stroke-width="0.7" opacity="0.76"/><polygon points="152.4,240.8 162.5,242.2 161.9,247.3 151.8,246.0" fill="#d7e2e7" stroke="#a9c0ca" stroke-width="0.3" opacity="0.95"/><line x1="151.8" y1="246.0" x2="161.9" y2="247.3" stroke="#9db5c0" stroke-width="0.7" opacity="0.76"/><polygon points="152.1,234.2 161.4,236.3 159.4,243.6 150.1,241.5" fill="#d4e0e6" stroke="#a9c0ca" stroke-width="0.3" opacity="0.95"/><line x1="150.1" y1="241.5" x2="159.4" y2="243.6" stroke="#9db5c0" stroke-width="0.7" opacity="0.76"/><polygon points="145.7,216.7 140.5,222.3 134.3,220.0 139.5,214.4" fill="#bdd0d9" stroke="#a9c0ca" stroke-width="0.3" opacity="0.95"/><line x1="139.5" y1="214.4" x2="134.3" y2="220.0" stroke="#9db5c0" stroke-width="0.7" opacity="0.76"/><polygon points="134.1,194.4 142.7,197.3 141.1,204.7 132.5,201.8" fill="#bdd0d9" stroke="#a9c0ca" stroke-width="0.3" opacity="0.95"/><line x1="132.5" y1="201.8" x2="141.1" y2="204.7" stroke="#9db5c0" stroke-width="0.7" opacity="0.76"/><polygon points="149.9,206.0 151.6,213.5 146.6,217.5 144.9,210.0" fill="#bdd0d9" stroke="#a9c0ca" stroke-width="0.3" opacity="0.95"/><line x1="144.9" y1="210.0" x2="146.6" y2="217.5" stroke="#9db5c0" stroke-width="0.7" opacity="0.76"/><polygon points="140.1,214.2 141.7,221.8 137.9,224.6 136.3,216.9" fill="#e1e7ea" stroke="#a9c0ca" stroke-width="0.3" opacity="0.95"/><line x1="136.3" y1="216.9" x2="137.9" y2="224.6" stroke="#9db5c0" stroke-width="0.7" opacity="0.76"/><polygon points="137.1,214.6 140.9,222.8 134.6,222.9 130.8,214.8" fill="#ccdbe2" stroke="#a9c0ca" stroke-width="0.3" opacity="0.95"/><line x1="130.8" y1="214.8" x2="134.6" y2="222.9" stroke="#9db5c0" stroke-width="0.7" opacity="0.76"/><polygon points="138.7,216.1 143.2,222.1 138.7,223.8 134.2,217.7" fill="#d4e0e6" stroke="#a9c0ca" stroke-width="0.3" opacity="0.95"/><line x1="134.2" y1="217.7" x2="138.7" y2="223.8" stroke="#9db5c0" stroke-width="0.7" opacity="0.76"/><polygon points="158.6,230.2 165.2,235.2 161.6,240.0 155.1,235.0" fill="#ccdbe2" stroke="#a9c0ca" stroke-width="0.3" opacity="0.95"/><line x1="155.1" y1="235.0" x2="161.6" y2="240.0" stroke="#9db5c0" stroke-width="0.7" opacity="0.76"/><polygon points="203.1,274.7 195.4,281.6 189.0,278.9 196.7,272.0" fill="#c6d7df" stroke="#a9c0ca" stroke-width="0.3" opacity="0.95"/><line x1="196.7" y1="272.0" x2="189.0" y2="278.9" stroke="#9db5c0" stroke-width="0.7" opacity="0.76"/><polygon points="213.2,210.1 205.2,214.3 200.5,210.5 208.5,206.3" fill="#bed1da" stroke="#a9c0ca" stroke-width="0.3" opacity="0.95"/><line x1="208.5" y1="206.3" x2="200.5" y2="210.5" stroke="#9db5c0" stroke-width="0.7" opacity="0.76"/><polygon points="203.6,197.4 194.4,201.0 191.3,196.1 200.5,192.6" fill="#e3e8ec" stroke="#a9c0ca" stroke-width="0.3" opacity="0.95"/><line x1="200.5" y1="192.6" x2="191.3" y2="196.1" stroke="#9db5c0" stroke-width="0.7" opacity="0.76"/><polygon points="179.5,262.6 179.3,270.3 174.4,269.1 174.5,261.4" fill="#cedde3" stroke="#a9c0ca" stroke-width="0.3" opacity="0.95"/><line x1="174.5" y1="261.4" x2="174.4" y2="269.1" stroke="#9db5c0" stroke-width="0.7" opacity="0.76"/><polygon points="194.6,235.7 192.7,244.0 186.6,245.7 188.5,237.4" fill="#d9e4e9" stroke="#a9c0ca" stroke-width="0.3" opacity="0.95"/><line x1="188.5" y1="237.4" x2="186.6" y2="245.7" stroke="#9db5c0" stroke-width="0.7" opacity="0.76"/><polygon points="191.3,246.0 198.4,248.7 196.5,253.2 189.5,250.5" fill="#e3e8ec" stroke="#a9c0ca" stroke-width="0.3" opacity="0.95"/><line x1="189.5" y1="250.5" x2="196.5" y2="253.2" stroke="#9db5c0" stroke-width="0.7" opacity="0.76"/><polygon points="192.8,207.5 189.6,216.8 183.8,216.6 186.9,207.3" fill="#cedde3" stroke="#a9c0ca" stroke-width="0.3" opacity="0.95"/><line x1="186.9" y1="207.3" x2="183.8" y2="216.6" stroke="#9db5c0" stroke-width="0.7" opacity="0.76"/><polygon points="189.1,217.1 187.2,224.9 182.5,226.4 184.3,218.6" fill="#d9e4e9" stroke="#a9c0ca" stroke-width="0.3" opacity="0.95"/><line x1="184.3" y1="218.6" x2="182.5" y2="226.4" stroke="#9db5c0" stroke-width="0.7" opacity="0.76"/><polygon points="211.7,218.1 208.1,226.2 202.6,225.5 206.2,217.3" fill="#c6d7df" stroke="#a9c0ca" stroke-width="0.3" opacity="0.95"/><line x1="206.2" y1="217.3" x2="202.6" y2="225.5" stroke="#9db5c0" stroke-width="0.7" opacity="0.76"/><polygon points="210.4,262.5 209.7,271.4 203.4,269.2 204.1,260.2" fill="#d3e0e6" stroke="#a9c0ca" stroke-width="0.3" opacity="0.95"/><line x1="204.1" y1="260.2" x2="203.4" y2="269.2" stroke="#9db5c0" stroke-width="0.7" opacity="0.76"/><polygon points="216.6,246.9 222.7,253.0 217.5,254.8 211.4,248.6" fill="#d6e2e7" stroke="#a9c0ca" stroke-width="0.3" opacity="0.95"/><line x1="211.4" y1="248.6" x2="217.5" y2="254.8" stroke="#9db5c0" stroke-width="0.7" opacity="0.76"/><polygon points="190.3,216.5 185.7,223.1 182.0,219.4 186.5,212.8" fill="#c6d7df" stroke="#a9c0ca" stroke-width="0.3" opacity="0.95"/><line x1="186.5" y1="212.8" x2="182.0" y2="219.4" stroke="#9db5c0" stroke-width="0.7" opacity="0.76"/><polygon points="189.7,184.5 195.3,189.8 191.1,193.5 185.4,188.2" fill="#c6d7df" stroke="#a9c0ca" stroke-width="0.3" opacity="0.95"/><line x1="185.4" y1="188.2" x2="191.1" y2="193.5" stroke="#9db5c0" stroke-width="0.7" opacity="0.76"/><polygon points="215.4,246.3 218.3,255.9 211.8,254.4 209.0,244.9" fill="#d6e2e7" stroke="#a9c0ca" stroke-width="0.3" opacity="0.95"/><line x1="209.0" y1="244.9" x2="211.8" y2="254.4" stroke="#9db5c0" stroke-width="0.7" opacity="0.76"/><polygon points="207.0,201.5 210.5,209.2 207.2,213.5 203.7,205.8" fill="#bed1da" stroke="#a9c0ca" stroke-width="0.3" opacity="0.95"/><line x1="203.7" y1="205.8" x2="207.2" y2="213.5" stroke="#9db5c0" stroke-width="0.7" opacity="0.76"/><polygon points="211.7,291.9 217.7,297.2 210.2,299.6 204.2,294.2" fill="#cedde3" stroke="#a9c0ca" stroke-width="0.3" opacity="0.95"/><line x1="204.2" y1="294.2" x2="210.2" y2="299.6" stroke="#9db5c0" stroke-width="0.7" opacity="0.76"/><polygon points="210.4,213.9 209.9,222.5 204.0,218.9 204.6,210.3" fill="#e3e8ec" stroke="#a9c0ca" stroke-width="0.3" opacity="0.95"/><line x1="204.6" y1="210.3" x2="204.0" y2="218.9" stroke="#9db5c0" stroke-width="0.7" opacity="0.76"/><polygon points="219.0,247.0 211.8,250.5 209.2,245.9 216.4,242.3" fill="#d3e0e6" stroke="#a9c0ca" stroke-width="0.3" opacity="0.95"/><line x1="216.4" y1="242.3" x2="209.2" y2="245.9" stroke="#9db5c0" stroke-width="0.7" opacity="0.76"/><polygon points="185.5,196.6 189.2,203.1 184.7,207.6 181.0,201.1" fill="#dde6ea" stroke="#a9c0ca" stroke-width="0.3" opacity="0.95"/><line x1="181.0" y1="201.1" x2="184.7" y2="207.6" stroke="#9db5c0" stroke-width="0.7" opacity="0.76"/><polygon points="199.4,265.5 192.1,267.7 192.3,262.4 199.5,260.2" fill="#d6e2e7" stroke="#a9c0ca" stroke-width="0.3" opacity="0.95"/><line x1="199.5" y1="260.2" x2="192.3" y2="262.4" stroke="#9db5c0" stroke-width="0.7" opacity="0.76"/><polygon points="214.1,300.9 205.5,303.0 206.7,295.5 215.3,293.4" fill="#dde6ea" stroke="#a9c0ca" stroke-width="0.3" opacity="0.95"/><line x1="215.3" y1="293.4" x2="206.7" y2="295.5" stroke="#9db5c0" stroke-width="0.7" opacity="0.76"/><polygon points="207.0,226.8 213.4,231.1 211.2,236.0 204.8,231.7" fill="#c6d7df" stroke="#a9c0ca" stroke-width="0.3" opacity="0.95"/><line x1="204.8" y1="231.7" x2="211.2" y2="236.0" stroke="#9db5c0" stroke-width="0.7" opacity="0.76"/><polygon points="223.7,251.1 213.6,254.0 208.5,248.4 218.6,245.5" fill="#d9e4e9" stroke="#a9c0ca" stroke-width="0.3" opacity="0.95"/><line x1="218.6" y1="245.5" x2="208.5" y2="248.4" stroke="#9db5c0" stroke-width="0.7" opacity="0.76"/><polygon points="207.8,269.5 212.7,277.5 206.1,281.1 201.2,273.1" fill="#cedde3" stroke="#a9c0ca" stroke-width="0.3" opacity="0.95"/><line x1="201.2" y1="273.1" x2="206.1" y2="281.1" stroke="#9db5c0" stroke-width="0.7" opacity="0.76"/><polygon points="181.7,235.1 187.6,241.0 183.7,243.5 177.8,237.6" fill="#c6d7df" stroke="#a9c0ca" stroke-width="0.3" opacity="0.95"/><line x1="177.8" y1="237.6" x2="183.7" y2="243.5" stroke="#9db5c0" stroke-width="0.7" opacity="0.76"/><polygon points="198.9,191.6 196.9,200.3 189.4,199.2 191.4,190.4" fill="#d6e2e7" stroke="#a9c0ca" stroke-width="0.3" opacity="0.95"/><line x1="191.4" y1="190.4" x2="189.4" y2="199.2" stroke="#9db5c0" stroke-width="0.7" opacity="0.76"/><polygon points="194.3,221.6 202.3,225.8 198.4,231.6 190.4,227.4" fill="#cedde3" stroke="#a9c0ca" stroke-width="0.3" opacity="0.95"/><line x1="190.4" y1="227.4" x2="198.4" y2="231.6" stroke="#9db5c0" stroke-width="0.7" opacity="0.76"/><polygon points="222.7,240.8 212.8,242.9 209.2,237.5 219.1,235.4" fill="#e3e8ec" stroke="#a9c0ca" stroke-width="0.3" opacity="0.95"/><line x1="219.1" y1="235.4" x2="209.2" y2="237.5" stroke="#9db5c0" stroke-width="0.7" opacity="0.76"/><polygon points="210.7,271.8 204.3,277.9 199.6,274.9 206.0,268.9" fill="#cedde3" stroke="#a9c0ca" stroke-width="0.3" opacity="0.95"/><line x1="206.0" y1="268.9" x2="199.6" y2="274.9" stroke="#9db5c0" stroke-width="0.7" opacity="0.76"/><polygon points="178.7,206.3 186.2,209.3 186.6,213.8 179.1,210.8" fill="#bed1da" stroke="#a9c0ca" stroke-width="0.3" opacity="0.95"/><line x1="179.1" y1="210.8" x2="186.6" y2="213.8" stroke="#9db5c0" stroke-width="0.7" opacity="0.76"/><polygon points="194.9,204.4 199.6,210.5 196.6,214.1 191.8,208.0" fill="#d3e0e6" stroke="#a9c0ca" stroke-width="0.3" opacity="0.95"/><line x1="191.8" y1="208.0" x2="196.6" y2="214.1" stroke="#9db5c0" stroke-width="0.7" opacity="0.76"/><polygon points="222.4,271.4 214.3,273.5 212.1,267.0 220.3,265.0" fill="#cedde3" stroke="#a9c0ca" stroke-width="0.3" opacity="0.95"/><line x1="220.3" y1="265.0" x2="212.1" y2="267.0" stroke="#9db5c0" stroke-width="0.7" opacity="0.76"/><polygon points="223.9,272.1 214.0,275.4 209.2,269.1 219.1,265.8" fill="#e3e8ec" stroke="#a9c0ca" stroke-width="0.3" opacity="0.95"/><line x1="219.1" y1="265.8" x2="209.2" y2="269.1" stroke="#9db5c0" stroke-width="0.7" opacity="0.76"/><polygon points="210.2,277.4 218.7,279.5 215.1,284.0 206.6,281.9" fill="#e3e8ec" stroke="#a9c0ca" stroke-width="0.3" opacity="0.95"/><line x1="206.6" y1="281.9" x2="215.1" y2="284.0" stroke="#9db5c0" stroke-width="0.7" opacity="0.76"/><polygon points="202.9,220.2 199.7,229.1 195.0,224.3 198.2,215.4" fill="#d3e0e6" stroke="#a9c0ca" stroke-width="0.3" opacity="0.95"/><line x1="198.2" y1="215.4" x2="195.0" y2="224.3" stroke="#9db5c0" stroke-width="0.7" opacity="0.76"/><polygon points="216.3,264.9 219.7,272.3 216.1,275.6 212.7,268.2" fill="#e3e8ec" stroke="#a9c0ca" stroke-width="0.3" opacity="0.95"/><line x1="212.7" y1="268.2" x2="216.1" y2="275.6" stroke="#9db5c0" stroke-width="0.7" opacity="0.76"/><polygon points="205.7,224.3 200.0,231.1 197.1,226.8 202.8,220.0" fill="#d3e0e6" stroke="#a9c0ca" stroke-width="0.3" opacity="0.95"/><line x1="202.8" y1="220.0" x2="197.1" y2="226.8" stroke="#9db5c0" stroke-width="0.7" opacity="0.76"/><polygon points="183.4,226.5 186.7,234.5 181.2,238.2 178.0,230.1" fill="#e3e8ec" stroke="#a9c0ca" stroke-width="0.3" opacity="0.95"/><line x1="178.0" y1="230.1" x2="181.2" y2="238.2" stroke="#9db5c0" stroke-width="0.7" opacity="0.76"/><polygon points="185.4,202.3 193.0,204.7 193.7,209.1 186.0,206.7" fill="#d3e0e6" stroke="#a9c0ca" stroke-width="0.3" opacity="0.95"/><line x1="186.0" y1="206.7" x2="193.7" y2="209.1" stroke="#9db5c0" stroke-width="0.7" opacity="0.76"/><polygon points="189.2,195.2 182.0,198.7 178.2,195.7 185.4,192.2" fill="#dde6ea" stroke="#a9c0ca" stroke-width="0.3" opacity="0.95"/><line x1="185.4" y1="192.2" x2="178.2" y2="195.7" stroke="#9db5c0" stroke-width="0.7" opacity="0.76"/><polygon points="186.3,249.5 189.4,257.2 184.1,257.5 181.0,249.8" fill="#dde6ea" stroke="#a9c0ca" stroke-width="0.3" opacity="0.95"/><line x1="181.0" y1="249.8" x2="184.1" y2="257.5" stroke="#9db5c0" stroke-width="0.7" opacity="0.76"/><polygon points="200.7,287.6 197.3,296.6 192.6,292.8 196.0,283.8" fill="#e3e8ec" stroke="#a9c0ca" stroke-width="0.3" opacity="0.95"/><line x1="196.0" y1="283.8" x2="192.6" y2="292.8" stroke="#9db5c0" stroke-width="0.7" opacity="0.76"/><polygon points="199.7,222.4 189.9,223.1 188.3,216.6 198.0,215.9" fill="#d6e2e7" stroke="#a9c0ca" stroke-width="0.3" opacity="0.95"/><line x1="198.0" y1="215.9" x2="188.3" y2="216.6" stroke="#9db5c0" stroke-width="0.7" opacity="0.76"/><polygon points="206.2,278.7 213.8,280.6 211.4,285.7 203.8,283.7" fill="#d6e2e7" stroke="#a9c0ca" stroke-width="0.3" opacity="0.95"/><line x1="203.8" y1="283.7" x2="211.4" y2="285.7" stroke="#9db5c0" stroke-width="0.7" opacity="0.76"/><polygon points="197.1,257.1 192.3,264.9 189.1,258.7 194.0,250.9" fill="#dde6ea" stroke="#a9c0ca" stroke-width="0.3" opacity="0.95"/><line x1="194.0" y1="250.9" x2="189.1" y2="258.7" stroke="#9db5c0" stroke-width="0.7" opacity="0.76"/><polygon points="193.7,211.2 198.5,219.3 194.0,222.9 189.2,214.8" fill="#d6e2e7" stroke="#a9c0ca" stroke-width="0.3" opacity="0.95"/><line x1="189.2" y1="214.8" x2="194.0" y2="222.9" stroke="#9db5c0" stroke-width="0.7" opacity="0.76"/><polygon points="205.7,192.6 200.0,198.8 197.2,192.3 202.9,186.1" fill="#dde6ea" stroke="#a9c0ca" stroke-width="0.3" opacity="0.95"/><line x1="202.9" y1="186.1" x2="197.2" y2="192.3" stroke="#9db5c0" stroke-width="0.7" opacity="0.76"/><polygon points="180.1,257.5 174.7,263.8 170.8,257.7 176.3,251.3" fill="#cedde3" stroke="#a9c0ca" stroke-width="0.3" opacity="0.95"/><line x1="176.3" y1="251.3" x2="170.8" y2="257.7" stroke="#9db5c0" stroke-width="0.7" opacity="0.76"/><polygon points="217.1,245.0 219.1,252.8 214.0,252.3 211.9,244.5" fill="#bed1da" stroke="#a9c0ca" stroke-width="0.3" opacity="0.95"/><line x1="211.9" y1="244.5" x2="214.0" y2="252.3" stroke="#9db5c0" stroke-width="0.7" opacity="0.76"/><polygon points="199.1,225.7 196.7,235.3 189.9,232.7 192.2,223.1" fill="#bed1da" stroke="#a9c0ca" stroke-width="0.3" opacity="0.95"/><line x1="192.2" y1="223.1" x2="189.9" y2="232.7" stroke="#9db5c0" stroke-width="0.7" opacity="0.76"/><rect x="156.4" y="259.1" width="6.0" height="1.6" rx="0.8" fill="#a8bac2" opacity="0.55" transform="rotate(-20 159.4 259.9)"/><rect x="201.4" y="283.6" width="4.7" height="1.6" rx="0.8" fill="#55666f" opacity="0.55" transform="rotate(-44 203.7 284.4)"/><rect x="172.9" y="259.3" width="6.7" height="1.6" rx="0.8" fill="#a8bac2" opacity="0.55" transform="rotate(10 176.3 260.1)"/><rect x="149.1" y="263.2" width="4.0" height="1.6" rx="0.8" fill="#8b9da6" opacity="0.55" transform="rotate(18 151.1 264.0)"/><rect x="187.3" y="267.4" width="5.4" height="1.6" rx="0.8" fill="#55666f" opacity="0.55" transform="rotate(-14 190.0 268.2)"/><rect x="191.2" y="275.2" width="5.2" height="1.6" rx="0.8" fill="#a8bac2" opacity="0.55" transform="rotate(-51 193.8 276.0)"/><rect x="172.8" y="271.2" width="6.0" height="1.6" rx="0.8" fill="#8b9da6" opacity="0.55" transform="rotate(4 175.8 272.0)"/><rect x="168.1" y="274.1" width="7.6" height="1.6" rx="0.8" fill="#55666f" opacity="0.55" transform="rotate(-44 171.9 274.9)"/><rect x="169.8" y="264.8" width="7.2" height="1.6" rx="0.8" fill="#e8f3f6" opacity="0.55" transform="rotate(6 173.4 265.6)"/><rect x="165.9" y="270.9" width="5.9" height="1.6" rx="0.8" fill="#8b9da6" opacity="0.55" transform="rotate(-21 168.9 271.7)"/><rect x="179.0" y="272.9" width="4.8" height="1.6" rx="0.8" fill="#a8bac2" opacity="0.55" transform="rotate(13 181.4 273.7)"/><rect x="188.1" y="283.9" width="6.7" height="1.6" rx="0.8" fill="#8b9da6" opacity="0.55" transform="rotate(-18 191.5 284.7)"/><rect x="187.9" y="285.1" width="4.3" height="1.6" rx="0.8" fill="#a8bac2" opacity="0.55" transform="rotate(-28 190.1 285.9)"/><rect x="146.2" y="267.8" width="5.1" height="1.6" rx="0.8" fill="#55666f" opacity="0.55" transform="rotate(-28 148.7 268.6)"/><rect x="142.4" y="264.7" width="7.4" height="1.6" rx="0.8" fill="#8b9da6" opacity="0.55" transform="rotate(-36 146.0 265.5)"/><rect x="162.6" y="279.1" width="7.5" height="1.6" rx="0.8" fill="#a8bac2" opacity="0.55" transform="rotate(12 166.4 279.9)"/><rect x="142.7" y="257.7" width="7.0" height="1.6" rx="0.8" fill="#a8bac2" opacity="0.55" transform="rotate(-8 146.2 258.5)"/><rect x="191.9" y="273.1" width="4.0" height="1.6" rx="0.8" fill="#55666f" opacity="0.55" transform="rotate(-11 193.9 273.9)"/><rect x="162.3" y="267.4" width="6.4" height="1.6" rx="0.8" fill="#a8bac2" opacity="0.55" transform="rotate(-22 165.5 268.2)"/><rect x="191.0" y="284.8" width="7.2" height="1.6" rx="0.8" fill="#8b9da6" opacity="0.55" transform="rotate(-42 194.5 285.6)"/><rect x="200.4" y="280.4" width="5.2" height="1.6" rx="0.8" fill="#6d7f88" opacity="0.55" transform="rotate(-55 203.0 281.2)"/><rect x="197.6" y="281.5" width="6.9" height="1.6" rx="0.8" fill="#e8f3f6" opacity="0.55" transform="rotate(18 201.1 282.3)"/><rect x="142.7" y="259.7" width="7.8" height="1.6" rx="0.8" fill="#e8f3f6" opacity="0.55" transform="rotate(-47 146.6 260.5)"/><rect x="182.6" y="283.1" width="4.5" height="1.6" rx="0.8" fill="#e8f3f6" opacity="0.55" transform="rotate(-36 184.9 283.9)"/><rect x="160.0" y="265.5" width="4.4" height="1.6" rx="0.8" fill="#55666f" opacity="0.55" transform="rotate(-39 162.2 266.3)"/><rect x="183.5" y="267.1" width="5.6" height="1.6" rx="0.8" fill="#e8f3f6" opacity="0.55" transform="rotate(-19 186.4 267.9)"/><rect x="198.7" y="283.3" width="4.2" height="1.6" rx="0.8" fill="#55666f" opacity="0.55" transform="rotate(-39 200.8 284.1)"/><rect x="139.5" y="262.6" width="5.5" height="1.6" rx="0.8" fill="#a8bac2" opacity="0.55" transform="rotate(-4 142.3 263.4)"/><rect x="155.3" y="278.6" width="7.1" height="1.6" rx="0.8" fill="#a8bac2" opacity="0.55" transform="rotate(-15 158.9 279.4)"/><rect x="169.7" y="254.7" width="6.8" height="1.6" rx="0.8" fill="#55666f" opacity="0.55" transform="rotate(10 173.1 255.5)"/><rect x="139.5" y="265.7" width="6.2" height="1.6" rx="0.8" fill="#e8f3f6" opacity="0.55" transform="rotate(-9 142.5 266.5)"/><rect x="187.2" y="271.5" width="5.5" height="1.6" rx="0.8" fill="#55666f" opacity="0.55" transform="rotate(-28 190.0 272.3)"/><rect x="164.6" y="252.0" width="6.6" height="1.6" rx="0.8" fill="#8b9da6" opacity="0.55" transform="rotate(15 167.9 252.8)"/><rect x="159.5" y="253.8" width="4.1" height="1.6" rx="0.8" fill="#e8f3f6" opacity="0.55" transform="rotate(-43 161.6 254.6)"/><rect x="133.8" y="256.4" width="6.9" height="1.6" rx="0.8" fill="#6d7f88" opacity="0.55" transform="rotate(-24 137.3 257.2)"/><rect x="169.4" y="278.2" width="7.0" height="1.6" rx="0.8" fill="#a8bac2" opacity="0.55" transform="rotate(-47 172.9 279.0)"/><rect x="143.1" y="271.2" width="5.0" height="1.6" rx="0.8" fill="#6d7f88" opacity="0.55" transform="rotate(-38 145.6 272.0)"/><rect x="170.1" y="279.4" width="5.4" height="1.6" rx="0.8" fill="#a8bac2" opacity="0.55" transform="rotate(-56 172.8 280.2)"/><rect x="194.5" y="274.0" width="4.9" height="1.6" rx="0.8" fill="#55666f" opacity="0.55" transform="rotate(-47 196.9 274.8)"/><rect x="161.1" y="284.3" width="7.5" height="1.6" rx="0.8" fill="#e8f3f6" opacity="0.55" transform="rotate(-58 164.8 285.1)"/><rect x="176.3" y="269.6" width="6.9" height="1.6" rx="0.8" fill="#a8bac2" opacity="0.55" transform="rotate(7 179.8 270.4)"/><rect x="156.0" y="261.7" width="5.2" height="1.6" rx="0.8" fill="#55666f" opacity="0.55" transform="rotate(-44 158.6 262.5)"/><rect x="184.4" y="279.1" width="6.2" height="1.6" rx="0.8" fill="#55666f" opacity="0.55" transform="rotate(-39 187.5 279.9)"/><rect x="184.5" y="275.9" width="7.7" height="1.6" rx="0.8" fill="#6d7f88" opacity="0.55" transform="rotate(-48 188.4 276.7)"/><rect x="157.0" y="268.4" width="4.8" height="1.6" rx="0.8" fill="#8b9da6" opacity="0.55" transform="rotate(14 159.4 269.2)"/><rect x="189.8" y="289.0" width="6.5" height="1.6" rx="0.8" fill="#8b9da6" opacity="0.55" transform="rotate(-32 193.0 289.8)"/><rect x="156.2" y="257.2" width="5.0" height="1.6" rx="0.8" fill="#8b9da6" opacity="0.55" transform="rotate(3 158.7 258.0)"/><rect x="157.1" y="278.8" width="5.3" height="1.6" rx="0.8" fill="#e8f3f6" opacity="0.55" transform="rotate(-13 159.7 279.6)"/><rect x="149.5" y="270.1" width="5.7" height="1.6" rx="0.8" fill="#e8f3f6" opacity="0.55" transform="rotate(-31 152.4 270.9)"/><rect x="147.6" y="265.6" width="5.9" height="1.6" rx="0.8" fill="#a8bac2" opacity="0.55" transform="rotate(5 150.5 266.4)"/><rect x="143.5" y="263.5" width="5.5" height="1.6" rx="0.8" fill="#55666f" opacity="0.55" transform="rotate(16 146.3 264.3)"/><rect x="146.1" y="274.0" width="6.8" height="1.6" rx="0.8" fill="#8b9da6" opacity="0.55" transform="rotate(20 149.5 274.8)"/><rect x="185.5" y="278.2" width="6.9" height="1.6" rx="0.8" fill="#e8f3f6" opacity="0.55" transform="rotate(-56 189.0 279.0)"/><rect x="185.2" y="284.4" width="7.4" height="1.6" rx="0.8" fill="#e8f3f6" opacity="0.55" transform="rotate(-54 188.9 285.2)"/><rect x="200.3" y="278.2" width="7.2" height="1.6" rx="0.8" fill="#e8f3f6" opacity="0.55" transform="rotate(-16 203.9 279.0)"/><rect x="235.3" y="210" width="8.7" height="99" fill="#2f4a3a" opacity="0.38"/><rect x="145.3" y="210" width="98.7" height="102.75" fill="url(#gFront)"/><rect x="145.3" y="210" width="98.7" height="102.75" fill="#fff" filter="url(#caust)" mask="url(#mLow)" opacity="0.16"/><text transform="matrix(0 0.9978 -0.9993 0 170.82 185.57)" font-size="12.4" font-weight="normal" fill="#f2f6f7" fill-opacity="0.93" stroke="#f2f6f7" stroke-width="0.4" stroke-opacity="0.8">Cathode</text><text transform="matrix(0 0.9612 -0.9964 0 225.02 232.72)" font-size="12.3" font-weight="bold" fill="#ffffff" >Cathode</text><text transform="matrix(0 0.9060 -0.9986 0 281.13 239.58)" font-size="13.5" font-weight="normal" fill="#0f1318" stroke="#0f1318" stroke-width="0.3">Anode</text><text transform="matrix(1.1992 0 0 1.0033 238.39 206.70)" font-size="11.3" font-weight="bold" fill="#0a0a0a" >BPM</text><text transform="matrix(0 0.7689 -0.9984 0 257.20 239.11)" font-size="9.9" font-weight="bold" fill="#3d3d00" >AEL</text><text transform="matrix(0 0.8211 -1.0005 0 249.29 262.08)" font-size="9.6" font-weight="bold" fill="#223811" >CEL</text><text transform="matrix(1.1204 0 0 1.0039 295.57 305.78)" font-size="12.1" font-weight="normal" fill="#0b0b0b" stroke="#0b0b0b" stroke-width="0.45">0.5 M NaOH</text><path d="M376.4 134.3 L401.6 166.2 L384.5 166.2 L384.5 195 A47.5 47.2 0 0 1 337 242.2 L297.2 242.2 L297.2 227.7 L337 227.7 A32.5 32.7 0 0 0 369.5 195 L369.5 166.2 L351.2 166.2 Z" fill="#ffffff" fill-opacity="0.18" stroke="#2a2a2a" stroke-width="0.9" stroke-linejoin="miter"/><path d="M376.4 134.3 L401.6 166.2 L351.2 166.2 Z" fill="#fff" stroke="#2a2a2a" stroke-width="0.9"/><rect x="370" y="165" width="14" height="3" fill="#fff"/><text transform="matrix(1.1267 0 0 1.0008 366.09 159.93)" font-size="17.5" font-weight="bold" fill="#0c0c0c" >O</text><text transform="matrix(1.0189 0 0 0.9998 381.53 164.10)" font-size="10.6" font-weight="bold" fill="#0c0c0c" >2</text><path d="M70.2 86.8 L94.2 116.6 L77.9 116.6 L77.9 153.5 A25.0 25.0 0 0 0 102.9 178.5 L149.2 178.5 L149.2 193.1 L102.9 193.1 A40.4 39.6 0 0 1 62.5 153.5 L62.5 116.6 L46.2 116.6 Z" fill="#0808f3" fill-opacity="0.67" stroke="#ffffff" stroke-opacity="0.8" stroke-width="1"/><text transform="matrix(1.1111 0 0 1.0003 60.27 111.15)" font-size="18.6" font-weight="bold" fill="#fff" >H</text><text transform="matrix(1.2611 0 0 0.9974 74.31 114.75)" font-size="11.2" font-weight="bold" fill="#fff" >2</text><polygon points="152.6,10.7 211.6,63.3 211.6,135.5 152.6,83.2" fill="none" stroke="#1da6e2" stroke-width="1.7" stroke-linejoin="miter"/><path d="M181.5 52 L181.5 18.6 L209 18.6 M217.5 18.6 L243 18.6 L243 170" stroke="#111" stroke-width="1.7" fill="none"/><path d="M209 9.4 L209 28.2 M217.5 3 L217.5 34.4" stroke="#111" stroke-width="1.8"/><path d="M162.3 77 L162.3 151.6 M196.6 110 L196.6 178.6" stroke="#111" stroke-width="1.7" fill="none"/><path d="M180 56.5 L164 72.5" stroke="#111" stroke-width="1.7" fill="none"/><ellipse cx="181.5" cy="54.3" rx="2.1" ry="2.75" fill="#fff" stroke="#111" stroke-width="1.3"/><ellipse cx="162.6" cy="74.7" rx="2.1" ry="2.75" fill="#fff" stroke="#111" stroke-width="1.3"/><ellipse cx="196.8" cy="107.8" rx="2.1" ry="2.75" fill="#fff" stroke="#111" stroke-width="1.3"/><text transform="matrix(0.7674 0.5512 0 1.0014 186.97 63.76)" font-size="10.6" font-weight="bold" fill="#1b1b9e" stroke="#1b1b9e" stroke-width="0.3">COM</text><text transform="matrix(0.8245 0.6988 0 1.0014 168.62 77.10)" font-size="10.6" font-weight="bold" fill="#1b1b9e" stroke="#1b1b9e" stroke-width="0.3">NC</text><text transform="matrix(0.8341 0.7121 0 1.0014 193.41 96.80)" font-size="10.6" font-weight="bold" fill="#1b1b9e" stroke="#1b1b9e" stroke-width="0.3">NO</text></g><text transform="matrix(1.2188 0 0 0.9976 14.30 21.90)" font-size="18.2" font-weight="bold" fill="#000" >(1)</text><text transform="matrix(1.1438 0 0 0.9976 52.38 21.90)" font-size="18.2" font-weight="bold" fill="#000" >0</text><text transform="matrix(1.1925 0 0 0.9976 69.44 21.90)" font-size="18.2" font-weight="bold" fill="#000" >~</text><text transform="matrix(1.0665 0 0 0.9976 87.91 21.90)" font-size="18.2" font-weight="bold" fill="#000" >48</text><text transform="matrix(1.2274 0 0 0.9976 115.84 21.90)" font-size="18.2" font-weight="bold" fill="#000" >h</text><text transform="matrix(1.1796 0 0 0.9976 397.93 21.90)" font-size="18.2" font-weight="bold" fill="#000" >(2)</text><text transform="matrix(1.1284 0 0 0.9976 436.29 21.90)" font-size="18.2" font-weight="bold" fill="#000" >48</text><text transform="matrix(1.1700 0 0 0.9976 464.51 21.90)" font-size="18.2" font-weight="bold" fill="#000" >h</text><text transform="matrix(1.2787 0 0 1.0004 14.32 392.75)" font-size="17.8" font-weight="bold" fill="#000" >(3)</text><text transform="matrix(1.1063 0 0 1.0004 52.40 392.75)" font-size="17.8" font-weight="bold" fill="#000" >48</text><text transform="matrix(1.2415 0 0 1.0004 81.43 392.75)" font-size="17.8" font-weight="bold" fill="#000" >~</text><text transform="matrix(1.1112 0 0 1.0004 100.51 392.75)" font-size="17.8" font-weight="bold" fill="#000" >96</text><text transform="matrix(1.2901 0 0 1.0004 127.60 392.75)" font-size="17.8" font-weight="bold" fill="#000" >h</text><text transform="matrix(1.1911 0 0 1.0004 397.94 392.75)" font-size="17.8" font-weight="bold" fill="#000" >(2)</text><text transform="matrix(1.1328 0 0 1.0004 436.50 392.75)" font-size="17.8" font-weight="bold" fill="#000" >96</text><text transform="matrix(1.3253 0 0 1.0004 463.55 392.75)" font-size="17.8" font-weight="bold" fill="#000" >h</text><g font-family="'Liberation Sans', 'Noto Sans CJK KR', sans-serif" font-style="italic"><text x="95.31" y="238.83" font-size="11.4" textLength="25.36" lengthAdjust="spacingAndGlyphs" fill="#cc1a22" stroke="#cc1a22" stroke-width="0.3">성장</text><text x="103.03" y="331.03" font-size="12.6" textLength="25.96" lengthAdjust="spacingAndGlyphs" fill="#1616ee" stroke="#1616ee" stroke-width="0.2">해수</text><text x="132.80" y="331.03" font-size="12.6" textLength="38.73" lengthAdjust="spacingAndGlyphs" fill="#1616ee" stroke="#1616ee" stroke-width="0.2">산성화</text><text x="179.62" y="331.03" font-size="12.6" textLength="22.71" lengthAdjust="spacingAndGlyphs" fill="#1616ee" stroke="#1616ee" stroke-width="0.2">(pH</text><text x="208.26" y="331.03" font-size="12.6" textLength="6.81" lengthAdjust="spacingAndGlyphs" fill="#1616ee" stroke="#1616ee" stroke-width="0.2">8</text><text x="221.03" y="331.03" font-size="12.6" textLength="26.84" lengthAdjust="spacingAndGlyphs" fill="#1616ee" stroke="#1616ee" stroke-width="0.2">→3)</text><text x="422.90" y="46.12" font-size="10.5" textLength="15.96" lengthAdjust="spacingAndGlyphs" fill="#1e1e8c" stroke="#1e1e8c" stroke-width="0.3">48</text><text x="445.79" y="46.12" font-size="10.5" textLength="23.61" lengthAdjust="spacingAndGlyphs" fill="#1e1e8c" stroke="#1e1e8c" stroke-width="0.3">시간</text><text x="476.33" y="46.12" font-size="10.5" textLength="25.68" lengthAdjust="spacingAndGlyphs" fill="#1e1e8c" stroke="#1e1e8c" stroke-width="0.3">마다</text><text x="403.83" y="62.47" font-size="12.2" textLength="25.18" lengthAdjust="spacingAndGlyphs" fill="#1e1e8c" stroke="#1e1e8c" stroke-width="0.3">환원</text><text x="435.21" y="62.47" font-size="12.2" textLength="23.57" lengthAdjust="spacingAndGlyphs" fill="#1e1e8c" stroke="#1e1e8c" stroke-width="0.3">전극</text><text x="464.99" y="62.47" font-size="12.2" textLength="23.75" lengthAdjust="spacingAndGlyphs" fill="#1e1e8c" stroke="#1e1e8c" stroke-width="0.3">교대</text><text x="495.58" y="62.47" font-size="12.2" textLength="26.63" lengthAdjust="spacingAndGlyphs" fill="#1e1e8c" stroke="#1e1e8c" stroke-width="0.3">운전</text><text x="479.37" y="230.27" font-size="12.2" textLength="25.37" lengthAdjust="spacingAndGlyphs" fill="#a44b1c" stroke="#a44b1c" stroke-width="0.3">용해</text><text x="532.31" y="288.70" font-size="12.9" textLength="26.36" lengthAdjust="spacingAndGlyphs" fill="#cc1a22" stroke="#cc1a22" stroke-width="0.3">성장</text><text x="500.80" y="331.90" font-size="12.9" textLength="47.81" lengthAdjust="spacingAndGlyphs" fill="#1616ee" stroke="#1616ee" stroke-width="0.2">산성화된</text><text x="557.02" y="331.90" font-size="12.9" textLength="24.16" lengthAdjust="spacingAndGlyphs" fill="#1616ee" stroke="#1616ee" stroke-width="0.2">해수</text><text x="586.02" y="331.90" font-size="12.9" textLength="22.21" lengthAdjust="spacingAndGlyphs" fill="#1616ee" stroke="#1616ee" stroke-width="0.2">(pH</text><text x="614.40" y="331.90" font-size="12.9" textLength="12.78" lengthAdjust="spacingAndGlyphs" fill="#1616ee" stroke="#1616ee" stroke-width="0.2">3)</text><text x="148.62" y="658.06" font-size="11.1" textLength="23.37" lengthAdjust="spacingAndGlyphs" fill="#cc1a22" stroke="#cc1a22" stroke-width="0.3">성장</text><text x="111.00" y="702.52" font-size="12.7" textLength="47.51" lengthAdjust="spacingAndGlyphs" fill="#1616ee" stroke="#1616ee" stroke-width="0.2">산성화된</text><text x="167.02" y="702.52" font-size="12.7" textLength="23.96" lengthAdjust="spacingAndGlyphs" fill="#1616ee" stroke="#1616ee" stroke-width="0.2">해수</text><text x="195.92" y="702.52" font-size="12.7" textLength="22.11" lengthAdjust="spacingAndGlyphs" fill="#1616ee" stroke="#1616ee" stroke-width="0.2">(pH</text><text x="224.30" y="702.52" font-size="12.7" textLength="12.78" lengthAdjust="spacingAndGlyphs" fill="#1616ee" stroke="#1616ee" stroke-width="0.2">3)</text><text x="481.71" y="611.41" font-size="11.6" textLength="26.36" lengthAdjust="spacingAndGlyphs" fill="#cc1a22" stroke="#cc1a22" stroke-width="0.3">성장</text><text x="537.87" y="654.20" font-size="11.7" textLength="25.37" lengthAdjust="spacingAndGlyphs" fill="#a44b1c" stroke="#a44b1c" stroke-width="0.3">용해</text><text x="490.70" y="702.43" font-size="12.6" textLength="48.91" lengthAdjust="spacingAndGlyphs" fill="#1616ee" stroke="#1616ee" stroke-width="0.2">산성화된</text><text x="546.93" y="702.43" font-size="12.6" textLength="25.26" lengthAdjust="spacingAndGlyphs" fill="#1616ee" stroke="#1616ee" stroke-width="0.2">해수</text><text x="577.42" y="702.43" font-size="12.6" textLength="22.91" lengthAdjust="spacingAndGlyphs" fill="#1616ee" stroke="#1616ee" stroke-width="0.2">(pH</text><text x="605.40" y="702.43" font-size="12.6" textLength="12.78" lengthAdjust="spacingAndGlyphs" fill="#1616ee" stroke="#1616ee" stroke-width="0.2">3)</text><text x="424.70" y="412.95" font-size="11.2" textLength="15.86" lengthAdjust="spacingAndGlyphs" fill="#1e1e8c" stroke="#1e1e8c" stroke-width="0.3">48</text><text x="447.79" y="412.95" font-size="11.2" textLength="23.00" lengthAdjust="spacingAndGlyphs" fill="#1e1e8c" stroke="#1e1e8c" stroke-width="0.3">시간</text><text x="478.43" y="412.95" font-size="11.2" textLength="23.38" lengthAdjust="spacingAndGlyphs" fill="#1e1e8c" stroke="#1e1e8c" stroke-width="0.3">마다</text><text x="406.13" y="429.17" font-size="12.2" textLength="24.48" lengthAdjust="spacingAndGlyphs" fill="#1e1e8c" stroke="#1e1e8c" stroke-width="0.3">환원</text><text x="437.31" y="429.17" font-size="12.2" textLength="22.97" lengthAdjust="spacingAndGlyphs" fill="#1e1e8c" stroke="#1e1e8c" stroke-width="0.3">전극</text><text x="466.98" y="429.17" font-size="12.2" textLength="23.15" lengthAdjust="spacingAndGlyphs" fill="#1e1e8c" stroke="#1e1e8c" stroke-width="0.3">교대</text><text x="497.68" y="429.17" font-size="12.2" textLength="23.93" lengthAdjust="spacingAndGlyphs" fill="#1e1e8c" stroke="#1e1e8c" stroke-width="0.3">운전</text></g><g font-family="'Liberation Sans', 'Noto Sans CJK KR', sans-serif" font-weight="bold" fill="#f4e100" stroke="#f4e100" stroke-width="0.3"><text transform="matrix(0.921 0.700 0 1 134.19 546.92)" font-size="9.3">깨끗해진</text><text transform="matrix(0.917 0.697 0 1 140.93 566.47)" font-size="9.3">표면</text></g></svg></body></html>
